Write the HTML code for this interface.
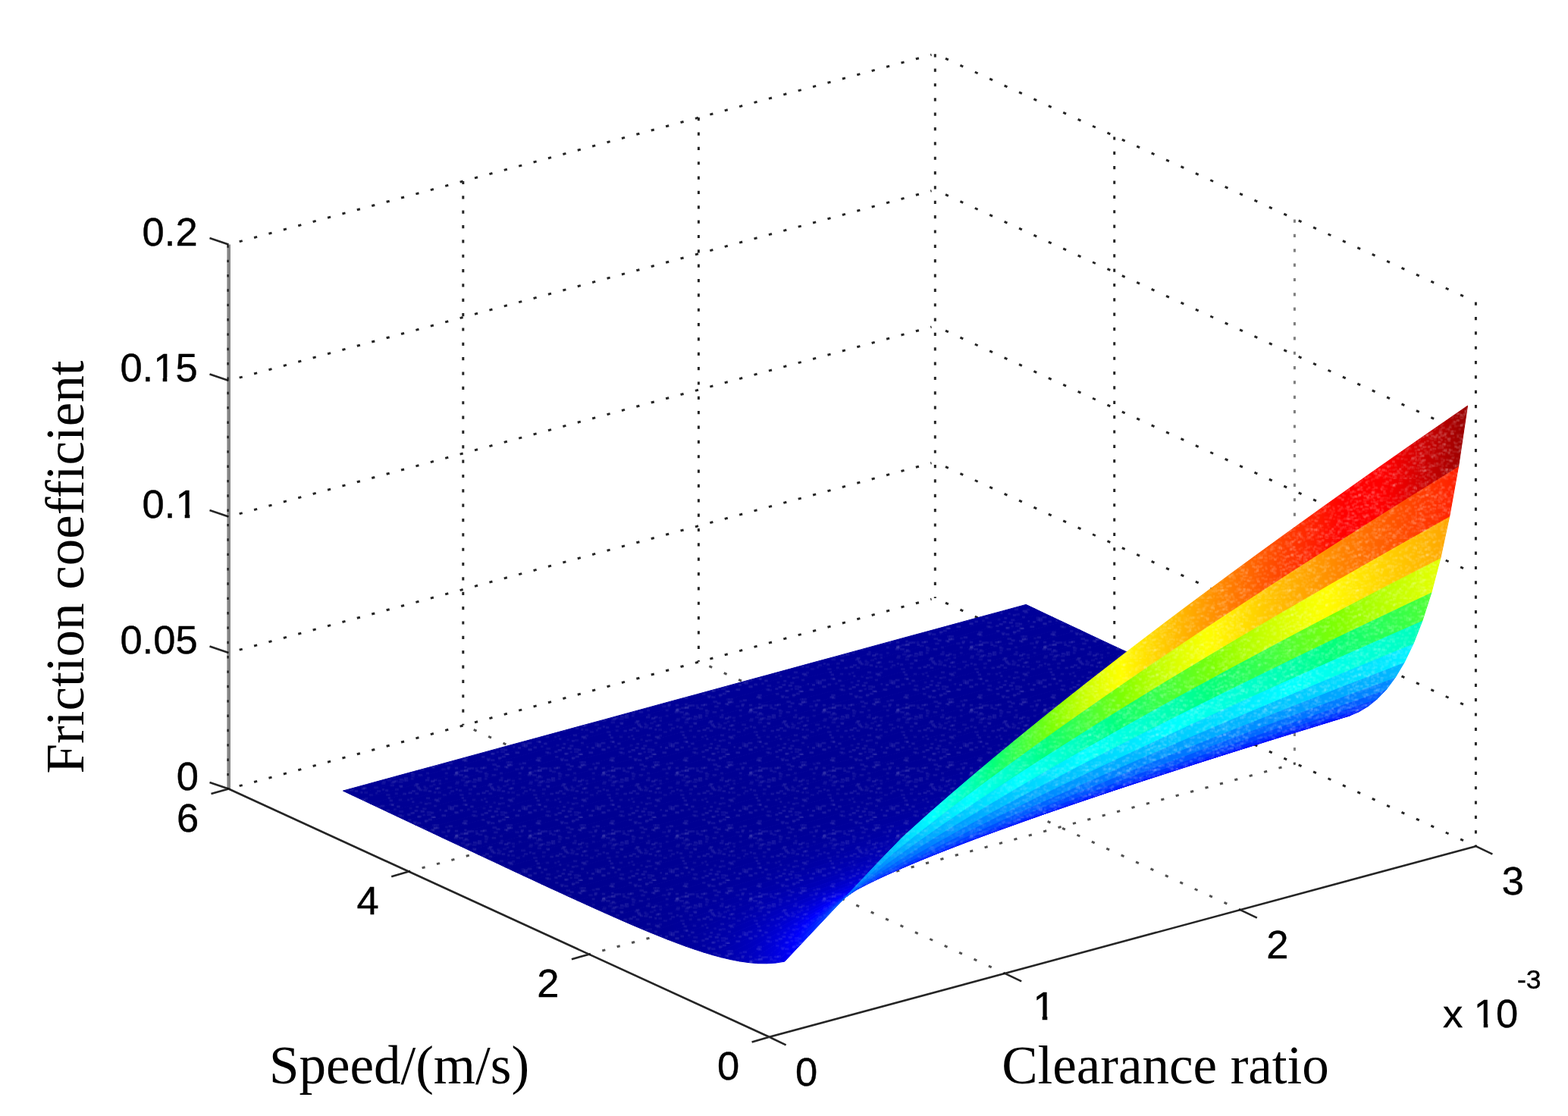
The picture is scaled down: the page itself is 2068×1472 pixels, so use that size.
<!DOCTYPE html>
<html lang="en">
<head>
<meta charset="utf-8">
<title>Friction coefficient vs speed and clearance ratio</title>
<style>
html,body{margin:0;padding:0;background:#fff;}
body{width:2068px;height:1472px;overflow:hidden;}
svg{display:block;}
</style>
</head>
<body>
<svg width="2068" height="1472" viewBox="0 0 2068 1472">
<rect width="2068" height="1472" fill="#fff"/>
<g id="grid" stroke="#000" stroke-width="3.0" fill="none" opacity="0.85">
<line x1="301.5" y1="1040.5" x2="1228.5" y2="790.2" stroke-dasharray="4.20 15.89" stroke-dashoffset="5.41"/>
<line x1="1233.3" y1="788.9" x2="1940.9" y2="1113.7" stroke-dasharray="4.20 17.15" stroke-dashoffset="6.28"/>
<line x1="301.5" y1="861" x2="1228.5" y2="610.7" stroke-dasharray="4.20 15.89" stroke-dashoffset="5.41"/>
<line x1="1233.3" y1="609.4" x2="1940.9" y2="934.2" stroke-dasharray="4.20 17.15" stroke-dashoffset="6.28"/>
<line x1="301.5" y1="681.5" x2="1228.5" y2="431.2" stroke-dasharray="4.20 15.89" stroke-dashoffset="5.41"/>
<line x1="1233.3" y1="429.9" x2="1940.9" y2="754.7" stroke-dasharray="4.20 17.15" stroke-dashoffset="6.28"/>
<line x1="301.5" y1="502" x2="1228.5" y2="251.7" stroke-dasharray="4.20 15.89" stroke-dashoffset="5.41"/>
<line x1="1233.3" y1="250.4" x2="1940.9" y2="575.2" stroke-dasharray="4.20 17.15" stroke-dashoffset="6.28"/>
<line x1="301.5" y1="322.5" x2="1228.5" y2="72.2" stroke-dasharray="4.20 15.89" stroke-dashoffset="5.41"/>
<line x1="1233.3" y1="70.9" x2="1940.9" y2="395.7" stroke-dasharray="4.20 17.15" stroke-dashoffset="6.28"/>
<line x1="610.8" y1="238.6" x2="610.8" y2="956.6" stroke-dasharray="4.20 15.15" stroke-dashoffset="-0.30"/>
<line x1="921.4" y1="154.8" x2="921.4" y2="872.8" stroke-dasharray="4.20 15.15" stroke-dashoffset="-0.30"/>
<line x1="1233.3" y1="70.9" x2="1233.3" y2="788.9" stroke-dasharray="4.20 15.15" stroke-dashoffset="-0.30"/>
<line x1="1469.7" y1="180" x2="1469.7" y2="898" stroke-dasharray="4.20 15.15" stroke-dashoffset="-0.40"/>
<line x1="1707.4" y1="289.1" x2="1707.4" y2="1007.1" stroke-dasharray="4.20 15.15" stroke-dashoffset="-0.40" stroke-opacity="0.6"/>
<line x1="1946.4" y1="398.2" x2="1946.4" y2="1116.2" stroke-dasharray="4.20 15.15" stroke-dashoffset="-0.40"/>
<line x1="1325.2" y1="1283.9" x2="612.1" y2="956.6" stroke-dasharray="4.20 17.15" stroke-dashoffset="2.10" stroke-opacity="0.8"/>
<line x1="1635.8" y1="1200.1" x2="922.7" y2="872.8" stroke-dasharray="4.20 17.15" stroke-dashoffset="2.10" stroke-opacity="0.8"/>
<line x1="776.9" y1="1258.7" x2="1708.7" y2="1007.1" stroke-dasharray="4.20 15.89" stroke-dashoffset="2.10" stroke-opacity="0.8"/>
<line x1="539.2" y1="1149.6" x2="1471" y2="898" stroke-dasharray="4.20 15.89" stroke-dashoffset="2.10" stroke-opacity="0.8"/>
</g>
<defs><path id="p48" d="M464.3,1048.7L495.4,1040.2L526.4,1031.7L557.5,1023.2L588.5,1014.8L619.6,1006.3L650.7,997.8L681.7,989.4L712.8,980.9L743.8,972.4L774.9,963.9L806,955.5L837,947L868.1,938.5L899.1,930.1L930.2,921.6L961.3,913.1L992.3,904.7L1023.4,896.2L1054.4,887.7L1085.5,879.2L1116.6,870.8L1147.6,862.3L1178.7,853.8L1209.7,845.4L1240.8,836.9L1271.9,828.4L1302.9,820L1334,811.5L1365,803L1353.2,797.4L1322.1,805.9L1291,814.3L1260,822.8L1228.9,831.3L1197.8,839.7L1166.8,848.2L1135.7,856.7L1104.7,865.2L1073.6,873.6L1042.6,882.1L1011.5,890.6L980.4,899L949.4,907.5L918.3,916L887.2,924.4L856.2,932.9L825.1,941.4L794.1,949.9L763,958.3L732,966.8L700.9,975.3L669.8,983.7L638.8,992.2L607.7,1000.7L576.7,1009.2L545.6,1017.6L514.5,1026.1L483.5,1034.6L452.4,1043.1Z"/>
<linearGradient id="g48" gradientUnits="userSpaceOnUse" x1="458.4" y1="0" x2="1359.1" y2="0"><stop offset="0.000" stop-color="#000095"/><stop offset="0.190" stop-color="#000095"/><stop offset="0.207" stop-color="#000096"/><stop offset="0.414" stop-color="#000096"/><stop offset="0.431" stop-color="#000097"/><stop offset="0.638" stop-color="#000097"/><stop offset="0.655" stop-color="#000098"/><stop offset="0.862" stop-color="#000098"/><stop offset="0.879" stop-color="#000099"/><stop offset="1.000" stop-color="#000099"/></linearGradient>
<path id="p47" d="M476.2,1054.3L507.2,1045.8L538.3,1037.3L569.4,1028.8L600.4,1020.4L631.5,1011.9L662.5,1003.4L693.6,995L724.7,986.5L755.7,978L786.8,969.5L817.8,961.1L848.9,952.6L880,944.1L911,935.7L942.1,927.2L973.1,918.7L1004.2,910.3L1035.3,901.8L1066.3,893.3L1097.4,884.9L1128.4,876.4L1159.5,867.9L1190.6,859.5L1221.6,851L1252.7,842.5L1283.7,834.1L1314.8,825.6L1345.9,817.1L1376.9,808.7L1365,803L1334,811.5L1302.9,820L1271.9,828.4L1240.8,836.9L1209.7,845.4L1178.7,853.8L1147.6,862.3L1116.6,870.8L1085.5,879.2L1054.4,887.7L1023.4,896.2L992.3,904.7L961.3,913.1L930.2,921.6L899.1,930.1L868.1,938.5L837,947L806,955.5L774.9,963.9L743.8,972.4L712.8,980.9L681.7,989.4L650.7,997.8L619.6,1006.3L588.5,1014.8L557.5,1023.2L526.4,1031.7L495.4,1040.2L464.3,1048.7Z"/>
<linearGradient id="g47" gradientUnits="userSpaceOnUse" x1="470.2" y1="0" x2="1371" y2="0"><stop offset="0.000" stop-color="#000094"/><stop offset="0.052" stop-color="#000094"/><stop offset="0.069" stop-color="#000095"/><stop offset="0.259" stop-color="#000095"/><stop offset="0.276" stop-color="#000096"/><stop offset="0.483" stop-color="#000096"/><stop offset="0.500" stop-color="#000097"/><stop offset="0.707" stop-color="#000097"/><stop offset="0.724" stop-color="#000098"/><stop offset="0.931" stop-color="#000098"/><stop offset="0.948" stop-color="#000099"/><stop offset="1.000" stop-color="#000099"/></linearGradient>
<path id="p46" d="M488.1,1059.9L519.1,1051.4L550.2,1042.9L581.2,1034.5L612.3,1026L643.4,1017.5L674.4,1009L705.5,1000.6L736.5,992.1L767.6,983.6L798.7,975.2L829.7,966.7L860.8,958.2L891.8,949.7L922.9,941.3L954,932.8L985,924.3L1016.1,915.9L1047.1,907.4L1078.2,898.9L1109.3,890.5L1140.3,882L1171.4,873.5L1202.4,865.1L1233.5,856.6L1264.6,848.1L1295.6,839.7L1326.7,831.2L1357.7,822.8L1388.8,814.3L1376.9,808.7L1345.9,817.1L1314.8,825.6L1283.7,834.1L1252.7,842.5L1221.6,851L1190.6,859.5L1159.5,867.9L1128.4,876.4L1097.4,884.9L1066.3,893.3L1035.3,901.8L1004.2,910.3L973.1,918.7L942.1,927.2L911,935.7L880,944.1L848.9,952.6L817.8,961.1L786.8,969.5L755.7,978L724.7,986.5L693.6,995L662.5,1003.4L631.5,1011.9L600.4,1020.4L569.4,1028.8L538.3,1037.3L507.2,1045.8L476.2,1054.3Z"/>
<linearGradient id="g46" gradientUnits="userSpaceOnUse" x1="482.1" y1="0" x2="1382.9" y2="0"><stop offset="0.000" stop-color="#000094"/><stop offset="0.103" stop-color="#000094"/><stop offset="0.121" stop-color="#000095"/><stop offset="0.328" stop-color="#000095"/><stop offset="0.345" stop-color="#000096"/><stop offset="0.552" stop-color="#000096"/><stop offset="0.569" stop-color="#000097"/><stop offset="0.776" stop-color="#000097"/><stop offset="0.793" stop-color="#000098"/><stop offset="1.000" stop-color="#000098"/></linearGradient>
<path id="p45" d="M500,1065.5L531,1057L562.1,1048.5L593.1,1040.1L624.2,1031.6L655.2,1023.1L686.3,1014.6L717.4,1006.2L748.4,997.7L779.5,989.2L810.5,980.8L841.6,972.3L872.7,963.8L903.7,955.4L934.8,946.9L965.8,938.4L996.9,930L1028,921.5L1059,913L1090.1,904.6L1121.2,896.1L1152.2,887.6L1183.3,879.2L1214.3,870.7L1245.4,862.2L1276.5,853.8L1307.5,845.3L1338.6,836.8L1369.6,828.4L1400.7,819.9L1388.8,814.3L1357.7,822.8L1326.7,831.2L1295.6,839.7L1264.6,848.1L1233.5,856.6L1202.4,865.1L1171.4,873.5L1140.3,882L1109.3,890.5L1078.2,898.9L1047.1,907.4L1016.1,915.9L985,924.3L954,932.8L922.9,941.3L891.8,949.7L860.8,958.2L829.7,966.7L798.7,975.2L767.6,983.6L736.5,992.1L705.5,1000.6L674.4,1009L643.4,1017.5L612.3,1026L581.2,1034.5L550.2,1042.9L519.1,1051.4L488.1,1059.9Z"/>
<linearGradient id="g45" gradientUnits="userSpaceOnUse" x1="494" y1="0" x2="1394.7" y2="0"><stop offset="0.000" stop-color="#000094"/><stop offset="0.155" stop-color="#000094"/><stop offset="0.172" stop-color="#000095"/><stop offset="0.379" stop-color="#000095"/><stop offset="0.397" stop-color="#000096"/><stop offset="0.603" stop-color="#000096"/><stop offset="0.621" stop-color="#000097"/><stop offset="0.845" stop-color="#000097"/><stop offset="0.862" stop-color="#000098"/><stop offset="1.000" stop-color="#000098"/></linearGradient>
<path id="p44" d="M511.8,1071.1L542.9,1062.6L574,1054.1L605,1045.7L636.1,1037.2L667.1,1028.7L698.2,1020.2L729.3,1011.8L760.3,1003.3L791.4,994.8L822.4,986.4L853.5,977.9L884.6,969.4L915.6,960.9L946.7,952.5L977.7,944L1008.8,935.5L1039.9,927.1L1070.9,918.6L1102,910.2L1133,901.7L1164.1,893.2L1195.2,884.8L1226.2,876.3L1257.3,867.8L1288.3,859.4L1319.4,850.9L1350.5,842.4L1381.5,834L1412.6,825.5L1400.7,819.9L1369.6,828.4L1338.6,836.8L1307.5,845.3L1276.5,853.8L1245.4,862.2L1214.3,870.7L1183.3,879.2L1152.2,887.6L1121.2,896.1L1090.1,904.6L1059,913L1028,921.5L996.9,930L965.8,938.4L934.8,946.9L903.7,955.4L872.7,963.8L841.6,972.3L810.5,980.8L779.5,989.2L748.4,997.7L717.4,1006.2L686.3,1014.6L655.2,1023.1L624.2,1031.6L593.1,1040.1L562.1,1048.5L531,1057L500,1065.5Z"/>
<linearGradient id="g44" gradientUnits="userSpaceOnUse" x1="505.9" y1="0" x2="1406.6" y2="0"><stop offset="0.000" stop-color="#000093"/><stop offset="0.017" stop-color="#000093"/><stop offset="0.034" stop-color="#000094"/><stop offset="0.224" stop-color="#000094"/><stop offset="0.241" stop-color="#000095"/><stop offset="0.448" stop-color="#000095"/><stop offset="0.466" stop-color="#000096"/><stop offset="0.672" stop-color="#000096"/><stop offset="0.690" stop-color="#000097"/><stop offset="0.914" stop-color="#000097"/><stop offset="0.931" stop-color="#000098"/><stop offset="1.000" stop-color="#000098"/></linearGradient>
<path id="p43" d="M523.7,1076.7L554.8,1068.2L585.8,1059.7L616.9,1051.2L648,1042.8L679,1034.3L710.1,1025.8L741.1,1017.4L772.2,1008.9L803.3,1000.4L834.3,991.9L865.4,983.5L896.4,975L927.5,966.5L958.6,958.1L989.6,949.6L1020.7,941.1L1051.7,932.7L1082.8,924.2L1113.9,915.7L1144.9,907.3L1176,898.8L1207,890.4L1238.1,881.9L1269.2,873.4L1300.2,865L1331.3,856.5L1362.3,848L1393.4,839.6L1424.5,831.1L1412.6,825.5L1381.5,834L1350.5,842.4L1319.4,850.9L1288.3,859.4L1257.3,867.8L1226.2,876.3L1195.2,884.8L1164.1,893.2L1133,901.7L1102,910.2L1070.9,918.6L1039.9,927.1L1008.8,935.5L977.7,944L946.7,952.5L915.6,960.9L884.6,969.4L853.5,977.9L822.4,986.4L791.4,994.8L760.3,1003.3L729.3,1011.8L698.2,1020.2L667.1,1028.7L636.1,1037.2L605,1045.7L574,1054.1L542.9,1062.6L511.8,1071.1Z"/>
<linearGradient id="g43" gradientUnits="userSpaceOnUse" x1="517.8" y1="0" x2="1418.5" y2="0"><stop offset="0.000" stop-color="#000093"/><stop offset="0.069" stop-color="#000093"/><stop offset="0.086" stop-color="#000094"/><stop offset="0.276" stop-color="#000094"/><stop offset="0.293" stop-color="#000095"/><stop offset="0.500" stop-color="#000095"/><stop offset="0.517" stop-color="#000096"/><stop offset="0.741" stop-color="#000096"/><stop offset="0.759" stop-color="#000097"/><stop offset="0.983" stop-color="#000097"/><stop offset="1.000" stop-color="#000098"/></linearGradient>
<path id="p42" d="M535.6,1082.3L566.7,1073.8L597.7,1065.3L628.8,1056.8L659.8,1048.4L690.9,1039.9L722,1031.4L753,1022.9L784.1,1014.5L815.1,1006L846.2,997.5L877.3,989.1L908.3,980.6L939.4,972.1L970.4,963.7L1001.5,955.2L1032.6,946.7L1063.6,938.3L1094.7,929.8L1125.7,921.3L1156.8,912.9L1187.9,904.4L1218.9,895.9L1250,887.5L1281,879L1312.1,870.6L1343.2,862.1L1374.2,853.6L1405.3,845.2L1436.3,836.7L1424.5,831.1L1393.4,839.6L1362.3,848L1331.3,856.5L1300.2,865L1269.2,873.4L1238.1,881.9L1207,890.4L1176,898.8L1144.9,907.3L1113.9,915.7L1082.8,924.2L1051.7,932.7L1020.7,941.1L989.6,949.6L958.6,958.1L927.5,966.5L896.4,975L865.4,983.5L834.3,991.9L803.3,1000.4L772.2,1008.9L741.1,1017.4L710.1,1025.8L679,1034.3L648,1042.8L616.9,1051.2L585.8,1059.7L554.8,1068.2L523.7,1076.7Z"/>
<linearGradient id="g42" gradientUnits="userSpaceOnUse" x1="529.7" y1="0" x2="1430.4" y2="0"><stop offset="0.000" stop-color="#000093"/><stop offset="0.121" stop-color="#000093"/><stop offset="0.138" stop-color="#000094"/><stop offset="0.328" stop-color="#000094"/><stop offset="0.345" stop-color="#000095"/><stop offset="0.552" stop-color="#000095"/><stop offset="0.569" stop-color="#000096"/><stop offset="0.793" stop-color="#000096"/><stop offset="0.810" stop-color="#000097"/><stop offset="1.000" stop-color="#000097"/></linearGradient>
<path id="p41" d="M547.5,1087.9L578.5,1079.4L609.6,1070.9L640.7,1062.4L671.7,1054L702.8,1045.5L733.8,1037L764.9,1028.5L796,1020.1L827,1011.6L858.1,1003.1L889.2,994.6L920.2,986.2L951.3,977.7L982.3,969.2L1013.4,960.8L1044.4,952.3L1075.5,943.8L1106.6,935.4L1137.6,926.9L1168.7,918.4L1199.8,910L1230.8,901.5L1261.9,893.1L1292.9,884.6L1324,876.1L1355.1,867.7L1386.1,859.2L1417.2,850.8L1448.2,842.3L1436.3,836.7L1405.3,845.2L1374.2,853.6L1343.2,862.1L1312.1,870.6L1281,879L1250,887.5L1218.9,895.9L1187.9,904.4L1156.8,912.9L1125.7,921.3L1094.7,929.8L1063.6,938.3L1032.6,946.7L1001.5,955.2L970.4,963.7L939.4,972.1L908.3,980.6L877.3,989.1L846.2,997.5L815.1,1006L784.1,1014.5L753,1022.9L722,1031.4L690.9,1039.9L659.8,1048.4L628.8,1056.8L597.7,1065.3L566.7,1073.8L535.6,1082.3Z"/>
<linearGradient id="g41" gradientUnits="userSpaceOnUse" x1="541.5" y1="0" x2="1442.3" y2="0"><stop offset="0.000" stop-color="#000093"/><stop offset="0.172" stop-color="#000093"/><stop offset="0.190" stop-color="#000094"/><stop offset="0.379" stop-color="#000094"/><stop offset="0.397" stop-color="#000095"/><stop offset="0.621" stop-color="#000095"/><stop offset="0.638" stop-color="#000096"/><stop offset="0.862" stop-color="#000096"/><stop offset="0.879" stop-color="#000097"/><stop offset="1.000" stop-color="#000097"/></linearGradient>
<path id="p40" d="M559.4,1093.5L590.4,1085L621.5,1076.5L652.6,1068L683.6,1059.5L714.7,1051.1L745.7,1042.6L776.8,1034.1L807.9,1025.6L838.9,1017.2L870,1008.7L901,1000.2L932.1,991.7L963.2,983.3L994.2,974.8L1025.3,966.3L1056.3,957.9L1087.4,949.4L1118.5,940.9L1149.5,932.5L1180.6,924L1211.6,915.6L1242.7,907.1L1273.8,898.6L1304.8,890.2L1335.9,881.7L1366.9,873.2L1398,864.8L1429.1,856.3L1460.1,847.9L1448.2,842.3L1417.2,850.8L1386.1,859.2L1355.1,867.7L1324,876.1L1292.9,884.6L1261.9,893.1L1230.8,901.5L1199.8,910L1168.7,918.4L1137.6,926.9L1106.6,935.4L1075.5,943.8L1044.4,952.3L1013.4,960.8L982.3,969.2L951.3,977.7L920.2,986.2L889.2,994.6L858.1,1003.1L827,1011.6L796,1020.1L764.9,1028.5L733.8,1037L702.8,1045.5L671.7,1054L640.7,1062.4L609.6,1070.9L578.5,1079.4L547.5,1087.9Z"/>
<linearGradient id="g40" gradientUnits="userSpaceOnUse" x1="553.4" y1="0" x2="1454.2" y2="0"><stop offset="0.000" stop-color="#000092"/><stop offset="0.017" stop-color="#000092"/><stop offset="0.034" stop-color="#000093"/><stop offset="0.207" stop-color="#000093"/><stop offset="0.224" stop-color="#000094"/><stop offset="0.431" stop-color="#000094"/><stop offset="0.448" stop-color="#000095"/><stop offset="0.672" stop-color="#000095"/><stop offset="0.690" stop-color="#000096"/><stop offset="0.914" stop-color="#000096"/><stop offset="0.931" stop-color="#000097"/><stop offset="1.000" stop-color="#000097"/></linearGradient>
<path id="p39" d="M571.3,1099.1L602.3,1090.6L633.4,1082.1L664.4,1073.6L695.5,1065.1L726.6,1056.6L757.6,1048.1L788.7,1039.7L819.7,1031.2L850.8,1022.7L881.9,1014.2L912.9,1005.8L944,997.3L975,988.8L1006.1,980.4L1037.2,971.9L1068.2,963.4L1099.3,955L1130.3,946.5L1161.4,938L1192.5,929.6L1223.5,921.1L1254.6,912.6L1285.6,904.2L1316.7,895.7L1347.8,887.3L1378.8,878.8L1409.9,870.3L1440.9,861.9L1472,853.4L1460.1,847.9L1429.1,856.3L1398,864.8L1366.9,873.2L1335.9,881.7L1304.8,890.2L1273.8,898.6L1242.7,907.1L1211.6,915.6L1180.6,924L1149.5,932.5L1118.5,940.9L1087.4,949.4L1056.3,957.9L1025.3,966.3L994.2,974.8L963.2,983.3L932.1,991.7L901,1000.2L870,1008.7L838.9,1017.2L807.9,1025.6L776.8,1034.1L745.7,1042.6L714.7,1051.1L683.6,1059.5L652.6,1068L621.5,1076.5L590.4,1085L559.4,1093.5Z"/>
<linearGradient id="g39" gradientUnits="userSpaceOnUse" x1="565.3" y1="0" x2="1466.1" y2="0"><stop offset="0.000" stop-color="#000092"/><stop offset="0.069" stop-color="#000092"/><stop offset="0.086" stop-color="#000093"/><stop offset="0.259" stop-color="#000093"/><stop offset="0.276" stop-color="#000094"/><stop offset="0.483" stop-color="#000094"/><stop offset="0.500" stop-color="#000095"/><stop offset="0.707" stop-color="#000095"/><stop offset="0.724" stop-color="#000096"/><stop offset="0.948" stop-color="#000096"/><stop offset="0.966" stop-color="#000097"/><stop offset="1.000" stop-color="#000097"/></linearGradient>
<path id="p38" d="M583.1,1104.7L614.2,1096.2L645.3,1087.7L676.3,1079.2L707.4,1070.7L738.4,1062.2L769.5,1053.7L800.6,1045.2L831.6,1036.8L862.7,1028.3L893.7,1019.8L924.8,1011.3L955.9,1002.9L986.9,994.4L1018,985.9L1049,977.4L1080.1,969L1111.2,960.5L1142.2,952L1173.3,943.6L1204.3,935.1L1235.4,926.6L1266.5,918.2L1297.5,909.7L1328.6,901.2L1359.6,892.8L1390.7,884.3L1421.8,875.9L1452.8,867.4L1483.9,858.9L1472,853.4L1440.9,861.9L1409.9,870.3L1378.8,878.8L1347.8,887.3L1316.7,895.7L1285.6,904.2L1254.6,912.6L1223.5,921.1L1192.5,929.6L1161.4,938L1130.3,946.5L1099.3,955L1068.2,963.4L1037.2,971.9L1006.1,980.4L975,988.8L944,997.3L912.9,1005.8L881.9,1014.2L850.8,1022.7L819.7,1031.2L788.7,1039.7L757.6,1048.1L726.6,1056.6L695.5,1065.1L664.4,1073.6L633.4,1082.1L602.3,1090.6L571.3,1099.1Z"/>
<linearGradient id="g38" gradientUnits="userSpaceOnUse" x1="577.2" y1="0" x2="1477.9" y2="0"><stop offset="0.000" stop-color="#000092"/><stop offset="0.103" stop-color="#000092"/><stop offset="0.121" stop-color="#000093"/><stop offset="0.293" stop-color="#000093"/><stop offset="0.310" stop-color="#000094"/><stop offset="0.517" stop-color="#000094"/><stop offset="0.534" stop-color="#000095"/><stop offset="0.741" stop-color="#000095"/><stop offset="0.759" stop-color="#000096"/><stop offset="0.983" stop-color="#000096"/><stop offset="1.000" stop-color="#000097"/></linearGradient>
<path id="p37" d="M595,1110.3L626.1,1101.7L657.1,1093.2L688.2,1084.7L719.3,1076.2L750.3,1067.8L781.4,1059.3L812.4,1050.8L843.5,1042.3L874.6,1033.8L905.6,1025.3L936.7,1016.9L967.8,1008.4L998.8,999.9L1029.9,991.4L1060.9,983L1092,974.5L1123.1,966L1154.1,957.6L1185.2,949.1L1216.2,940.6L1247.3,932.2L1278.3,923.7L1309.4,915.2L1340.5,906.8L1371.5,898.3L1402.6,889.8L1433.7,881.4L1464.7,872.9L1495.8,864.5L1483.9,858.9L1452.8,867.4L1421.8,875.9L1390.7,884.3L1359.6,892.8L1328.6,901.2L1297.5,909.7L1266.5,918.2L1235.4,926.6L1204.3,935.1L1173.3,943.6L1142.2,952L1111.2,960.5L1080.1,969L1049,977.4L1018,985.9L986.9,994.4L955.9,1002.9L924.8,1011.3L893.7,1019.8L862.7,1028.3L831.6,1036.8L800.6,1045.2L769.5,1053.7L738.4,1062.2L707.4,1070.7L676.3,1079.2L645.3,1087.7L614.2,1096.2L583.1,1104.7Z"/>
<linearGradient id="g37" gradientUnits="userSpaceOnUse" x1="589.1" y1="0" x2="1489.8" y2="0"><stop offset="0.000" stop-color="#000092"/><stop offset="0.138" stop-color="#000092"/><stop offset="0.155" stop-color="#000093"/><stop offset="0.328" stop-color="#000093"/><stop offset="0.345" stop-color="#000094"/><stop offset="0.534" stop-color="#000094"/><stop offset="0.552" stop-color="#000095"/><stop offset="0.776" stop-color="#000095"/><stop offset="0.793" stop-color="#000096"/><stop offset="1.000" stop-color="#000096"/></linearGradient>
<path id="p36" d="M606.9,1115.8L638,1107.3L669,1098.8L700.1,1090.3L731.2,1081.8L762.2,1073.3L793.3,1064.8L824.3,1056.3L855.4,1047.8L886.5,1039.3L917.5,1030.9L948.6,1022.4L979.6,1013.9L1010.7,1005.4L1041.8,996.9L1072.8,988.5L1103.9,980L1134.9,971.5L1166,963.1L1197.1,954.6L1228.1,946.1L1259.2,937.6L1290.2,929.2L1321.3,920.7L1352.4,912.2L1383.4,903.8L1414.5,895.3L1445.5,886.9L1476.6,878.4L1507.7,869.9L1495.8,864.5L1464.7,872.9L1433.7,881.4L1402.6,889.8L1371.5,898.3L1340.5,906.8L1309.4,915.2L1278.3,923.7L1247.3,932.2L1216.2,940.6L1185.2,949.1L1154.1,957.6L1123.1,966L1092,974.5L1060.9,983L1029.9,991.4L998.8,999.9L967.8,1008.4L936.7,1016.9L905.6,1025.3L874.6,1033.8L843.5,1042.3L812.4,1050.8L781.4,1059.3L750.3,1067.8L719.3,1076.2L688.2,1084.7L657.1,1093.2L626.1,1101.7L595,1110.3Z"/>
<linearGradient id="g36" gradientUnits="userSpaceOnUse" x1="601" y1="0" x2="1501.7" y2="0"><stop offset="0.000" stop-color="#000091"/><stop offset="0.017" stop-color="#000091"/><stop offset="0.034" stop-color="#000092"/><stop offset="0.172" stop-color="#000092"/><stop offset="0.190" stop-color="#000093"/><stop offset="0.362" stop-color="#000093"/><stop offset="0.379" stop-color="#000094"/><stop offset="0.569" stop-color="#000094"/><stop offset="0.586" stop-color="#000095"/><stop offset="0.793" stop-color="#000095"/><stop offset="0.810" stop-color="#000096"/><stop offset="1.000" stop-color="#000096"/></linearGradient>
<path id="p35" d="M618.8,1121.4L649.9,1112.9L680.9,1104.4L712,1095.9L743,1087.3L774.1,1078.8L805.2,1070.3L836.2,1061.8L867.3,1053.3L898.3,1044.9L929.4,1036.4L960.5,1027.9L991.5,1019.4L1022.6,1010.9L1053.6,1002.4L1084.7,994L1115.8,985.5L1146.8,977L1177.9,968.5L1208.9,960.1L1240,951.6L1271.1,943.1L1302.1,934.6L1333.2,926.2L1364.2,917.7L1395.3,909.2L1426.4,900.8L1457.4,892.3L1488.5,883.8L1519.5,875.4L1507.7,869.9L1476.6,878.4L1445.5,886.9L1414.5,895.3L1383.4,903.8L1352.4,912.2L1321.3,920.7L1290.2,929.2L1259.2,937.6L1228.1,946.1L1197.1,954.6L1166,963.1L1134.9,971.5L1103.9,980L1072.8,988.5L1041.8,996.9L1010.7,1005.4L979.6,1013.9L948.6,1022.4L917.5,1030.9L886.5,1039.3L855.4,1047.8L824.3,1056.3L793.3,1064.8L762.2,1073.3L731.2,1081.8L700.1,1090.3L669,1098.8L638,1107.3L606.9,1115.8Z"/>
<linearGradient id="g35" gradientUnits="userSpaceOnUse" x1="612.9" y1="0" x2="1513.6" y2="0"><stop offset="0.000" stop-color="#000091"/><stop offset="0.052" stop-color="#000091"/><stop offset="0.069" stop-color="#000092"/><stop offset="0.190" stop-color="#000092"/><stop offset="0.207" stop-color="#000093"/><stop offset="0.379" stop-color="#000093"/><stop offset="0.397" stop-color="#000094"/><stop offset="0.569" stop-color="#000094"/><stop offset="0.586" stop-color="#000095"/><stop offset="0.793" stop-color="#000095"/><stop offset="0.810" stop-color="#000096"/><stop offset="1.000" stop-color="#000096"/></linearGradient>
<path id="p34" d="M630.7,1127L661.7,1118.5L692.8,1109.9L723.9,1101.4L754.9,1092.9L786,1084.4L817,1075.8L848.1,1067.3L879.2,1058.8L910.2,1050.3L941.3,1041.9L972.3,1033.4L1003.4,1024.9L1034.5,1016.4L1065.5,1007.9L1096.6,999.4L1127.6,990.9L1158.7,982.5L1189.8,974L1220.8,965.5L1251.9,957L1282.9,948.5L1314,940.1L1345.1,931.6L1376.1,923.1L1407.2,914.7L1438.2,906.2L1469.3,897.7L1500.4,889.3L1531.4,880.8L1519.5,875.4L1488.5,883.8L1457.4,892.3L1426.4,900.8L1395.3,909.2L1364.2,917.7L1333.2,926.2L1302.1,934.6L1271.1,943.1L1240,951.6L1208.9,960.1L1177.9,968.5L1146.8,977L1115.8,985.5L1084.7,994L1053.6,1002.4L1022.6,1010.9L991.5,1019.4L960.5,1027.9L929.4,1036.4L898.3,1044.9L867.3,1053.3L836.2,1061.8L805.2,1070.3L774.1,1078.8L743,1087.3L712,1095.9L680.9,1104.4L649.9,1112.9L618.8,1121.4Z"/>
<linearGradient id="g34" gradientUnits="userSpaceOnUse" x1="624.7" y1="0" x2="1525.5" y2="0"><stop offset="0.000" stop-color="#000091"/><stop offset="0.069" stop-color="#000091"/><stop offset="0.086" stop-color="#000092"/><stop offset="0.207" stop-color="#000092"/><stop offset="0.224" stop-color="#000093"/><stop offset="0.379" stop-color="#000093"/><stop offset="0.397" stop-color="#000094"/><stop offset="0.569" stop-color="#000094"/><stop offset="0.586" stop-color="#000095"/><stop offset="0.776" stop-color="#000095"/><stop offset="0.793" stop-color="#000096"/><stop offset="1.000" stop-color="#000096"/></linearGradient>
<path id="p33" d="M642.6,1132.6L673.6,1124L704.7,1115.5L735.8,1106.9L766.8,1098.4L797.9,1089.9L828.9,1081.3L860,1072.8L891.1,1064.3L922.1,1055.8L953.2,1047.3L984.2,1038.8L1015.3,1030.3L1046.3,1021.8L1077.4,1013.3L1108.5,1004.8L1139.5,996.4L1170.6,987.9L1201.7,979.4L1232.7,970.9L1263.8,962.4L1294.8,953.9L1325.9,945.5L1356.9,937L1388,928.5L1419.1,920L1450.1,911.6L1481.2,903.1L1512.2,894.6L1543.3,886.2L1531.4,880.8L1500.4,889.3L1469.3,897.7L1438.2,906.2L1407.2,914.7L1376.1,923.1L1345.1,931.6L1314,940.1L1282.9,948.5L1251.9,957L1220.8,965.5L1189.8,974L1158.7,982.5L1127.6,990.9L1096.6,999.4L1065.5,1007.9L1034.5,1016.4L1003.4,1024.9L972.3,1033.4L941.3,1041.9L910.2,1050.3L879.2,1058.8L848.1,1067.3L817,1075.8L786,1084.4L754.9,1092.9L723.9,1101.4L692.8,1109.9L661.7,1118.5L630.7,1127Z"/>
<linearGradient id="g33" gradientUnits="userSpaceOnUse" x1="636.6" y1="0" x2="1537.4" y2="0"><stop offset="0.000" stop-color="#000091"/><stop offset="0.086" stop-color="#000091"/><stop offset="0.103" stop-color="#000092"/><stop offset="0.224" stop-color="#000092"/><stop offset="0.241" stop-color="#000093"/><stop offset="0.379" stop-color="#000093"/><stop offset="0.397" stop-color="#000094"/><stop offset="0.552" stop-color="#000094"/><stop offset="0.569" stop-color="#000095"/><stop offset="0.741" stop-color="#000095"/><stop offset="0.759" stop-color="#000096"/><stop offset="0.966" stop-color="#000096"/><stop offset="0.983" stop-color="#000097"/><stop offset="1.000" stop-color="#000097"/></linearGradient>
<path id="p32" d="M654.5,1138.1L685.5,1129.6L716.6,1121L747.6,1112.5L778.7,1103.9L809.8,1095.3L840.8,1086.8L871.9,1078.3L902.9,1069.8L934,1061.3L965.1,1052.7L996.1,1044.2L1027.2,1035.7L1058.2,1027.2L1089.3,1018.7L1120.4,1010.2L1151.4,1001.7L1182.5,993.2L1213.5,984.8L1244.6,976.3L1275.7,967.8L1306.7,959.3L1337.8,950.8L1368.8,942.3L1399.9,933.8L1431,925.4L1462,916.9L1493.1,908.4L1524.1,899.9L1555.2,891.5L1543.3,886.2L1512.2,894.6L1481.2,903.1L1450.1,911.6L1419.1,920L1388,928.5L1356.9,937L1325.9,945.5L1294.8,953.9L1263.8,962.4L1232.7,970.9L1201.7,979.4L1170.6,987.9L1139.5,996.4L1108.5,1004.8L1077.4,1013.3L1046.3,1021.8L1015.3,1030.3L984.2,1038.8L953.2,1047.3L922.1,1055.8L891.1,1064.3L860,1072.8L828.9,1081.3L797.9,1089.9L766.8,1098.4L735.8,1106.9L704.7,1115.5L673.6,1124L642.6,1132.6Z"/>
<linearGradient id="g32" gradientUnits="userSpaceOnUse" x1="648.5" y1="0" x2="1549.3" y2="0"><stop offset="0.000" stop-color="#000090"/><stop offset="0.017" stop-color="#000091"/><stop offset="0.103" stop-color="#000091"/><stop offset="0.121" stop-color="#000092"/><stop offset="0.224" stop-color="#000092"/><stop offset="0.241" stop-color="#000093"/><stop offset="0.362" stop-color="#000093"/><stop offset="0.379" stop-color="#000094"/><stop offset="0.534" stop-color="#000094"/><stop offset="0.552" stop-color="#000095"/><stop offset="0.707" stop-color="#000095"/><stop offset="0.724" stop-color="#000096"/><stop offset="0.897" stop-color="#000096"/><stop offset="0.914" stop-color="#000097"/><stop offset="1.000" stop-color="#000097"/></linearGradient>
<path id="p31" d="M666.3,1143.7L697.4,1135.1L728.5,1126.5L759.5,1118L790.6,1109.4L821.6,1100.8L852.7,1092.3L883.8,1083.7L914.8,1075.2L945.9,1066.7L976.9,1058.1L1008,1049.6L1039.1,1041.1L1070.1,1032.6L1101.2,1024.1L1132.2,1015.6L1163.3,1007.1L1194.4,998.6L1225.4,990.1L1256.5,981.6L1287.5,973.1L1318.6,964.6L1349.7,956.1L1380.7,947.6L1411.8,939.1L1442.8,930.6L1473.9,922.1L1505,913.7L1536,905.2L1567.1,896.7L1555.2,891.5L1524.1,899.9L1493.1,908.4L1462,916.9L1431,925.4L1399.9,933.8L1368.8,942.3L1337.8,950.8L1306.7,959.3L1275.7,967.8L1244.6,976.3L1213.5,984.8L1182.5,993.2L1151.4,1001.7L1120.4,1010.2L1089.3,1018.7L1058.2,1027.2L1027.2,1035.7L996.1,1044.2L965.1,1052.7L934,1061.3L902.9,1069.8L871.9,1078.3L840.8,1086.8L809.8,1095.3L778.7,1103.9L747.6,1112.5L716.6,1121L685.5,1129.6L654.5,1138.1Z"/>
<linearGradient id="g31" gradientUnits="userSpaceOnUse" x1="660.4" y1="0" x2="1561.1" y2="0"><stop offset="0.000" stop-color="#000090"/><stop offset="0.017" stop-color="#000090"/><stop offset="0.034" stop-color="#000091"/><stop offset="0.121" stop-color="#000091"/><stop offset="0.138" stop-color="#000092"/><stop offset="0.224" stop-color="#000092"/><stop offset="0.241" stop-color="#000093"/><stop offset="0.345" stop-color="#000093"/><stop offset="0.362" stop-color="#000094"/><stop offset="0.500" stop-color="#000094"/><stop offset="0.517" stop-color="#000095"/><stop offset="0.655" stop-color="#000095"/><stop offset="0.672" stop-color="#000096"/><stop offset="0.828" stop-color="#000096"/><stop offset="0.845" stop-color="#000097"/><stop offset="1.000" stop-color="#000097"/></linearGradient>
<path id="p30" d="M678.2,1149.3L709.3,1140.6L740.3,1132L771.4,1123.4L802.5,1114.8L833.5,1106.2L864.6,1097.7L895.6,1089.1L926.7,1080.6L957.8,1072L988.8,1063.5L1019.9,1055L1050.9,1046.4L1082,1037.9L1113.1,1029.4L1144.1,1020.9L1175.2,1012.3L1206.2,1003.8L1237.3,995.3L1268.4,986.8L1299.4,978.3L1330.5,969.8L1361.5,961.3L1392.6,952.8L1423.7,944.3L1454.7,935.8L1485.8,927.3L1516.8,918.8L1547.9,910.4L1579,901.9L1567.1,896.7L1536,905.2L1505,913.7L1473.9,922.1L1442.8,930.6L1411.8,939.1L1380.7,947.6L1349.7,956.1L1318.6,964.6L1287.5,973.1L1256.5,981.6L1225.4,990.1L1194.4,998.6L1163.3,1007.1L1132.2,1015.6L1101.2,1024.1L1070.1,1032.6L1039.1,1041.1L1008,1049.6L976.9,1058.1L945.9,1066.7L914.8,1075.2L883.8,1083.7L852.7,1092.3L821.6,1100.8L790.6,1109.4L759.5,1118L728.5,1126.5L697.4,1135.1L666.3,1143.7Z"/>
<linearGradient id="g30" gradientUnits="userSpaceOnUse" x1="672.3" y1="0" x2="1573" y2="0"><stop offset="0.000" stop-color="#000090"/><stop offset="0.034" stop-color="#000090"/><stop offset="0.052" stop-color="#000091"/><stop offset="0.121" stop-color="#000091"/><stop offset="0.138" stop-color="#000092"/><stop offset="0.207" stop-color="#000092"/><stop offset="0.224" stop-color="#000093"/><stop offset="0.328" stop-color="#000093"/><stop offset="0.345" stop-color="#000094"/><stop offset="0.448" stop-color="#000094"/><stop offset="0.466" stop-color="#000095"/><stop offset="0.603" stop-color="#000095"/><stop offset="0.621" stop-color="#000096"/><stop offset="0.759" stop-color="#000096"/><stop offset="0.776" stop-color="#000097"/><stop offset="0.931" stop-color="#000097"/><stop offset="0.948" stop-color="#000098"/><stop offset="1.000" stop-color="#000098"/></linearGradient>
<path id="p29" d="M690.1,1154.8L721.2,1146.2L752.2,1137.5L783.3,1128.9L814.4,1120.3L845.4,1111.6L876.5,1103.1L907.5,1094.5L938.6,1085.9L969.7,1077.4L1000.7,1068.8L1031.8,1060.2L1062.8,1051.7L1093.9,1043.2L1125,1034.6L1156,1026.1L1187.1,1017.6L1218.1,1009L1249.2,1000.5L1280.3,992L1311.3,983.5L1342.4,975L1373.4,966.5L1404.5,957.9L1435.5,949.4L1466.6,940.9L1497.7,932.4L1528.7,923.9L1559.8,915.4L1590.9,906.9L1579,901.9L1547.9,910.4L1516.8,918.8L1485.8,927.3L1454.7,935.8L1423.7,944.3L1392.6,952.8L1361.5,961.3L1330.5,969.8L1299.4,978.3L1268.4,986.8L1237.3,995.3L1206.2,1003.8L1175.2,1012.3L1144.1,1020.9L1113.1,1029.4L1082,1037.9L1050.9,1046.4L1019.9,1055L988.8,1063.5L957.8,1072L926.7,1080.6L895.6,1089.1L864.6,1097.7L833.5,1106.2L802.5,1114.8L771.4,1123.4L740.3,1132L709.3,1140.6L678.2,1149.3Z"/>
<linearGradient id="g29" gradientUnits="userSpaceOnUse" x1="684.2" y1="0" x2="1584.9" y2="0"><stop offset="0.000" stop-color="#000090"/><stop offset="0.034" stop-color="#000090"/><stop offset="0.052" stop-color="#000091"/><stop offset="0.121" stop-color="#000091"/><stop offset="0.138" stop-color="#000092"/><stop offset="0.190" stop-color="#000092"/><stop offset="0.207" stop-color="#000093"/><stop offset="0.293" stop-color="#000093"/><stop offset="0.310" stop-color="#000094"/><stop offset="0.414" stop-color="#000094"/><stop offset="0.431" stop-color="#000095"/><stop offset="0.534" stop-color="#000095"/><stop offset="0.552" stop-color="#000096"/><stop offset="0.672" stop-color="#000096"/><stop offset="0.690" stop-color="#000097"/><stop offset="0.810" stop-color="#000097"/><stop offset="0.828" stop-color="#000098"/><stop offset="0.983" stop-color="#000098"/><stop offset="1.000" stop-color="#000099"/></linearGradient>
<path id="p28" d="M702,1160.3L733.1,1151.7L764.1,1143L795.2,1134.3L826.2,1125.7L857.3,1117L888.4,1108.4L919.4,1099.8L950.5,1091.2L981.5,1082.6L1012.6,1074L1043.7,1065.5L1074.7,1056.9L1105.8,1048.3L1136.8,1039.8L1167.9,1031.2L1199,1022.7L1230,1014.2L1261.1,1005.6L1292.1,997.1L1323.2,988.6L1354.3,980L1385.3,971.5L1416.4,963L1447.4,954.5L1478.5,946L1509.6,937.4L1540.6,928.9L1571.7,920.4L1602.7,911.9L1590.9,906.9L1559.8,915.4L1528.7,923.9L1497.7,932.4L1466.6,940.9L1435.5,949.4L1404.5,957.9L1373.4,966.5L1342.4,975L1311.3,983.5L1280.3,992L1249.2,1000.5L1218.1,1009L1187.1,1017.6L1156,1026.1L1125,1034.6L1093.9,1043.2L1062.8,1051.7L1031.8,1060.2L1000.7,1068.8L969.7,1077.4L938.6,1085.9L907.5,1094.5L876.5,1103.1L845.4,1111.6L814.4,1120.3L783.3,1128.9L752.2,1137.5L721.2,1146.2L690.1,1154.8Z"/>
<linearGradient id="g28" gradientUnits="userSpaceOnUse" x1="696.1" y1="0" x2="1596.8" y2="0"><stop offset="0.000" stop-color="#000090"/><stop offset="0.034" stop-color="#000090"/><stop offset="0.052" stop-color="#000091"/><stop offset="0.103" stop-color="#000091"/><stop offset="0.121" stop-color="#000092"/><stop offset="0.172" stop-color="#000092"/><stop offset="0.190" stop-color="#000093"/><stop offset="0.259" stop-color="#000093"/><stop offset="0.276" stop-color="#000094"/><stop offset="0.362" stop-color="#000094"/><stop offset="0.379" stop-color="#000095"/><stop offset="0.466" stop-color="#000095"/><stop offset="0.483" stop-color="#000096"/><stop offset="0.586" stop-color="#000096"/><stop offset="0.603" stop-color="#000097"/><stop offset="0.707" stop-color="#000097"/><stop offset="0.724" stop-color="#000098"/><stop offset="0.845" stop-color="#000098"/><stop offset="0.862" stop-color="#000099"/><stop offset="1.000" stop-color="#000099"/></linearGradient>
<path id="p27" d="M713.9,1165.9L744.9,1157.1L776,1148.4L807.1,1139.7L838.1,1131L869.2,1122.3L900.2,1113.7L931.3,1105L962.4,1096.4L993.4,1087.8L1024.5,1079.2L1055.5,1070.6L1086.6,1062L1117.7,1053.5L1148.7,1044.9L1179.8,1036.3L1210.8,1027.7L1241.9,1019.2L1273,1010.6L1304,1002.1L1335.1,993.5L1366.1,985L1397.2,976.4L1428.3,967.9L1459.3,959.4L1490.4,950.8L1521.4,942.3L1552.5,933.8L1583.6,925.3L1614.6,916.8L1602.7,911.9L1571.7,920.4L1540.6,928.9L1509.6,937.4L1478.5,946L1447.4,954.5L1416.4,963L1385.3,971.5L1354.3,980L1323.2,988.6L1292.1,997.1L1261.1,1005.6L1230,1014.2L1199,1022.7L1167.9,1031.2L1136.8,1039.8L1105.8,1048.3L1074.7,1056.9L1043.7,1065.5L1012.6,1074L981.5,1082.6L950.5,1091.2L919.4,1099.8L888.4,1108.4L857.3,1117L826.2,1125.7L795.2,1134.3L764.1,1143L733.1,1151.7L702,1160.3Z"/>
<linearGradient id="g27" gradientUnits="userSpaceOnUse" x1="707.9" y1="0" x2="1608.7" y2="0"><stop offset="0.000" stop-color="#000090"/><stop offset="0.034" stop-color="#000090"/><stop offset="0.052" stop-color="#000091"/><stop offset="0.103" stop-color="#000091"/><stop offset="0.121" stop-color="#000092"/><stop offset="0.155" stop-color="#000092"/><stop offset="0.172" stop-color="#000093"/><stop offset="0.224" stop-color="#000093"/><stop offset="0.241" stop-color="#000094"/><stop offset="0.310" stop-color="#000094"/><stop offset="0.328" stop-color="#000095"/><stop offset="0.397" stop-color="#000095"/><stop offset="0.414" stop-color="#000096"/><stop offset="0.500" stop-color="#000096"/><stop offset="0.517" stop-color="#000097"/><stop offset="0.603" stop-color="#000097"/><stop offset="0.621" stop-color="#000098"/><stop offset="0.707" stop-color="#000098"/><stop offset="0.724" stop-color="#000099"/><stop offset="0.845" stop-color="#000099"/><stop offset="0.862" stop-color="#00009a"/><stop offset="0.966" stop-color="#00009a"/><stop offset="0.983" stop-color="#00009b"/><stop offset="1.000" stop-color="#00009b"/></linearGradient>
<path id="p26" d="M725.8,1171.4L756.8,1162.6L787.9,1153.8L818.9,1145.1L850,1136.3L881.1,1127.6L912.1,1118.9L943.2,1110.2L974.2,1101.6L1005.3,1092.9L1036.4,1084.3L1067.4,1075.7L1098.5,1067.1L1129.5,1058.5L1160.6,1049.9L1191.7,1041.3L1222.7,1032.7L1253.8,1024.1L1284.8,1015.5L1315.9,1006.9L1347,998.4L1378,989.8L1409.1,981.3L1440.1,972.7L1471.2,964.1L1502.3,955.6L1533.3,947.1L1564.4,938.5L1595.4,930L1626.5,921.4L1614.6,916.8L1583.6,925.3L1552.5,933.8L1521.4,942.3L1490.4,950.8L1459.3,959.4L1428.3,967.9L1397.2,976.4L1366.1,985L1335.1,993.5L1304,1002.1L1273,1010.6L1241.9,1019.2L1210.8,1027.7L1179.8,1036.3L1148.7,1044.9L1117.7,1053.5L1086.6,1062L1055.5,1070.6L1024.5,1079.2L993.4,1087.8L962.4,1096.4L931.3,1105L900.2,1113.7L869.2,1122.3L838.1,1131L807.1,1139.7L776,1148.4L744.9,1157.1L713.9,1165.9Z"/>
<linearGradient id="g26" gradientUnits="userSpaceOnUse" x1="719.8" y1="0" x2="1620.6" y2="0"><stop offset="0.000" stop-color="#000090"/><stop offset="0.034" stop-color="#000090"/><stop offset="0.052" stop-color="#000091"/><stop offset="0.086" stop-color="#000091"/><stop offset="0.103" stop-color="#000092"/><stop offset="0.138" stop-color="#000092"/><stop offset="0.155" stop-color="#000093"/><stop offset="0.207" stop-color="#000093"/><stop offset="0.224" stop-color="#000094"/><stop offset="0.259" stop-color="#000094"/><stop offset="0.276" stop-color="#000095"/><stop offset="0.345" stop-color="#000095"/><stop offset="0.362" stop-color="#000096"/><stop offset="0.414" stop-color="#000096"/><stop offset="0.431" stop-color="#000097"/><stop offset="0.500" stop-color="#000097"/><stop offset="0.517" stop-color="#000098"/><stop offset="0.603" stop-color="#000098"/><stop offset="0.621" stop-color="#000099"/><stop offset="0.690" stop-color="#000099"/><stop offset="0.707" stop-color="#00009a"/><stop offset="0.810" stop-color="#00009a"/><stop offset="0.828" stop-color="#00009b"/><stop offset="0.914" stop-color="#00009b"/><stop offset="0.931" stop-color="#00009c"/><stop offset="1.000" stop-color="#00009c"/></linearGradient>
<path id="p25" d="M737.7,1176.8L768.7,1168L799.8,1159.2L830.8,1150.4L861.9,1141.6L893,1132.8L924,1124.1L955.1,1115.4L986.1,1106.7L1017.2,1098L1048.2,1089.3L1079.3,1080.7L1110.4,1072L1141.4,1063.4L1172.5,1054.7L1203.5,1046.1L1234.6,1037.5L1265.7,1028.9L1296.7,1020.3L1327.8,1011.7L1358.9,1003.1L1389.9,994.5L1421,985.9L1452,977.3L1483.1,968.8L1514.2,960.2L1545.2,951.6L1576.3,943.1L1607.3,934.5L1638.4,925.9L1626.5,921.4L1595.4,930L1564.4,938.5L1533.3,947.1L1502.3,955.6L1471.2,964.1L1440.1,972.7L1409.1,981.3L1378,989.8L1347,998.4L1315.9,1006.9L1284.8,1015.5L1253.8,1024.1L1222.7,1032.7L1191.7,1041.3L1160.6,1049.9L1129.5,1058.5L1098.5,1067.1L1067.4,1075.7L1036.4,1084.3L1005.3,1092.9L974.2,1101.6L943.2,1110.2L912.1,1118.9L881.1,1127.6L850,1136.3L818.9,1145.1L787.9,1153.8L756.8,1162.6L725.8,1171.4Z"/>
<linearGradient id="g25" gradientUnits="userSpaceOnUse" x1="731.7" y1="0" x2="1632.4" y2="0"><stop offset="0.000" stop-color="#00008f"/><stop offset="0.017" stop-color="#000090"/><stop offset="0.034" stop-color="#000090"/><stop offset="0.052" stop-color="#000091"/><stop offset="0.086" stop-color="#000091"/><stop offset="0.103" stop-color="#000092"/><stop offset="0.121" stop-color="#000092"/><stop offset="0.138" stop-color="#000093"/><stop offset="0.172" stop-color="#000093"/><stop offset="0.190" stop-color="#000094"/><stop offset="0.224" stop-color="#000094"/><stop offset="0.241" stop-color="#000095"/><stop offset="0.276" stop-color="#000095"/><stop offset="0.293" stop-color="#000096"/><stop offset="0.345" stop-color="#000096"/><stop offset="0.362" stop-color="#000097"/><stop offset="0.414" stop-color="#000097"/><stop offset="0.431" stop-color="#000098"/><stop offset="0.500" stop-color="#000098"/><stop offset="0.517" stop-color="#000099"/><stop offset="0.569" stop-color="#000099"/><stop offset="0.586" stop-color="#00009a"/><stop offset="0.655" stop-color="#00009a"/><stop offset="0.672" stop-color="#00009b"/><stop offset="0.741" stop-color="#00009b"/><stop offset="0.759" stop-color="#00009c"/><stop offset="0.845" stop-color="#00009c"/><stop offset="0.862" stop-color="#00009d"/><stop offset="0.948" stop-color="#00009d"/><stop offset="0.966" stop-color="#00009e"/><stop offset="1.000" stop-color="#00009e"/></linearGradient>
<path id="p24" d="M749.5,1182.3L780.6,1173.4L811.7,1164.5L842.7,1155.6L873.8,1146.8L904.8,1137.9L935.9,1129.1L967,1120.4L998,1111.6L1029.1,1102.9L1060.1,1094.2L1091.2,1085.5L1122.3,1076.8L1153.3,1068.1L1184.4,1059.5L1215.4,1050.8L1246.5,1042.2L1277.6,1033.5L1308.6,1024.9L1339.7,1016.2L1370.7,1007.6L1401.8,999L1432.9,990.4L1463.9,981.8L1495,973.2L1526,964.6L1557.1,956L1588.2,947.4L1619.2,938.8L1650.3,930.2L1638.4,925.9L1607.3,934.5L1576.3,943.1L1545.2,951.6L1514.2,960.2L1483.1,968.8L1452,977.3L1421,985.9L1389.9,994.5L1358.9,1003.1L1327.8,1011.7L1296.7,1020.3L1265.7,1028.9L1234.6,1037.5L1203.5,1046.1L1172.5,1054.7L1141.4,1063.4L1110.4,1072L1079.3,1080.7L1048.2,1089.3L1017.2,1098L986.1,1106.7L955.1,1115.4L924,1124.1L893,1132.8L861.9,1141.6L830.8,1150.4L799.8,1159.2L768.7,1168L737.7,1176.8Z"/>
<linearGradient id="g24" gradientUnits="userSpaceOnUse" x1="743.6" y1="0" x2="1644.3" y2="0"><stop offset="0.000" stop-color="#00008f"/><stop offset="0.017" stop-color="#000090"/><stop offset="0.034" stop-color="#000090"/><stop offset="0.052" stop-color="#000091"/><stop offset="0.069" stop-color="#000091"/><stop offset="0.086" stop-color="#000092"/><stop offset="0.103" stop-color="#000092"/><stop offset="0.121" stop-color="#000093"/><stop offset="0.138" stop-color="#000093"/><stop offset="0.155" stop-color="#000094"/><stop offset="0.190" stop-color="#000094"/><stop offset="0.207" stop-color="#000095"/><stop offset="0.241" stop-color="#000095"/><stop offset="0.259" stop-color="#000096"/><stop offset="0.293" stop-color="#000096"/><stop offset="0.310" stop-color="#000097"/><stop offset="0.345" stop-color="#000097"/><stop offset="0.362" stop-color="#000098"/><stop offset="0.397" stop-color="#000098"/><stop offset="0.414" stop-color="#000099"/><stop offset="0.466" stop-color="#000099"/><stop offset="0.483" stop-color="#00009a"/><stop offset="0.534" stop-color="#00009a"/><stop offset="0.552" stop-color="#00009b"/><stop offset="0.603" stop-color="#00009b"/><stop offset="0.621" stop-color="#00009c"/><stop offset="0.690" stop-color="#00009c"/><stop offset="0.707" stop-color="#00009d"/><stop offset="0.759" stop-color="#00009d"/><stop offset="0.776" stop-color="#00009e"/><stop offset="0.845" stop-color="#00009e"/><stop offset="0.862" stop-color="#00009f"/><stop offset="0.931" stop-color="#00009f"/><stop offset="0.948" stop-color="#0000a0"/><stop offset="1.000" stop-color="#0000a0"/></linearGradient>
<path id="p23" d="M761.4,1187.7L792.5,1178.8L823.5,1169.8L854.6,1160.8L885.7,1151.9L916.7,1142.9L947.8,1134.1L978.8,1125.3L1009.9,1116.5L1041,1107.7L1072,1099L1103.1,1090.2L1134.1,1081.5L1165.2,1072.8L1196.3,1064L1227.3,1055.3L1258.4,1046.6L1289.4,1037.9L1320.5,1029.3L1351.6,1020.6L1382.6,1011.9L1413.7,1003.3L1444.7,994.6L1475.8,986L1506.9,977.4L1537.9,968.7L1569,960.1L1600,951.5L1631.1,942.9L1662.2,934.2L1650.3,930.2L1619.2,938.8L1588.2,947.4L1557.1,956L1526,964.6L1495,973.2L1463.9,981.8L1432.9,990.4L1401.8,999L1370.7,1007.6L1339.7,1016.2L1308.6,1024.9L1277.6,1033.5L1246.5,1042.2L1215.4,1050.8L1184.4,1059.5L1153.3,1068.1L1122.3,1076.8L1091.2,1085.5L1060.1,1094.2L1029.1,1102.9L998,1111.6L967,1120.4L935.9,1129.1L904.8,1137.9L873.8,1146.8L842.7,1155.6L811.7,1164.5L780.6,1173.4L749.5,1182.3Z"/>
<linearGradient id="g23" gradientUnits="userSpaceOnUse" x1="755.5" y1="0" x2="1656.2" y2="0"><stop offset="0.000" stop-color="#00008f"/><stop offset="0.017" stop-color="#000090"/><stop offset="0.034" stop-color="#000091"/><stop offset="0.052" stop-color="#000091"/><stop offset="0.069" stop-color="#000092"/><stop offset="0.086" stop-color="#000092"/><stop offset="0.103" stop-color="#000093"/><stop offset="0.121" stop-color="#000093"/><stop offset="0.138" stop-color="#000094"/><stop offset="0.155" stop-color="#000094"/><stop offset="0.172" stop-color="#000095"/><stop offset="0.190" stop-color="#000095"/><stop offset="0.207" stop-color="#000096"/><stop offset="0.241" stop-color="#000096"/><stop offset="0.259" stop-color="#000097"/><stop offset="0.276" stop-color="#000097"/><stop offset="0.293" stop-color="#000098"/><stop offset="0.328" stop-color="#000098"/><stop offset="0.345" stop-color="#000099"/><stop offset="0.379" stop-color="#000099"/><stop offset="0.397" stop-color="#00009a"/><stop offset="0.431" stop-color="#00009a"/><stop offset="0.448" stop-color="#00009b"/><stop offset="0.483" stop-color="#00009b"/><stop offset="0.500" stop-color="#00009c"/><stop offset="0.552" stop-color="#00009c"/><stop offset="0.569" stop-color="#00009d"/><stop offset="0.603" stop-color="#00009d"/><stop offset="0.621" stop-color="#00009e"/><stop offset="0.672" stop-color="#00009e"/><stop offset="0.690" stop-color="#00009f"/><stop offset="0.741" stop-color="#00009f"/><stop offset="0.759" stop-color="#0000a0"/><stop offset="0.810" stop-color="#0000a0"/><stop offset="0.828" stop-color="#0000a1"/><stop offset="0.897" stop-color="#0000a1"/><stop offset="0.914" stop-color="#0000a2"/><stop offset="0.966" stop-color="#0000a2"/><stop offset="0.983" stop-color="#0000a3"/><stop offset="1.000" stop-color="#0000a3"/></linearGradient>
<path id="p22" d="M773.3,1193.1L804.4,1184.1L835.4,1175L866.5,1165.9L897.5,1156.9L928.6,1147.9L959.7,1139L990.7,1130.1L1021.8,1121.2L1052.8,1112.4L1083.9,1103.6L1115,1094.7L1146,1086L1177.1,1077.2L1208.1,1068.4L1239.2,1059.7L1270.3,1050.9L1301.3,1042.2L1332.4,1033.4L1363.4,1024.7L1394.5,1016L1425.6,1007.3L1456.6,998.6L1487.7,989.9L1518.7,981.3L1549.8,972.6L1580.9,963.9L1611.9,955.3L1643,946.6L1674,938L1662.2,934.2L1631.1,942.9L1600,951.5L1569,960.1L1537.9,968.7L1506.9,977.4L1475.8,986L1444.7,994.6L1413.7,1003.3L1382.6,1011.9L1351.6,1020.6L1320.5,1029.3L1289.4,1037.9L1258.4,1046.6L1227.3,1055.3L1196.3,1064L1165.2,1072.8L1134.1,1081.5L1103.1,1090.2L1072,1099L1041,1107.7L1009.9,1116.5L978.8,1125.3L947.8,1134.1L916.7,1142.9L885.7,1151.9L854.6,1160.8L823.5,1169.8L792.5,1178.8L761.4,1187.7Z"/>
<linearGradient id="g22" gradientUnits="userSpaceOnUse" x1="767.4" y1="0" x2="1668.1" y2="0"><stop offset="0.000" stop-color="#000090"/><stop offset="0.017" stop-color="#000090"/><stop offset="0.034" stop-color="#000091"/><stop offset="0.052" stop-color="#000092"/><stop offset="0.069" stop-color="#000092"/><stop offset="0.086" stop-color="#000093"/><stop offset="0.103" stop-color="#000093"/><stop offset="0.121" stop-color="#000094"/><stop offset="0.138" stop-color="#000095"/><stop offset="0.155" stop-color="#000095"/><stop offset="0.172" stop-color="#000096"/><stop offset="0.190" stop-color="#000096"/><stop offset="0.207" stop-color="#000097"/><stop offset="0.224" stop-color="#000097"/><stop offset="0.241" stop-color="#000098"/><stop offset="0.259" stop-color="#000098"/><stop offset="0.276" stop-color="#000099"/><stop offset="0.310" stop-color="#000099"/><stop offset="0.328" stop-color="#00009a"/><stop offset="0.345" stop-color="#00009a"/><stop offset="0.362" stop-color="#00009b"/><stop offset="0.397" stop-color="#00009b"/><stop offset="0.414" stop-color="#00009c"/><stop offset="0.431" stop-color="#00009c"/><stop offset="0.448" stop-color="#00009d"/><stop offset="0.483" stop-color="#00009d"/><stop offset="0.500" stop-color="#00009e"/><stop offset="0.534" stop-color="#00009e"/><stop offset="0.552" stop-color="#00009f"/><stop offset="0.586" stop-color="#00009f"/><stop offset="0.603" stop-color="#0000a0"/><stop offset="0.638" stop-color="#0000a0"/><stop offset="0.655" stop-color="#0000a1"/><stop offset="0.707" stop-color="#0000a1"/><stop offset="0.724" stop-color="#0000a2"/><stop offset="0.759" stop-color="#0000a2"/><stop offset="0.776" stop-color="#0000a3"/><stop offset="0.828" stop-color="#0000a3"/><stop offset="0.845" stop-color="#0000a4"/><stop offset="0.879" stop-color="#0000a4"/><stop offset="0.897" stop-color="#0000a5"/><stop offset="0.948" stop-color="#0000a5"/><stop offset="0.966" stop-color="#0000a6"/><stop offset="1.000" stop-color="#0000a6"/></linearGradient>
<path id="p21" d="M785.2,1198.5L816.2,1189.3L847.3,1180.1L878.4,1171L909.4,1161.8L940.5,1152.7L971.5,1143.7L1002.6,1134.7L1033.7,1125.8L1064.7,1116.9L1095.8,1108L1126.9,1099.1L1157.9,1090.2L1189,1081.4L1220,1072.5L1251.1,1063.7L1282.1,1054.9L1313.2,1046.1L1344.3,1037.3L1375.3,1028.6L1406.4,1019.8L1437.5,1011.1L1468.5,1002.3L1499.6,993.6L1530.6,984.9L1561.7,976.1L1592.8,967.4L1623.8,958.7L1654.9,950L1685.9,941.3L1674,938L1643,946.6L1611.9,955.3L1580.9,963.9L1549.8,972.6L1518.7,981.3L1487.7,989.9L1456.6,998.6L1425.6,1007.3L1394.5,1016L1363.4,1024.7L1332.4,1033.4L1301.3,1042.2L1270.3,1050.9L1239.2,1059.7L1208.1,1068.4L1177.1,1077.2L1146,1086L1115,1094.7L1083.9,1103.6L1052.8,1112.4L1021.8,1121.2L990.7,1130.1L959.7,1139L928.6,1147.9L897.5,1156.9L866.5,1165.9L835.4,1175L804.4,1184.1L773.3,1193.1Z"/>
<linearGradient id="g21" gradientUnits="userSpaceOnUse" x1="779.2" y1="0" x2="1680" y2="0"><stop offset="0.000" stop-color="#000090"/><stop offset="0.017" stop-color="#000090"/><stop offset="0.034" stop-color="#000091"/><stop offset="0.052" stop-color="#000092"/><stop offset="0.069" stop-color="#000093"/><stop offset="0.086" stop-color="#000093"/><stop offset="0.103" stop-color="#000094"/><stop offset="0.121" stop-color="#000095"/><stop offset="0.138" stop-color="#000096"/><stop offset="0.155" stop-color="#000096"/><stop offset="0.172" stop-color="#000097"/><stop offset="0.190" stop-color="#000098"/><stop offset="0.207" stop-color="#000098"/><stop offset="0.224" stop-color="#000099"/><stop offset="0.241" stop-color="#000099"/><stop offset="0.259" stop-color="#00009a"/><stop offset="0.276" stop-color="#00009a"/><stop offset="0.293" stop-color="#00009b"/><stop offset="0.310" stop-color="#00009b"/><stop offset="0.328" stop-color="#00009c"/><stop offset="0.345" stop-color="#00009c"/><stop offset="0.362" stop-color="#00009d"/><stop offset="0.379" stop-color="#00009d"/><stop offset="0.397" stop-color="#00009e"/><stop offset="0.414" stop-color="#00009e"/><stop offset="0.431" stop-color="#00009f"/><stop offset="0.466" stop-color="#00009f"/><stop offset="0.483" stop-color="#0000a0"/><stop offset="0.500" stop-color="#0000a0"/><stop offset="0.517" stop-color="#0000a1"/><stop offset="0.552" stop-color="#0000a1"/><stop offset="0.569" stop-color="#0000a2"/><stop offset="0.586" stop-color="#0000a2"/><stop offset="0.603" stop-color="#0000a3"/><stop offset="0.638" stop-color="#0000a3"/><stop offset="0.655" stop-color="#0000a4"/><stop offset="0.690" stop-color="#0000a4"/><stop offset="0.707" stop-color="#0000a5"/><stop offset="0.741" stop-color="#0000a5"/><stop offset="0.759" stop-color="#0000a6"/><stop offset="0.793" stop-color="#0000a6"/><stop offset="0.810" stop-color="#0000a7"/><stop offset="0.845" stop-color="#0000a7"/><stop offset="0.862" stop-color="#0000a8"/><stop offset="0.914" stop-color="#0000a8"/><stop offset="0.931" stop-color="#0000a9"/><stop offset="0.966" stop-color="#0000a9"/><stop offset="0.983" stop-color="#0000aa"/><stop offset="1.000" stop-color="#0000aa"/></linearGradient>
<path id="p20" d="M797.1,1203.8L828.1,1194.5L859.2,1185.2L890.3,1175.9L921.3,1166.6L952.4,1157.3L983.4,1148.2L1014.5,1139.2L1045.6,1130.1L1076.6,1121.1L1107.7,1112.2L1138.7,1103.2L1169.8,1094.3L1200.9,1085.3L1231.9,1076.4L1263,1067.5L1294,1058.6L1325.1,1049.8L1356.2,1040.9L1387.2,1032.1L1418.3,1023.3L1449.3,1014.4L1480.4,1005.6L1511.5,996.8L1542.5,988.1L1573.6,979.3L1604.6,970.5L1635.7,961.8L1666.8,953L1697.8,944.3L1685.9,941.3L1654.9,950L1623.8,958.7L1592.8,967.4L1561.7,976.1L1530.6,984.9L1499.6,993.6L1468.5,1002.3L1437.5,1011.1L1406.4,1019.8L1375.3,1028.6L1344.3,1037.3L1313.2,1046.1L1282.1,1054.9L1251.1,1063.7L1220,1072.5L1189,1081.4L1157.9,1090.2L1126.9,1099.1L1095.8,1108L1064.7,1116.9L1033.7,1125.8L1002.6,1134.7L971.5,1143.7L940.5,1152.7L909.4,1161.8L878.4,1171L847.3,1180.1L816.2,1189.3L785.2,1198.5Z"/>
<linearGradient id="g20" gradientUnits="userSpaceOnUse" x1="791.1" y1="0" x2="1691.9" y2="0"><stop offset="0.000" stop-color="#000090"/><stop offset="0.017" stop-color="#000091"/><stop offset="0.034" stop-color="#000092"/><stop offset="0.052" stop-color="#000093"/><stop offset="0.069" stop-color="#000093"/><stop offset="0.086" stop-color="#000094"/><stop offset="0.103" stop-color="#000095"/><stop offset="0.121" stop-color="#000096"/><stop offset="0.138" stop-color="#000097"/><stop offset="0.155" stop-color="#000098"/><stop offset="0.172" stop-color="#000099"/><stop offset="0.190" stop-color="#000099"/><stop offset="0.207" stop-color="#00009a"/><stop offset="0.224" stop-color="#00009b"/><stop offset="0.241" stop-color="#00009b"/><stop offset="0.259" stop-color="#00009c"/><stop offset="0.276" stop-color="#00009c"/><stop offset="0.293" stop-color="#00009d"/><stop offset="0.310" stop-color="#00009e"/><stop offset="0.328" stop-color="#00009e"/><stop offset="0.345" stop-color="#00009f"/><stop offset="0.362" stop-color="#00009f"/><stop offset="0.379" stop-color="#0000a0"/><stop offset="0.397" stop-color="#0000a0"/><stop offset="0.414" stop-color="#0000a1"/><stop offset="0.431" stop-color="#0000a1"/><stop offset="0.448" stop-color="#0000a2"/><stop offset="0.466" stop-color="#0000a2"/><stop offset="0.483" stop-color="#0000a3"/><stop offset="0.500" stop-color="#0000a3"/><stop offset="0.517" stop-color="#0000a4"/><stop offset="0.534" stop-color="#0000a4"/><stop offset="0.552" stop-color="#0000a5"/><stop offset="0.569" stop-color="#0000a5"/><stop offset="0.586" stop-color="#0000a6"/><stop offset="0.621" stop-color="#0000a6"/><stop offset="0.638" stop-color="#0000a7"/><stop offset="0.655" stop-color="#0000a7"/><stop offset="0.672" stop-color="#0000a8"/><stop offset="0.707" stop-color="#0000a8"/><stop offset="0.724" stop-color="#0000a9"/><stop offset="0.741" stop-color="#0000a9"/><stop offset="0.759" stop-color="#0000aa"/><stop offset="0.793" stop-color="#0000aa"/><stop offset="0.810" stop-color="#0000ab"/><stop offset="0.828" stop-color="#0000ab"/><stop offset="0.845" stop-color="#0000ac"/><stop offset="0.879" stop-color="#0000ac"/><stop offset="0.897" stop-color="#0000ad"/><stop offset="0.931" stop-color="#0000ad"/><stop offset="0.948" stop-color="#0000ae"/><stop offset="0.983" stop-color="#0000ae"/><stop offset="1.000" stop-color="#0000af"/></linearGradient>
<path id="p19" d="M809,1209.1L840,1199.6L871.1,1190.1L902.1,1180.7L933.2,1171.2L964.3,1161.8L995.3,1152.6L1026.4,1143.4L1057.4,1134.3L1088.5,1125.2L1119.6,1116.1L1150.6,1107L1181.7,1098L1212.7,1089L1243.8,1080L1274.9,1071L1305.9,1062L1337,1053.1L1368,1044.1L1399.1,1035.2L1430.2,1026.3L1461.2,1017.4L1492.3,1008.5L1523.3,999.7L1554.4,990.8L1585.5,982L1616.5,973.1L1647.6,964.3L1678.6,955.5L1709.7,946.7L1697.8,944.3L1666.8,953L1635.7,961.8L1604.6,970.5L1573.6,979.3L1542.5,988.1L1511.5,996.8L1480.4,1005.6L1449.3,1014.4L1418.3,1023.3L1387.2,1032.1L1356.2,1040.9L1325.1,1049.8L1294,1058.6L1263,1067.5L1231.9,1076.4L1200.9,1085.3L1169.8,1094.3L1138.7,1103.2L1107.7,1112.2L1076.6,1121.1L1045.6,1130.1L1014.5,1139.2L983.4,1148.2L952.4,1157.3L921.3,1166.6L890.3,1175.9L859.2,1185.2L828.1,1194.5L797.1,1203.8Z"/>
<linearGradient id="g19" gradientUnits="userSpaceOnUse" x1="803" y1="0" x2="1703.8" y2="0"><stop offset="0.000" stop-color="#000090"/><stop offset="0.017" stop-color="#000091"/><stop offset="0.034" stop-color="#000092"/><stop offset="0.052" stop-color="#000093"/><stop offset="0.069" stop-color="#000094"/><stop offset="0.086" stop-color="#000095"/><stop offset="0.103" stop-color="#000096"/><stop offset="0.121" stop-color="#000097"/><stop offset="0.138" stop-color="#000098"/><stop offset="0.155" stop-color="#000099"/><stop offset="0.172" stop-color="#00009a"/><stop offset="0.190" stop-color="#00009b"/><stop offset="0.207" stop-color="#00009c"/><stop offset="0.224" stop-color="#00009d"/><stop offset="0.241" stop-color="#00009d"/><stop offset="0.259" stop-color="#00009e"/><stop offset="0.276" stop-color="#00009f"/><stop offset="0.293" stop-color="#0000a0"/><stop offset="0.310" stop-color="#0000a0"/><stop offset="0.328" stop-color="#0000a1"/><stop offset="0.345" stop-color="#0000a2"/><stop offset="0.362" stop-color="#0000a2"/><stop offset="0.379" stop-color="#0000a3"/><stop offset="0.397" stop-color="#0000a3"/><stop offset="0.414" stop-color="#0000a4"/><stop offset="0.431" stop-color="#0000a5"/><stop offset="0.448" stop-color="#0000a5"/><stop offset="0.466" stop-color="#0000a6"/><stop offset="0.483" stop-color="#0000a6"/><stop offset="0.500" stop-color="#0000a7"/><stop offset="0.517" stop-color="#0000a7"/><stop offset="0.534" stop-color="#0000a8"/><stop offset="0.552" stop-color="#0000a9"/><stop offset="0.569" stop-color="#0000a9"/><stop offset="0.586" stop-color="#0000aa"/><stop offset="0.603" stop-color="#0000aa"/><stop offset="0.621" stop-color="#0000ab"/><stop offset="0.638" stop-color="#0000ab"/><stop offset="0.655" stop-color="#0000ac"/><stop offset="0.672" stop-color="#0000ac"/><stop offset="0.690" stop-color="#0000ad"/><stop offset="0.707" stop-color="#0000ad"/><stop offset="0.724" stop-color="#0000ae"/><stop offset="0.759" stop-color="#0000ae"/><stop offset="0.776" stop-color="#0000af"/><stop offset="0.793" stop-color="#0000af"/><stop offset="0.810" stop-color="#0000b0"/><stop offset="0.828" stop-color="#0000b0"/><stop offset="0.845" stop-color="#0000b1"/><stop offset="0.862" stop-color="#0000b1"/><stop offset="0.879" stop-color="#0000b2"/><stop offset="0.914" stop-color="#0000b2"/><stop offset="0.931" stop-color="#0000b3"/><stop offset="0.948" stop-color="#0000b3"/><stop offset="0.966" stop-color="#0000b4"/><stop offset="1.000" stop-color="#0000b4"/></linearGradient>
<path id="p18" d="M820.8,1214.3L851.9,1204.6L883,1195L914,1185.3L945.1,1175.7L976.1,1166.1L1007.2,1156.7L1038.3,1147.4L1069.3,1138.2L1100.4,1128.9L1131.4,1119.7L1162.5,1110.5L1193.6,1101.4L1224.6,1092.2L1255.7,1083.1L1286.7,1074L1317.8,1065L1348.9,1055.9L1379.9,1046.9L1411,1037.9L1442,1028.9L1473.1,1019.9L1504.2,1010.9L1535.2,1002L1566.3,993L1597.3,984.1L1628.4,975.2L1659.5,966.3L1690.5,957.4L1721.6,948.5L1709.7,946.7L1678.6,955.5L1647.6,964.3L1616.5,973.1L1585.5,982L1554.4,990.8L1523.3,999.7L1492.3,1008.5L1461.2,1017.4L1430.2,1026.3L1399.1,1035.2L1368,1044.1L1337,1053.1L1305.9,1062L1274.9,1071L1243.8,1080L1212.7,1089L1181.7,1098L1150.6,1107L1119.6,1116.1L1088.5,1125.2L1057.4,1134.3L1026.4,1143.4L995.3,1152.6L964.3,1161.8L933.2,1171.2L902.1,1180.7L871.1,1190.1L840,1199.6L809,1209.1Z"/>
<linearGradient id="g18" gradientUnits="userSpaceOnUse" x1="814.9" y1="0" x2="1715.6" y2="0"><stop offset="0.000" stop-color="#000091"/><stop offset="0.017" stop-color="#000092"/><stop offset="0.034" stop-color="#000093"/><stop offset="0.052" stop-color="#000094"/><stop offset="0.069" stop-color="#000096"/><stop offset="0.086" stop-color="#000097"/><stop offset="0.103" stop-color="#000098"/><stop offset="0.121" stop-color="#000099"/><stop offset="0.138" stop-color="#00009a"/><stop offset="0.155" stop-color="#00009b"/><stop offset="0.172" stop-color="#00009d"/><stop offset="0.190" stop-color="#00009d"/><stop offset="0.207" stop-color="#00009e"/><stop offset="0.224" stop-color="#00009f"/><stop offset="0.241" stop-color="#0000a0"/><stop offset="0.259" stop-color="#0000a1"/><stop offset="0.276" stop-color="#0000a2"/><stop offset="0.293" stop-color="#0000a3"/><stop offset="0.310" stop-color="#0000a3"/><stop offset="0.328" stop-color="#0000a4"/><stop offset="0.345" stop-color="#0000a5"/><stop offset="0.362" stop-color="#0000a6"/><stop offset="0.379" stop-color="#0000a6"/><stop offset="0.397" stop-color="#0000a7"/><stop offset="0.414" stop-color="#0000a8"/><stop offset="0.431" stop-color="#0000a9"/><stop offset="0.448" stop-color="#0000a9"/><stop offset="0.466" stop-color="#0000aa"/><stop offset="0.483" stop-color="#0000ab"/><stop offset="0.500" stop-color="#0000ab"/><stop offset="0.517" stop-color="#0000ac"/><stop offset="0.534" stop-color="#0000ad"/><stop offset="0.552" stop-color="#0000ad"/><stop offset="0.569" stop-color="#0000ae"/><stop offset="0.586" stop-color="#0000ae"/><stop offset="0.603" stop-color="#0000af"/><stop offset="0.621" stop-color="#0000b0"/><stop offset="0.638" stop-color="#0000b0"/><stop offset="0.655" stop-color="#0000b1"/><stop offset="0.672" stop-color="#0000b1"/><stop offset="0.690" stop-color="#0000b2"/><stop offset="0.707" stop-color="#0000b3"/><stop offset="0.724" stop-color="#0000b3"/><stop offset="0.741" stop-color="#0000b4"/><stop offset="0.759" stop-color="#0000b4"/><stop offset="0.776" stop-color="#0000b5"/><stop offset="0.793" stop-color="#0000b5"/><stop offset="0.810" stop-color="#0000b6"/><stop offset="0.828" stop-color="#0000b6"/><stop offset="0.845" stop-color="#0000b7"/><stop offset="0.862" stop-color="#0000b7"/><stop offset="0.879" stop-color="#0000b8"/><stop offset="0.897" stop-color="#0000b8"/><stop offset="0.914" stop-color="#0000b9"/><stop offset="0.931" stop-color="#0000b9"/><stop offset="0.948" stop-color="#0000ba"/><stop offset="0.966" stop-color="#0000ba"/><stop offset="0.983" stop-color="#0000bb"/><stop offset="1.000" stop-color="#0000bb"/></linearGradient>
<path id="p17" d="M832.7,1219.5L863.8,1209.6L894.8,1199.7L925.9,1189.8L957,1179.9L988,1170.2L1019.1,1160.6L1050.1,1151.1L1081.2,1141.7L1112.3,1132.3L1143.3,1123L1174.4,1113.6L1205.5,1104.3L1236.5,1095.1L1267.6,1085.8L1298.6,1076.6L1329.7,1067.4L1360.8,1058.3L1391.8,1049.1L1422.9,1040L1453.9,1030.9L1485,1021.8L1516,1012.7L1547.1,1003.6L1578.2,994.6L1609.2,985.6L1640.3,976.5L1671.4,967.5L1702.4,958.5L1733.5,949.6L1721.6,948.5L1690.5,957.4L1659.5,966.3L1628.4,975.2L1597.3,984.1L1566.3,993L1535.2,1002L1504.2,1010.9L1473.1,1019.9L1442,1028.9L1411,1037.9L1379.9,1046.9L1348.9,1055.9L1317.8,1065L1286.7,1074L1255.7,1083.1L1224.6,1092.2L1193.6,1101.4L1162.5,1110.5L1131.4,1119.7L1100.4,1128.9L1069.3,1138.2L1038.3,1147.4L1007.2,1156.7L976.1,1166.1L945.1,1175.7L914,1185.3L883,1195L851.9,1204.6L820.8,1214.3Z"/>
<linearGradient id="g17" gradientUnits="userSpaceOnUse" x1="826.8" y1="0" x2="1727.5" y2="0"><stop offset="0.000" stop-color="#000091"/><stop offset="0.017" stop-color="#000093"/><stop offset="0.034" stop-color="#000094"/><stop offset="0.052" stop-color="#000096"/><stop offset="0.069" stop-color="#000097"/><stop offset="0.086" stop-color="#000098"/><stop offset="0.103" stop-color="#00009a"/><stop offset="0.121" stop-color="#00009b"/><stop offset="0.138" stop-color="#00009d"/><stop offset="0.155" stop-color="#00009e"/><stop offset="0.172" stop-color="#00009f"/><stop offset="0.190" stop-color="#0000a0"/><stop offset="0.207" stop-color="#0000a1"/><stop offset="0.224" stop-color="#0000a2"/><stop offset="0.241" stop-color="#0000a3"/><stop offset="0.259" stop-color="#0000a4"/><stop offset="0.276" stop-color="#0000a5"/><stop offset="0.293" stop-color="#0000a6"/><stop offset="0.310" stop-color="#0000a7"/><stop offset="0.328" stop-color="#0000a8"/><stop offset="0.345" stop-color="#0000a9"/><stop offset="0.362" stop-color="#0000aa"/><stop offset="0.379" stop-color="#0000ab"/><stop offset="0.397" stop-color="#0000ac"/><stop offset="0.414" stop-color="#0000ad"/><stop offset="0.431" stop-color="#0000ad"/><stop offset="0.448" stop-color="#0000ae"/><stop offset="0.466" stop-color="#0000af"/><stop offset="0.483" stop-color="#0000b0"/><stop offset="0.500" stop-color="#0000b1"/><stop offset="0.517" stop-color="#0000b1"/><stop offset="0.534" stop-color="#0000b2"/><stop offset="0.552" stop-color="#0000b3"/><stop offset="0.569" stop-color="#0000b4"/><stop offset="0.586" stop-color="#0000b4"/><stop offset="0.603" stop-color="#0000b5"/><stop offset="0.621" stop-color="#0000b6"/><stop offset="0.638" stop-color="#0000b6"/><stop offset="0.655" stop-color="#0000b7"/><stop offset="0.672" stop-color="#0000b8"/><stop offset="0.690" stop-color="#0000b8"/><stop offset="0.707" stop-color="#0000b9"/><stop offset="0.724" stop-color="#0000ba"/><stop offset="0.741" stop-color="#0000ba"/><stop offset="0.759" stop-color="#0000bb"/><stop offset="0.776" stop-color="#0000bc"/><stop offset="0.793" stop-color="#0000bc"/><stop offset="0.810" stop-color="#0000bd"/><stop offset="0.828" stop-color="#0000be"/><stop offset="0.845" stop-color="#0000be"/><stop offset="0.862" stop-color="#0000bf"/><stop offset="0.879" stop-color="#0000bf"/><stop offset="0.897" stop-color="#0000c0"/><stop offset="0.914" stop-color="#0000c1"/><stop offset="0.931" stop-color="#0000c1"/><stop offset="0.948" stop-color="#0000c2"/><stop offset="0.966" stop-color="#0000c2"/><stop offset="0.983" stop-color="#0000c3"/><stop offset="1.000" stop-color="#0000c3"/></linearGradient>
<path id="p16" d="M844.6,1224.5L875.7,1214.4L906.7,1204.2L937.8,1194.1L968.9,1184L999.9,1173.9L1031,1164.2L1062,1154.5L1093.1,1144.9L1124.2,1135.3L1155.2,1125.8L1186.3,1116.3L1217.3,1106.8L1248.4,1097.4L1279.5,1088L1310.5,1078.7L1341.6,1069.3L1372.6,1060L1403.7,1050.7L1434.8,1041.5L1465.8,1032.2L1496.9,1023L1527.9,1013.8L1559,1004.6L1590.1,995.4L1621.1,986.3L1652.2,977.1L1683.2,968L1714.3,958.9L1745.4,949.8L1733.5,949.6L1702.4,958.5L1671.4,967.5L1640.3,976.5L1609.2,985.6L1578.2,994.6L1547.1,1003.6L1516,1012.7L1485,1021.8L1453.9,1030.9L1422.9,1040L1391.8,1049.1L1360.8,1058.3L1329.7,1067.4L1298.6,1076.6L1267.6,1085.8L1236.5,1095.1L1205.5,1104.3L1174.4,1113.6L1143.3,1123L1112.3,1132.3L1081.2,1141.7L1050.1,1151.1L1019.1,1160.6L988,1170.2L957,1179.9L925.9,1189.8L894.8,1199.7L863.8,1209.6L832.7,1219.5Z"/>
<linearGradient id="g16" gradientUnits="userSpaceOnUse" x1="838.7" y1="0" x2="1739.4" y2="0"><stop offset="0.000" stop-color="#000092"/><stop offset="0.017" stop-color="#000094"/><stop offset="0.034" stop-color="#000095"/><stop offset="0.052" stop-color="#000097"/><stop offset="0.069" stop-color="#000099"/><stop offset="0.086" stop-color="#00009a"/><stop offset="0.103" stop-color="#00009c"/><stop offset="0.121" stop-color="#00009e"/><stop offset="0.138" stop-color="#00009f"/><stop offset="0.155" stop-color="#0000a1"/><stop offset="0.172" stop-color="#0000a2"/><stop offset="0.190" stop-color="#0000a4"/><stop offset="0.207" stop-color="#0000a5"/><stop offset="0.224" stop-color="#0000a6"/><stop offset="0.241" stop-color="#0000a7"/><stop offset="0.259" stop-color="#0000a8"/><stop offset="0.276" stop-color="#0000aa"/><stop offset="0.293" stop-color="#0000ab"/><stop offset="0.310" stop-color="#0000ac"/><stop offset="0.328" stop-color="#0000ad"/><stop offset="0.345" stop-color="#0000ae"/><stop offset="0.362" stop-color="#0000af"/><stop offset="0.379" stop-color="#0000b0"/><stop offset="0.397" stop-color="#0000b1"/><stop offset="0.414" stop-color="#0000b2"/><stop offset="0.431" stop-color="#0000b3"/><stop offset="0.448" stop-color="#0000b4"/><stop offset="0.466" stop-color="#0000b5"/><stop offset="0.483" stop-color="#0000b6"/><stop offset="0.500" stop-color="#0000b7"/><stop offset="0.517" stop-color="#0000b8"/><stop offset="0.534" stop-color="#0000b9"/><stop offset="0.552" stop-color="#0000ba"/><stop offset="0.569" stop-color="#0000ba"/><stop offset="0.586" stop-color="#0000bb"/><stop offset="0.603" stop-color="#0000bc"/><stop offset="0.621" stop-color="#0000bd"/><stop offset="0.638" stop-color="#0000be"/><stop offset="0.655" stop-color="#0000bf"/><stop offset="0.672" stop-color="#0000bf"/><stop offset="0.690" stop-color="#0000c0"/><stop offset="0.707" stop-color="#0000c1"/><stop offset="0.724" stop-color="#0000c2"/><stop offset="0.741" stop-color="#0000c3"/><stop offset="0.759" stop-color="#0000c3"/><stop offset="0.776" stop-color="#0000c4"/><stop offset="0.793" stop-color="#0000c5"/><stop offset="0.810" stop-color="#0000c6"/><stop offset="0.828" stop-color="#0000c6"/><stop offset="0.845" stop-color="#0000c7"/><stop offset="0.862" stop-color="#0000c8"/><stop offset="0.879" stop-color="#0000c8"/><stop offset="0.897" stop-color="#0000c9"/><stop offset="0.914" stop-color="#0000ca"/><stop offset="0.931" stop-color="#0000cb"/><stop offset="0.948" stop-color="#0000cb"/><stop offset="0.966" stop-color="#0000cc"/><stop offset="0.983" stop-color="#0000cd"/><stop offset="1.000" stop-color="#0000cd"/></linearGradient>
<path id="p15" d="M856.5,1229.5L887.6,1219L918.6,1208.6L949.7,1198.1L980.7,1187.7L1011.8,1177.4L1042.9,1167.4L1073.9,1157.5L1105,1147.6L1136,1137.8L1167.1,1128.1L1198.2,1118.4L1229.2,1108.8L1260.3,1099.2L1291.3,1089.6L1322.4,1080L1353.5,1070.5L1384.5,1061L1415.6,1051.6L1446.6,1042.1L1477.7,1032.7L1508.8,1023.4L1539.8,1014L1570.9,1004.7L1601.9,995.3L1633,986L1664.1,976.7L1695.1,967.5L1726.2,958.2L1757.2,949L1745.4,949.8L1714.3,958.9L1683.2,968L1652.2,977.1L1621.1,986.3L1590.1,995.4L1559,1004.6L1527.9,1013.8L1496.9,1023L1465.8,1032.2L1434.8,1041.5L1403.7,1050.7L1372.6,1060L1341.6,1069.3L1310.5,1078.7L1279.5,1088L1248.4,1097.4L1217.3,1106.8L1186.3,1116.3L1155.2,1125.8L1124.2,1135.3L1093.1,1144.9L1062,1154.5L1031,1164.2L999.9,1173.9L968.9,1184L937.8,1194.1L906.7,1204.2L875.7,1214.4L844.6,1224.5Z"/>
<linearGradient id="g15" gradientUnits="userSpaceOnUse" x1="850.6" y1="0" x2="1751.3" y2="0"><stop offset="0.000" stop-color="#000093"/><stop offset="0.017" stop-color="#000095"/><stop offset="0.034" stop-color="#000097"/><stop offset="0.052" stop-color="#000099"/><stop offset="0.069" stop-color="#00009b"/><stop offset="0.086" stop-color="#00009d"/><stop offset="0.103" stop-color="#00009f"/><stop offset="0.121" stop-color="#0000a1"/><stop offset="0.138" stop-color="#0000a3"/><stop offset="0.155" stop-color="#0000a4"/><stop offset="0.172" stop-color="#0000a6"/><stop offset="0.190" stop-color="#0000a8"/><stop offset="0.207" stop-color="#0000a9"/><stop offset="0.224" stop-color="#0000ab"/><stop offset="0.241" stop-color="#0000ac"/><stop offset="0.259" stop-color="#0000ad"/><stop offset="0.276" stop-color="#0000af"/><stop offset="0.293" stop-color="#0000b0"/><stop offset="0.310" stop-color="#0000b1"/><stop offset="0.328" stop-color="#0000b3"/><stop offset="0.345" stop-color="#0000b4"/><stop offset="0.362" stop-color="#0000b5"/><stop offset="0.379" stop-color="#0000b6"/><stop offset="0.397" stop-color="#0000b8"/><stop offset="0.414" stop-color="#0000b9"/><stop offset="0.431" stop-color="#0000ba"/><stop offset="0.448" stop-color="#0000bb"/><stop offset="0.466" stop-color="#0000bc"/><stop offset="0.483" stop-color="#0000bd"/><stop offset="0.500" stop-color="#0000be"/><stop offset="0.517" stop-color="#0000bf"/><stop offset="0.534" stop-color="#0000c0"/><stop offset="0.552" stop-color="#0000c2"/><stop offset="0.569" stop-color="#0000c3"/><stop offset="0.586" stop-color="#0000c4"/><stop offset="0.603" stop-color="#0000c5"/><stop offset="0.621" stop-color="#0000c6"/><stop offset="0.638" stop-color="#0000c7"/><stop offset="0.655" stop-color="#0000c8"/><stop offset="0.672" stop-color="#0000c9"/><stop offset="0.690" stop-color="#0000c9"/><stop offset="0.707" stop-color="#0000ca"/><stop offset="0.724" stop-color="#0000cb"/><stop offset="0.741" stop-color="#0000cc"/><stop offset="0.759" stop-color="#0000cd"/><stop offset="0.776" stop-color="#0000ce"/><stop offset="0.793" stop-color="#0000cf"/><stop offset="0.810" stop-color="#0000d0"/><stop offset="0.828" stop-color="#0000d1"/><stop offset="0.845" stop-color="#0000d2"/><stop offset="0.862" stop-color="#0000d2"/><stop offset="0.879" stop-color="#0000d3"/><stop offset="0.897" stop-color="#0000d4"/><stop offset="0.914" stop-color="#0000d5"/><stop offset="0.931" stop-color="#0000d6"/><stop offset="0.948" stop-color="#0000d7"/><stop offset="0.966" stop-color="#0000d7"/><stop offset="0.983" stop-color="#0000d8"/><stop offset="1.000" stop-color="#0000d9"/></linearGradient>
<path id="p14" d="M868.4,1234.3L899.4,1223.5L930.5,1212.7L961.6,1201.9L992.6,1191.1L1023.7,1180.4L1054.7,1170.1L1085.8,1159.9L1116.9,1149.8L1147.9,1139.8L1179,1129.8L1210,1119.9L1241.1,1110L1272.2,1100.2L1303.2,1090.4L1334.3,1080.6L1365.3,1070.9L1396.4,1061.2L1427.5,1051.6L1458.5,1041.9L1489.6,1032.3L1520.6,1022.8L1551.7,1013.2L1582.8,1003.7L1613.8,994.2L1644.9,984.7L1675.9,975.2L1707,965.8L1738.1,956.4L1769.1,947L1757.2,949L1726.2,958.2L1695.1,967.5L1664.1,976.7L1633,986L1601.9,995.3L1570.9,1004.7L1539.8,1014L1508.8,1023.4L1477.7,1032.7L1446.6,1042.1L1415.6,1051.6L1384.5,1061L1353.5,1070.5L1322.4,1080L1291.3,1089.6L1260.3,1099.2L1229.2,1108.8L1198.2,1118.4L1167.1,1128.1L1136,1137.8L1105,1147.6L1073.9,1157.5L1042.9,1167.4L1011.8,1177.4L980.7,1187.7L949.7,1198.1L918.6,1208.6L887.6,1219L856.5,1229.5Z"/>
<linearGradient id="g14" gradientUnits="userSpaceOnUse" x1="862.4" y1="0" x2="1763.2" y2="0"><stop offset="0.000" stop-color="#000094"/><stop offset="0.017" stop-color="#000096"/><stop offset="0.034" stop-color="#000099"/><stop offset="0.052" stop-color="#00009b"/><stop offset="0.069" stop-color="#00009d"/><stop offset="0.086" stop-color="#0000a0"/><stop offset="0.103" stop-color="#0000a2"/><stop offset="0.121" stop-color="#0000a4"/><stop offset="0.138" stop-color="#0000a6"/><stop offset="0.155" stop-color="#0000a9"/><stop offset="0.172" stop-color="#0000ab"/><stop offset="0.190" stop-color="#0000ac"/><stop offset="0.207" stop-color="#0000ae"/><stop offset="0.224" stop-color="#0000b0"/><stop offset="0.241" stop-color="#0000b2"/><stop offset="0.259" stop-color="#0000b3"/><stop offset="0.276" stop-color="#0000b5"/><stop offset="0.293" stop-color="#0000b6"/><stop offset="0.310" stop-color="#0000b8"/><stop offset="0.328" stop-color="#0000b9"/><stop offset="0.345" stop-color="#0000bb"/><stop offset="0.362" stop-color="#0000bc"/><stop offset="0.379" stop-color="#0000be"/><stop offset="0.397" stop-color="#0000bf"/><stop offset="0.414" stop-color="#0000c1"/><stop offset="0.431" stop-color="#0000c2"/><stop offset="0.448" stop-color="#0000c3"/><stop offset="0.466" stop-color="#0000c5"/><stop offset="0.483" stop-color="#0000c6"/><stop offset="0.500" stop-color="#0000c7"/><stop offset="0.517" stop-color="#0000c9"/><stop offset="0.534" stop-color="#0000ca"/><stop offset="0.552" stop-color="#0000cb"/><stop offset="0.569" stop-color="#0000cc"/><stop offset="0.586" stop-color="#0000ce"/><stop offset="0.603" stop-color="#0000cf"/><stop offset="0.621" stop-color="#0000d0"/><stop offset="0.638" stop-color="#0000d1"/><stop offset="0.655" stop-color="#0000d2"/><stop offset="0.672" stop-color="#0000d3"/><stop offset="0.690" stop-color="#0000d5"/><stop offset="0.707" stop-color="#0000d6"/><stop offset="0.724" stop-color="#0000d7"/><stop offset="0.741" stop-color="#0000d8"/><stop offset="0.759" stop-color="#0000d9"/><stop offset="0.776" stop-color="#0000da"/><stop offset="0.793" stop-color="#0000db"/><stop offset="0.810" stop-color="#0000dc"/><stop offset="0.828" stop-color="#0000dd"/><stop offset="0.845" stop-color="#0000de"/><stop offset="0.862" stop-color="#0000df"/><stop offset="0.879" stop-color="#0000e0"/><stop offset="0.897" stop-color="#0000e1"/><stop offset="0.914" stop-color="#0000e2"/><stop offset="0.931" stop-color="#0000e3"/><stop offset="0.948" stop-color="#0000e4"/><stop offset="0.966" stop-color="#0000e5"/><stop offset="0.983" stop-color="#0000e6"/><stop offset="1.000" stop-color="#0000e7"/></linearGradient>
<path id="p13" d="M880.3,1239.1L911.3,1227.8L942.4,1216.5L973.5,1205.3L1004.5,1194.1L1035.6,1183L1066.6,1172.4L1097.7,1161.9L1128.8,1151.4L1159.8,1141.1L1190.9,1130.8L1221.9,1120.6L1253,1110.5L1284,1100.4L1315.1,1090.3L1346.2,1080.3L1377.2,1070.3L1408.3,1060.4L1439.3,1050.5L1470.4,1040.6L1501.5,1030.8L1532.5,1021L1563.6,1011.2L1594.6,1001.5L1625.7,991.8L1656.8,982.1L1687.8,972.4L1718.9,962.8L1750,953.2L1781,943.6L1769.1,947L1738.1,956.4L1707,965.8L1675.9,975.2L1644.9,984.7L1613.8,994.2L1582.8,1003.7L1551.7,1013.2L1520.6,1022.8L1489.6,1032.3L1458.5,1041.9L1427.5,1051.6L1396.4,1061.2L1365.3,1070.9L1334.3,1080.6L1303.2,1090.4L1272.2,1100.2L1241.1,1110L1210,1119.9L1179,1129.8L1147.9,1139.8L1116.9,1149.8L1085.8,1159.9L1054.7,1170.1L1023.7,1180.4L992.6,1191.1L961.6,1201.9L930.5,1212.7L899.4,1223.5L868.4,1234.3Z"/>
<linearGradient id="g13" gradientUnits="userSpaceOnUse" x1="874.3" y1="0" x2="1775.1" y2="0"><stop offset="0.000" stop-color="#000096"/><stop offset="0.017" stop-color="#000098"/><stop offset="0.034" stop-color="#00009b"/><stop offset="0.052" stop-color="#00009e"/><stop offset="0.069" stop-color="#0000a0"/><stop offset="0.086" stop-color="#0000a3"/><stop offset="0.103" stop-color="#0000a6"/><stop offset="0.121" stop-color="#0000a8"/><stop offset="0.138" stop-color="#0000ab"/><stop offset="0.155" stop-color="#0000ae"/><stop offset="0.172" stop-color="#0000b0"/><stop offset="0.190" stop-color="#0000b2"/><stop offset="0.207" stop-color="#0000b4"/><stop offset="0.224" stop-color="#0000b6"/><stop offset="0.241" stop-color="#0000b8"/><stop offset="0.259" stop-color="#0000ba"/><stop offset="0.276" stop-color="#0000bc"/><stop offset="0.293" stop-color="#0000be"/><stop offset="0.310" stop-color="#0000c0"/><stop offset="0.328" stop-color="#0000c2"/><stop offset="0.345" stop-color="#0000c3"/><stop offset="0.362" stop-color="#0000c5"/><stop offset="0.379" stop-color="#0000c7"/><stop offset="0.397" stop-color="#0000c8"/><stop offset="0.414" stop-color="#0000ca"/><stop offset="0.431" stop-color="#0000cc"/><stop offset="0.448" stop-color="#0000cd"/><stop offset="0.466" stop-color="#0000cf"/><stop offset="0.483" stop-color="#0000d0"/><stop offset="0.500" stop-color="#0000d2"/><stop offset="0.517" stop-color="#0000d3"/><stop offset="0.534" stop-color="#0000d5"/><stop offset="0.552" stop-color="#0000d6"/><stop offset="0.569" stop-color="#0000d8"/><stop offset="0.586" stop-color="#0000d9"/><stop offset="0.603" stop-color="#0000db"/><stop offset="0.621" stop-color="#0000dc"/><stop offset="0.638" stop-color="#0000de"/><stop offset="0.655" stop-color="#0000df"/><stop offset="0.672" stop-color="#0000e0"/><stop offset="0.690" stop-color="#0000e2"/><stop offset="0.707" stop-color="#0000e3"/><stop offset="0.724" stop-color="#0000e4"/><stop offset="0.741" stop-color="#0000e6"/><stop offset="0.759" stop-color="#0000e7"/><stop offset="0.776" stop-color="#0000e8"/><stop offset="0.793" stop-color="#0000e9"/><stop offset="0.810" stop-color="#0000eb"/><stop offset="0.828" stop-color="#0000ec"/><stop offset="0.845" stop-color="#0000ed"/><stop offset="0.862" stop-color="#0000ee"/><stop offset="0.879" stop-color="#0000f0"/><stop offset="0.897" stop-color="#0000f1"/><stop offset="0.914" stop-color="#0000f2"/><stop offset="0.931" stop-color="#0000f3"/><stop offset="0.948" stop-color="#0000f4"/><stop offset="0.966" stop-color="#0000f5"/><stop offset="0.983" stop-color="#0000f7"/><stop offset="1.000" stop-color="#0000f8"/></linearGradient>
<path id="p12" d="M892.2,1243.6L923.2,1231.8L954.3,1220.1L985.3,1208.3L1016.4,1196.6L1047.5,1185L1078.5,1174L1109.6,1163.1L1140.6,1152.3L1171.7,1141.6L1202.8,1131L1233.8,1120.5L1264.9,1110L1295.9,1099.5L1327,1089.2L1358.1,1078.9L1389.1,1068.6L1420.2,1058.4L1451.2,1048.2L1482.3,1038L1513.4,1027.9L1544.4,1017.9L1575.5,1007.8L1606.5,997.8L1637.6,987.8L1668.7,977.9L1699.7,968L1730.8,958.1L1761.8,948.2L1792.9,938.4L1781,943.6L1750,953.2L1718.9,962.8L1687.8,972.4L1656.8,982.1L1625.7,991.8L1594.6,1001.5L1563.6,1011.2L1532.5,1021L1501.5,1030.8L1470.4,1040.6L1439.3,1050.5L1408.3,1060.4L1377.2,1070.3L1346.2,1080.3L1315.1,1090.3L1284,1100.4L1253,1110.5L1221.9,1120.6L1190.9,1130.8L1159.8,1141.1L1128.8,1151.4L1097.7,1161.9L1066.6,1172.4L1035.6,1183L1004.5,1194.1L973.5,1205.3L942.4,1216.5L911.3,1227.8L880.3,1239.1Z"/>
<linearGradient id="g12" gradientUnits="userSpaceOnUse" x1="886.2" y1="0" x2="1787" y2="0"><stop offset="0.000" stop-color="#000097"/><stop offset="0.017" stop-color="#00009a"/><stop offset="0.034" stop-color="#00009e"/><stop offset="0.052" stop-color="#0000a1"/><stop offset="0.069" stop-color="#0000a4"/><stop offset="0.086" stop-color="#0000a7"/><stop offset="0.103" stop-color="#0000aa"/><stop offset="0.121" stop-color="#0000ad"/><stop offset="0.138" stop-color="#0000b1"/><stop offset="0.155" stop-color="#0000b4"/><stop offset="0.172" stop-color="#0000b7"/><stop offset="0.190" stop-color="#0000b9"/><stop offset="0.207" stop-color="#0000bb"/><stop offset="0.224" stop-color="#0000be"/><stop offset="0.241" stop-color="#0000c0"/><stop offset="0.259" stop-color="#0000c2"/><stop offset="0.276" stop-color="#0000c5"/><stop offset="0.293" stop-color="#0000c7"/><stop offset="0.310" stop-color="#0000c9"/><stop offset="0.328" stop-color="#0000cb"/><stop offset="0.345" stop-color="#0000cd"/><stop offset="0.362" stop-color="#0000cf"/><stop offset="0.379" stop-color="#0000d1"/><stop offset="0.397" stop-color="#0000d3"/><stop offset="0.414" stop-color="#0000d5"/><stop offset="0.431" stop-color="#0000d7"/><stop offset="0.448" stop-color="#0000d9"/><stop offset="0.466" stop-color="#0000db"/><stop offset="0.483" stop-color="#0000dd"/><stop offset="0.500" stop-color="#0000df"/><stop offset="0.517" stop-color="#0000e0"/><stop offset="0.534" stop-color="#0000e2"/><stop offset="0.552" stop-color="#0000e4"/><stop offset="0.569" stop-color="#0000e6"/><stop offset="0.586" stop-color="#0000e7"/><stop offset="0.603" stop-color="#0000e9"/><stop offset="0.621" stop-color="#0000eb"/><stop offset="0.638" stop-color="#0000ec"/><stop offset="0.655" stop-color="#0000ee"/><stop offset="0.672" stop-color="#0000f0"/><stop offset="0.690" stop-color="#0000f1"/><stop offset="0.707" stop-color="#0000f3"/><stop offset="0.724" stop-color="#0000f4"/><stop offset="0.741" stop-color="#0000f6"/><stop offset="0.759" stop-color="#0000f8"/><stop offset="0.776" stop-color="#0000f9"/><stop offset="0.793" stop-color="#0000fb"/><stop offset="0.810" stop-color="#0000fc"/><stop offset="0.828" stop-color="#0000fe"/><stop offset="0.845" stop-color="#0000ff"/><stop offset="0.862" stop-color="#0001ff"/><stop offset="0.879" stop-color="#0003ff"/><stop offset="0.897" stop-color="#0004ff"/><stop offset="0.914" stop-color="#0006ff"/><stop offset="0.931" stop-color="#0007ff"/><stop offset="0.948" stop-color="#0009ff"/><stop offset="0.966" stop-color="#000aff"/><stop offset="0.983" stop-color="#000bff"/><stop offset="1.000" stop-color="#000dff"/></linearGradient>
<path id="p11" d="M904,1248L935.1,1235.6L966.2,1223.2L997.2,1210.9L1028.3,1198.5L1059.3,1186.4L1090.4,1174.9L1121.5,1163.6L1152.5,1152.3L1183.6,1141.2L1214.6,1130.2L1245.7,1119.2L1276.8,1108.4L1307.8,1097.6L1338.9,1086.8L1369.9,1076.1L1401,1065.5L1432.1,1054.9L1463.1,1044.4L1494.2,1033.9L1525.2,1023.5L1556.3,1013.1L1587.4,1002.7L1618.4,992.4L1649.5,982.1L1680.5,971.9L1711.6,961.7L1742.7,951.5L1773.7,941.3L1804.8,931.2L1792.9,938.4L1761.8,948.2L1730.8,958.1L1699.7,968L1668.7,977.9L1637.6,987.8L1606.5,997.8L1575.5,1007.8L1544.4,1017.9L1513.4,1027.9L1482.3,1038L1451.2,1048.2L1420.2,1058.4L1389.1,1068.6L1358.1,1078.9L1327,1089.2L1295.9,1099.5L1264.9,1110L1233.8,1120.5L1202.8,1131L1171.7,1141.6L1140.6,1152.3L1109.6,1163.1L1078.5,1174L1047.5,1185L1016.4,1196.6L985.3,1208.3L954.3,1220.1L923.2,1231.8L892.2,1243.6Z"/>
<linearGradient id="g11" gradientUnits="userSpaceOnUse" x1="898.1" y1="0" x2="1798.8" y2="0"><stop offset="0.000" stop-color="#000099"/><stop offset="0.017" stop-color="#00009d"/><stop offset="0.034" stop-color="#0000a1"/><stop offset="0.052" stop-color="#0000a5"/><stop offset="0.069" stop-color="#0000a8"/><stop offset="0.086" stop-color="#0000ac"/><stop offset="0.103" stop-color="#0000b0"/><stop offset="0.121" stop-color="#0000b3"/><stop offset="0.138" stop-color="#0000b7"/><stop offset="0.155" stop-color="#0000bb"/><stop offset="0.172" stop-color="#0000be"/><stop offset="0.190" stop-color="#0000c1"/><stop offset="0.207" stop-color="#0000c4"/><stop offset="0.224" stop-color="#0000c7"/><stop offset="0.241" stop-color="#0000ca"/><stop offset="0.259" stop-color="#0000cc"/><stop offset="0.276" stop-color="#0000cf"/><stop offset="0.293" stop-color="#0000d1"/><stop offset="0.310" stop-color="#0000d4"/><stop offset="0.328" stop-color="#0000d7"/><stop offset="0.345" stop-color="#0000d9"/><stop offset="0.362" stop-color="#0000db"/><stop offset="0.379" stop-color="#0000de"/><stop offset="0.397" stop-color="#0000e0"/><stop offset="0.414" stop-color="#0000e2"/><stop offset="0.431" stop-color="#0000e5"/><stop offset="0.448" stop-color="#0000e7"/><stop offset="0.466" stop-color="#0000e9"/><stop offset="0.483" stop-color="#0000eb"/><stop offset="0.500" stop-color="#0000ee"/><stop offset="0.517" stop-color="#0000f0"/><stop offset="0.534" stop-color="#0000f2"/><stop offset="0.552" stop-color="#0000f4"/><stop offset="0.569" stop-color="#0000f6"/><stop offset="0.586" stop-color="#0000f8"/><stop offset="0.603" stop-color="#0000fa"/><stop offset="0.621" stop-color="#0000fc"/><stop offset="0.638" stop-color="#0000fe"/><stop offset="0.655" stop-color="#0001ff"/><stop offset="0.672" stop-color="#0003ff"/><stop offset="0.690" stop-color="#0005ff"/><stop offset="0.707" stop-color="#0007ff"/><stop offset="0.724" stop-color="#0009ff"/><stop offset="0.741" stop-color="#000aff"/><stop offset="0.759" stop-color="#000cff"/><stop offset="0.776" stop-color="#000eff"/><stop offset="0.793" stop-color="#0010ff"/><stop offset="0.810" stop-color="#0012ff"/><stop offset="0.828" stop-color="#0013ff"/><stop offset="0.845" stop-color="#0015ff"/><stop offset="0.862" stop-color="#0017ff"/><stop offset="0.879" stop-color="#0019ff"/><stop offset="0.897" stop-color="#001aff"/><stop offset="0.914" stop-color="#001cff"/><stop offset="0.931" stop-color="#001eff"/><stop offset="0.948" stop-color="#001fff"/><stop offset="0.966" stop-color="#0021ff"/><stop offset="0.983" stop-color="#0023ff"/><stop offset="1.000" stop-color="#0024ff"/></linearGradient>
<path id="p10" d="M915.9,1252.1L947,1239L978,1225.9L1009.1,1212.9L1040.2,1199.8L1071.2,1187L1102.3,1175L1133.3,1163.1L1164.4,1151.3L1195.5,1139.7L1226.5,1128.2L1257.6,1116.8L1288.6,1105.4L1319.7,1094.2L1350.8,1083L1381.8,1071.9L1412.9,1060.8L1443.9,1049.8L1475,1038.9L1506.1,1028L1537.1,1017.2L1568.2,1006.4L1599.2,995.7L1630.3,985L1661.4,974.3L1692.4,963.7L1723.5,953.1L1754.5,942.6L1785.6,932.1L1816.7,921.6L1804.8,931.2L1773.7,941.3L1742.7,951.5L1711.6,961.7L1680.5,971.9L1649.5,982.1L1618.4,992.4L1587.4,1002.7L1556.3,1013.1L1525.2,1023.5L1494.2,1033.9L1463.1,1044.4L1432.1,1054.9L1401,1065.5L1369.9,1076.1L1338.9,1086.8L1307.8,1097.6L1276.8,1108.4L1245.7,1119.2L1214.6,1130.2L1183.6,1141.2L1152.5,1152.3L1121.5,1163.6L1090.4,1174.9L1059.3,1186.4L1028.3,1198.5L997.2,1210.9L966.2,1223.2L935.1,1235.6L904,1248Z"/>
<linearGradient id="g10" gradientUnits="userSpaceOnUse" x1="910" y1="0" x2="1810.7" y2="0"><stop offset="0.000" stop-color="#00009c"/><stop offset="0.017" stop-color="#0000a0"/><stop offset="0.034" stop-color="#0000a5"/><stop offset="0.052" stop-color="#0000a9"/><stop offset="0.069" stop-color="#0000ad"/><stop offset="0.086" stop-color="#0000b2"/><stop offset="0.103" stop-color="#0000b6"/><stop offset="0.121" stop-color="#0000bb"/><stop offset="0.138" stop-color="#0000bf"/><stop offset="0.155" stop-color="#0000c3"/><stop offset="0.172" stop-color="#0000c7"/><stop offset="0.190" stop-color="#0000cb"/><stop offset="0.207" stop-color="#0000ce"/><stop offset="0.224" stop-color="#0000d1"/><stop offset="0.241" stop-color="#0000d5"/><stop offset="0.259" stop-color="#0000d8"/><stop offset="0.276" stop-color="#0000db"/><stop offset="0.293" stop-color="#0000de"/><stop offset="0.310" stop-color="#0000e1"/><stop offset="0.328" stop-color="#0000e4"/><stop offset="0.345" stop-color="#0000e7"/><stop offset="0.362" stop-color="#0000ea"/><stop offset="0.379" stop-color="#0000ed"/><stop offset="0.397" stop-color="#0000ef"/><stop offset="0.414" stop-color="#0000f2"/><stop offset="0.431" stop-color="#0000f5"/><stop offset="0.448" stop-color="#0000f8"/><stop offset="0.466" stop-color="#0000fa"/><stop offset="0.483" stop-color="#0000fd"/><stop offset="0.500" stop-color="#0000ff"/><stop offset="0.517" stop-color="#0003ff"/><stop offset="0.534" stop-color="#0005ff"/><stop offset="0.552" stop-color="#0008ff"/><stop offset="0.569" stop-color="#000aff"/><stop offset="0.586" stop-color="#000dff"/><stop offset="0.603" stop-color="#000fff"/><stop offset="0.621" stop-color="#0012ff"/><stop offset="0.638" stop-color="#0014ff"/><stop offset="0.655" stop-color="#0016ff"/><stop offset="0.672" stop-color="#0019ff"/><stop offset="0.690" stop-color="#001bff"/><stop offset="0.707" stop-color="#001dff"/><stop offset="0.724" stop-color="#001fff"/><stop offset="0.741" stop-color="#0022ff"/><stop offset="0.759" stop-color="#0024ff"/><stop offset="0.776" stop-color="#0026ff"/><stop offset="0.793" stop-color="#0028ff"/><stop offset="0.810" stop-color="#002aff"/><stop offset="0.828" stop-color="#002cff"/><stop offset="0.845" stop-color="#002eff"/><stop offset="0.862" stop-color="#0031ff"/><stop offset="0.879" stop-color="#0033ff"/><stop offset="0.897" stop-color="#0035ff"/><stop offset="0.914" stop-color="#0037ff"/><stop offset="0.931" stop-color="#0039ff"/><stop offset="0.948" stop-color="#003bff"/><stop offset="0.966" stop-color="#003dff"/><stop offset="0.983" stop-color="#003fff"/><stop offset="1.000" stop-color="#0041ff"/></linearGradient>
<path id="p9" d="M927.8,1256L958.9,1242.1L989.9,1228.1L1021,1214.2L1052.1,1200.4L1083.1,1186.7L1114.2,1174L1145.2,1161.5L1176.3,1149.1L1207.4,1136.9L1238.4,1124.8L1269.5,1112.8L1300.5,1100.9L1331.6,1089.2L1362.7,1077.5L1393.7,1065.8L1424.8,1054.3L1455.8,1042.8L1486.9,1031.4L1518,1020L1549,1008.7L1580.1,997.5L1611.1,986.3L1642.2,975.1L1673.2,964L1704.3,953L1735.4,942L1766.4,931L1797.5,920.1L1828.6,909.2L1816.7,921.6L1785.6,932.1L1754.5,942.6L1723.5,953.1L1692.4,963.7L1661.4,974.3L1630.3,985L1599.2,995.7L1568.2,1006.4L1537.1,1017.2L1506.1,1028L1475,1038.9L1443.9,1049.8L1412.9,1060.8L1381.8,1071.9L1350.8,1083L1319.7,1094.2L1288.6,1105.4L1257.6,1116.8L1226.5,1128.2L1195.5,1139.7L1164.4,1151.3L1133.3,1163.1L1102.3,1175L1071.2,1187L1040.2,1199.8L1009.1,1212.9L978,1225.9L947,1239L915.9,1252.1Z"/>
<linearGradient id="g9" gradientUnits="userSpaceOnUse" x1="921.9" y1="0" x2="1822.6" y2="0"><stop offset="0.000" stop-color="#00009f"/><stop offset="0.017" stop-color="#0000a4"/><stop offset="0.034" stop-color="#0000a9"/><stop offset="0.052" stop-color="#0000ae"/><stop offset="0.069" stop-color="#0000b3"/><stop offset="0.086" stop-color="#0000b9"/><stop offset="0.103" stop-color="#0000be"/><stop offset="0.121" stop-color="#0000c3"/><stop offset="0.138" stop-color="#0000c8"/><stop offset="0.155" stop-color="#0000cd"/><stop offset="0.172" stop-color="#0000d2"/><stop offset="0.190" stop-color="#0000d6"/><stop offset="0.207" stop-color="#0000da"/><stop offset="0.224" stop-color="#0000de"/><stop offset="0.241" stop-color="#0000e2"/><stop offset="0.259" stop-color="#0000e6"/><stop offset="0.276" stop-color="#0000e9"/><stop offset="0.293" stop-color="#0000ed"/><stop offset="0.310" stop-color="#0000f1"/><stop offset="0.328" stop-color="#0000f4"/><stop offset="0.345" stop-color="#0000f8"/><stop offset="0.362" stop-color="#0000fb"/><stop offset="0.379" stop-color="#0000fe"/><stop offset="0.397" stop-color="#0003ff"/><stop offset="0.414" stop-color="#0006ff"/><stop offset="0.431" stop-color="#0009ff"/><stop offset="0.448" stop-color="#000cff"/><stop offset="0.466" stop-color="#000fff"/><stop offset="0.483" stop-color="#0012ff"/><stop offset="0.500" stop-color="#0016ff"/><stop offset="0.517" stop-color="#0019ff"/><stop offset="0.534" stop-color="#001cff"/><stop offset="0.552" stop-color="#001fff"/><stop offset="0.569" stop-color="#0021ff"/><stop offset="0.586" stop-color="#0024ff"/><stop offset="0.603" stop-color="#0027ff"/><stop offset="0.621" stop-color="#002aff"/><stop offset="0.638" stop-color="#002dff"/><stop offset="0.655" stop-color="#0030ff"/><stop offset="0.672" stop-color="#0032ff"/><stop offset="0.690" stop-color="#0035ff"/><stop offset="0.707" stop-color="#0038ff"/><stop offset="0.724" stop-color="#003aff"/><stop offset="0.741" stop-color="#003dff"/><stop offset="0.759" stop-color="#0040ff"/><stop offset="0.776" stop-color="#0042ff"/><stop offset="0.793" stop-color="#0045ff"/><stop offset="0.810" stop-color="#0047ff"/><stop offset="0.828" stop-color="#004aff"/><stop offset="0.845" stop-color="#004dff"/><stop offset="0.862" stop-color="#004fff"/><stop offset="0.879" stop-color="#0051ff"/><stop offset="0.897" stop-color="#0054ff"/><stop offset="0.914" stop-color="#0056ff"/><stop offset="0.931" stop-color="#0059ff"/><stop offset="0.948" stop-color="#005bff"/><stop offset="0.966" stop-color="#005eff"/><stop offset="0.983" stop-color="#0060ff"/><stop offset="1.000" stop-color="#0062ff"/></linearGradient>
<path id="p8" d="M939.7,1259.6L970.8,1244.7L1001.8,1229.7L1032.9,1214.9L1063.9,1200L1095,1185.4L1126.1,1171.9L1157.1,1158.6L1188.2,1145.5L1219.2,1132.6L1250.3,1119.8L1281.4,1107.2L1312.4,1094.6L1343.5,1082.2L1374.5,1069.9L1405.6,1057.6L1436.7,1045.5L1467.7,1033.4L1498.8,1021.4L1529.8,1009.4L1560.9,997.6L1592,985.8L1623,974L1654.1,962.4L1685.1,950.7L1716.2,939.1L1747.3,927.6L1778.3,916.1L1809.4,904.7L1840.4,893.3L1828.6,909.2L1797.5,920.1L1766.4,931L1735.4,942L1704.3,953L1673.2,964L1642.2,975.1L1611.1,986.3L1580.1,997.5L1549,1008.7L1518,1020L1486.9,1031.4L1455.8,1042.8L1424.8,1054.3L1393.7,1065.8L1362.7,1077.5L1331.6,1089.2L1300.5,1100.9L1269.5,1112.8L1238.4,1124.8L1207.4,1136.9L1176.3,1149.1L1145.2,1161.5L1114.2,1174L1083.1,1186.7L1052.1,1200.4L1021,1214.2L989.9,1228.1L958.9,1242.1L927.8,1256Z"/>
<linearGradient id="g8" gradientUnits="userSpaceOnUse" x1="933.8" y1="0" x2="1834.5" y2="0"><stop offset="0.000" stop-color="#0000a2"/><stop offset="0.017" stop-color="#0000a8"/><stop offset="0.034" stop-color="#0000ae"/><stop offset="0.052" stop-color="#0000b5"/><stop offset="0.069" stop-color="#0000bb"/><stop offset="0.086" stop-color="#0000c1"/><stop offset="0.103" stop-color="#0000c7"/><stop offset="0.121" stop-color="#0000cd"/><stop offset="0.138" stop-color="#0000d3"/><stop offset="0.155" stop-color="#0000d9"/><stop offset="0.172" stop-color="#0000df"/><stop offset="0.190" stop-color="#0000e4"/><stop offset="0.207" stop-color="#0000e8"/><stop offset="0.224" stop-color="#0000ed"/><stop offset="0.241" stop-color="#0000f2"/><stop offset="0.259" stop-color="#0000f6"/><stop offset="0.276" stop-color="#0000fa"/><stop offset="0.293" stop-color="#0000ff"/><stop offset="0.310" stop-color="#0004ff"/><stop offset="0.328" stop-color="#0008ff"/><stop offset="0.345" stop-color="#000cff"/><stop offset="0.362" stop-color="#0010ff"/><stop offset="0.379" stop-color="#0014ff"/><stop offset="0.397" stop-color="#0018ff"/><stop offset="0.414" stop-color="#001cff"/><stop offset="0.431" stop-color="#0020ff"/><stop offset="0.448" stop-color="#0024ff"/><stop offset="0.466" stop-color="#0027ff"/><stop offset="0.483" stop-color="#002bff"/><stop offset="0.500" stop-color="#002fff"/><stop offset="0.517" stop-color="#0032ff"/><stop offset="0.534" stop-color="#0036ff"/><stop offset="0.552" stop-color="#0039ff"/><stop offset="0.569" stop-color="#003dff"/><stop offset="0.586" stop-color="#0040ff"/><stop offset="0.603" stop-color="#0044ff"/><stop offset="0.621" stop-color="#0047ff"/><stop offset="0.638" stop-color="#004aff"/><stop offset="0.655" stop-color="#004eff"/><stop offset="0.672" stop-color="#0051ff"/><stop offset="0.690" stop-color="#0054ff"/><stop offset="0.707" stop-color="#0057ff"/><stop offset="0.724" stop-color="#005bff"/><stop offset="0.741" stop-color="#005eff"/><stop offset="0.759" stop-color="#0061ff"/><stop offset="0.776" stop-color="#0064ff"/><stop offset="0.793" stop-color="#0067ff"/><stop offset="0.810" stop-color="#006aff"/><stop offset="0.828" stop-color="#006dff"/><stop offset="0.845" stop-color="#0070ff"/><stop offset="0.862" stop-color="#0073ff"/><stop offset="0.879" stop-color="#0076ff"/><stop offset="0.897" stop-color="#0079ff"/><stop offset="0.914" stop-color="#007cff"/><stop offset="0.931" stop-color="#007fff"/><stop offset="0.948" stop-color="#0082ff"/><stop offset="0.966" stop-color="#0085ff"/><stop offset="0.983" stop-color="#0087ff"/><stop offset="1.000" stop-color="#008aff"/></linearGradient>
<path id="p7" d="M951.6,1262.8L982.6,1246.7L1013.7,1230.6L1044.8,1214.6L1075.8,1198.5L1106.9,1182.8L1137.9,1168.4L1169,1154.2L1200.1,1140.2L1231.1,1126.5L1262.2,1112.9L1293.2,1099.4L1324.3,1086.1L1355.4,1072.9L1386.4,1059.8L1417.5,1046.9L1448.5,1034L1479.6,1021.2L1510.7,1008.5L1541.7,995.9L1572.8,983.4L1603.8,970.9L1634.9,958.5L1666,946.2L1697,933.9L1728.1,921.7L1759.1,909.5L1790.2,897.4L1821.3,885.4L1852.3,873.4L1840.4,893.3L1809.4,904.7L1778.3,916.1L1747.3,927.6L1716.2,939.1L1685.1,950.7L1654.1,962.4L1623,974L1592,985.8L1560.9,997.6L1529.8,1009.4L1498.8,1021.4L1467.7,1033.4L1436.7,1045.5L1405.6,1057.6L1374.5,1069.9L1343.5,1082.2L1312.4,1094.6L1281.4,1107.2L1250.3,1119.8L1219.2,1132.6L1188.2,1145.5L1157.1,1158.6L1126.1,1171.9L1095,1185.4L1063.9,1200L1032.9,1214.9L1001.8,1229.7L970.8,1244.7L939.7,1259.6Z"/>
<linearGradient id="g7" gradientUnits="userSpaceOnUse" x1="945.6" y1="0" x2="1846.4" y2="0"><stop offset="0.000" stop-color="#0000a6"/><stop offset="0.017" stop-color="#0000ae"/><stop offset="0.034" stop-color="#0000b5"/><stop offset="0.052" stop-color="#0000bc"/><stop offset="0.069" stop-color="#0000c3"/><stop offset="0.086" stop-color="#0000cb"/><stop offset="0.103" stop-color="#0000d2"/><stop offset="0.121" stop-color="#0000d9"/><stop offset="0.138" stop-color="#0000e0"/><stop offset="0.155" stop-color="#0000e7"/><stop offset="0.172" stop-color="#0000ee"/><stop offset="0.190" stop-color="#0000f4"/><stop offset="0.207" stop-color="#0000f9"/><stop offset="0.224" stop-color="#0000ff"/><stop offset="0.241" stop-color="#0005ff"/><stop offset="0.259" stop-color="#000aff"/><stop offset="0.276" stop-color="#0010ff"/><stop offset="0.293" stop-color="#0015ff"/><stop offset="0.310" stop-color="#001aff"/><stop offset="0.328" stop-color="#001fff"/><stop offset="0.345" stop-color="#0023ff"/><stop offset="0.362" stop-color="#0028ff"/><stop offset="0.379" stop-color="#002dff"/><stop offset="0.397" stop-color="#0032ff"/><stop offset="0.414" stop-color="#0036ff"/><stop offset="0.431" stop-color="#003bff"/><stop offset="0.448" stop-color="#003fff"/><stop offset="0.466" stop-color="#0044ff"/><stop offset="0.483" stop-color="#0048ff"/><stop offset="0.500" stop-color="#004cff"/><stop offset="0.517" stop-color="#0051ff"/><stop offset="0.534" stop-color="#0055ff"/><stop offset="0.552" stop-color="#0059ff"/><stop offset="0.569" stop-color="#005dff"/><stop offset="0.586" stop-color="#0061ff"/><stop offset="0.603" stop-color="#0065ff"/><stop offset="0.621" stop-color="#0069ff"/><stop offset="0.638" stop-color="#006dff"/><stop offset="0.655" stop-color="#0071ff"/><stop offset="0.672" stop-color="#0075ff"/><stop offset="0.690" stop-color="#0079ff"/><stop offset="0.707" stop-color="#007dff"/><stop offset="0.724" stop-color="#0081ff"/><stop offset="0.741" stop-color="#0085ff"/><stop offset="0.759" stop-color="#0088ff"/><stop offset="0.776" stop-color="#008cff"/><stop offset="0.793" stop-color="#0090ff"/><stop offset="0.810" stop-color="#0093ff"/><stop offset="0.828" stop-color="#0097ff"/><stop offset="0.845" stop-color="#009bff"/><stop offset="0.862" stop-color="#009eff"/><stop offset="0.879" stop-color="#00a2ff"/><stop offset="0.897" stop-color="#00a5ff"/><stop offset="0.914" stop-color="#00a9ff"/><stop offset="0.931" stop-color="#00acff"/><stop offset="0.948" stop-color="#00b0ff"/><stop offset="0.966" stop-color="#00b3ff"/><stop offset="0.983" stop-color="#00b7ff"/><stop offset="1.000" stop-color="#00baff"/></linearGradient>
<path id="p6" d="M963.5,1265.6L994.5,1248.1L1025.6,1230.7L1056.6,1213.2L1087.7,1195.8L1118.8,1178.7L1149.8,1163.2L1180.9,1148L1211.9,1133L1243,1118.2L1274.1,1103.6L1305.1,1089.3L1336.2,1075L1367.2,1060.9L1398.3,1047L1429.4,1033.1L1460.4,1019.4L1491.5,1005.8L1522.5,992.3L1553.6,978.8L1584.7,965.5L1615.7,952.2L1646.8,939L1677.8,925.9L1708.9,912.9L1740,899.9L1771,887L1802.1,874.2L1833.1,861.4L1864.2,848.7L1852.3,873.4L1821.3,885.4L1790.2,897.4L1759.1,909.5L1728.1,921.7L1697,933.9L1666,946.2L1634.9,958.5L1603.8,970.9L1572.8,983.4L1541.7,995.9L1510.7,1008.5L1479.6,1021.2L1448.5,1034L1417.5,1046.9L1386.4,1059.8L1355.4,1072.9L1324.3,1086.1L1293.2,1099.4L1262.2,1112.9L1231.1,1126.5L1200.1,1140.2L1169,1154.2L1137.9,1168.4L1106.9,1182.8L1075.8,1198.5L1044.8,1214.6L1013.7,1230.6L982.6,1246.7L951.6,1262.8Z"/>
<linearGradient id="g6" gradientUnits="userSpaceOnUse" x1="957.5" y1="0" x2="1858.3" y2="0"><stop offset="0.000" stop-color="#0000ab"/><stop offset="0.017" stop-color="#0000b4"/><stop offset="0.034" stop-color="#0000bc"/><stop offset="0.052" stop-color="#0000c5"/><stop offset="0.069" stop-color="#0000ce"/><stop offset="0.086" stop-color="#0000d6"/><stop offset="0.103" stop-color="#0000df"/><stop offset="0.121" stop-color="#0000e7"/><stop offset="0.138" stop-color="#0000ef"/><stop offset="0.155" stop-color="#0000f8"/><stop offset="0.172" stop-color="#0001ff"/><stop offset="0.190" stop-color="#0008ff"/><stop offset="0.207" stop-color="#000eff"/><stop offset="0.224" stop-color="#0015ff"/><stop offset="0.241" stop-color="#001bff"/><stop offset="0.259" stop-color="#0021ff"/><stop offset="0.276" stop-color="#0027ff"/><stop offset="0.293" stop-color="#002dff"/><stop offset="0.310" stop-color="#0033ff"/><stop offset="0.328" stop-color="#0039ff"/><stop offset="0.345" stop-color="#003fff"/><stop offset="0.362" stop-color="#0045ff"/><stop offset="0.379" stop-color="#004aff"/><stop offset="0.397" stop-color="#0050ff"/><stop offset="0.414" stop-color="#0055ff"/><stop offset="0.431" stop-color="#005bff"/><stop offset="0.448" stop-color="#0060ff"/><stop offset="0.466" stop-color="#0065ff"/><stop offset="0.483" stop-color="#006aff"/><stop offset="0.500" stop-color="#0070ff"/><stop offset="0.517" stop-color="#0075ff"/><stop offset="0.534" stop-color="#007aff"/><stop offset="0.552" stop-color="#007fff"/><stop offset="0.569" stop-color="#0084ff"/><stop offset="0.586" stop-color="#0089ff"/><stop offset="0.603" stop-color="#008dff"/><stop offset="0.621" stop-color="#0092ff"/><stop offset="0.638" stop-color="#0097ff"/><stop offset="0.655" stop-color="#009cff"/><stop offset="0.672" stop-color="#00a0ff"/><stop offset="0.690" stop-color="#00a5ff"/><stop offset="0.707" stop-color="#00aaff"/><stop offset="0.724" stop-color="#00aeff"/><stop offset="0.741" stop-color="#00b3ff"/><stop offset="0.759" stop-color="#00b7ff"/><stop offset="0.776" stop-color="#00bcff"/><stop offset="0.793" stop-color="#00c0ff"/><stop offset="0.810" stop-color="#00c4ff"/><stop offset="0.828" stop-color="#00c9ff"/><stop offset="0.845" stop-color="#00cdff"/><stop offset="0.862" stop-color="#00d1ff"/><stop offset="0.879" stop-color="#00d6ff"/><stop offset="0.897" stop-color="#00daff"/><stop offset="0.914" stop-color="#00deff"/><stop offset="0.931" stop-color="#00e2ff"/><stop offset="0.948" stop-color="#00e6ff"/><stop offset="0.966" stop-color="#00eaff"/><stop offset="0.983" stop-color="#00eeff"/><stop offset="1.000" stop-color="#00f3ff"/></linearGradient>
<path id="p5" d="M975.4,1267.9L1006.4,1248.8L1037.5,1229.7L1068.5,1210.6L1099.6,1191.5L1130.7,1172.9L1161.7,1156.1L1192.8,1139.6L1223.8,1123.4L1254.9,1107.4L1286,1091.7L1317,1076.2L1348.1,1060.9L1379.1,1045.7L1410.2,1030.7L1441.2,1015.8L1472.3,1001.1L1503.4,986.5L1534.4,972L1565.5,957.5L1596.6,943.2L1627.6,929L1658.7,914.9L1689.7,900.9L1720.8,886.9L1751.9,873.1L1782.9,859.3L1814,845.5L1845,831.9L1876.1,818.3L1864.2,848.7L1833.1,861.4L1802.1,874.2L1771,887L1740,899.9L1708.9,912.9L1677.8,925.9L1646.8,939L1615.7,952.2L1584.7,965.5L1553.6,978.8L1522.5,992.3L1491.5,1005.8L1460.4,1019.4L1429.4,1033.1L1398.3,1047L1367.2,1060.9L1336.2,1075L1305.1,1089.3L1274.1,1103.6L1243,1118.2L1211.9,1133L1180.9,1148L1149.8,1163.2L1118.8,1178.7L1087.7,1195.8L1056.6,1213.2L1025.6,1230.7L994.5,1248.1L963.5,1265.6Z"/>
<linearGradient id="g5" gradientUnits="userSpaceOnUse" x1="969.4" y1="0" x2="1870.1" y2="0"><stop offset="0.000" stop-color="#0000b1"/><stop offset="0.017" stop-color="#0000bb"/><stop offset="0.034" stop-color="#0000c5"/><stop offset="0.052" stop-color="#0000d0"/><stop offset="0.069" stop-color="#0000da"/><stop offset="0.086" stop-color="#0000e4"/><stop offset="0.103" stop-color="#0000ee"/><stop offset="0.121" stop-color="#0000f8"/><stop offset="0.138" stop-color="#0003ff"/><stop offset="0.155" stop-color="#000dff"/><stop offset="0.172" stop-color="#0016ff"/><stop offset="0.190" stop-color="#001eff"/><stop offset="0.207" stop-color="#0026ff"/><stop offset="0.224" stop-color="#002dff"/><stop offset="0.241" stop-color="#0035ff"/><stop offset="0.259" stop-color="#003cff"/><stop offset="0.276" stop-color="#0044ff"/><stop offset="0.293" stop-color="#004bff"/><stop offset="0.310" stop-color="#0052ff"/><stop offset="0.328" stop-color="#0059ff"/><stop offset="0.345" stop-color="#0060ff"/><stop offset="0.362" stop-color="#0066ff"/><stop offset="0.379" stop-color="#006dff"/><stop offset="0.397" stop-color="#0074ff"/><stop offset="0.414" stop-color="#007aff"/><stop offset="0.431" stop-color="#0080ff"/><stop offset="0.448" stop-color="#0087ff"/><stop offset="0.466" stop-color="#008dff"/><stop offset="0.483" stop-color="#0093ff"/><stop offset="0.500" stop-color="#0099ff"/><stop offset="0.517" stop-color="#009fff"/><stop offset="0.534" stop-color="#00a5ff"/><stop offset="0.552" stop-color="#00abff"/><stop offset="0.569" stop-color="#00b1ff"/><stop offset="0.586" stop-color="#00b7ff"/><stop offset="0.603" stop-color="#00bdff"/><stop offset="0.621" stop-color="#00c3ff"/><stop offset="0.638" stop-color="#00c8ff"/><stop offset="0.655" stop-color="#00ceff"/><stop offset="0.672" stop-color="#00d3ff"/><stop offset="0.690" stop-color="#00d9ff"/><stop offset="0.707" stop-color="#00deff"/><stop offset="0.724" stop-color="#00e4ff"/><stop offset="0.741" stop-color="#00e9ff"/><stop offset="0.759" stop-color="#00efff"/><stop offset="0.776" stop-color="#00f4ff"/><stop offset="0.793" stop-color="#00f9ff"/><stop offset="0.810" stop-color="#00ffff"/><stop offset="0.828" stop-color="#00fffa"/><stop offset="0.845" stop-color="#00fff5"/><stop offset="0.862" stop-color="#00ffef"/><stop offset="0.879" stop-color="#00ffe9"/><stop offset="0.897" stop-color="#00ffe3"/><stop offset="0.914" stop-color="#00ffdd"/><stop offset="0.931" stop-color="#00ffd6"/><stop offset="0.948" stop-color="#00ffcf"/><stop offset="0.966" stop-color="#00ffc8"/><stop offset="0.983" stop-color="#00ffc1"/><stop offset="1.000" stop-color="#00ffb9"/></linearGradient>
<path id="p4" d="M987.2,1269.6L1018.3,1248.6L1049.4,1227.5L1080.4,1206.5L1111.5,1185.5L1142.5,1165L1173.6,1146.7L1204.7,1128.7L1235.7,1111L1266.8,1093.7L1297.8,1076.6L1328.9,1059.8L1360,1043.1L1391,1026.7L1422.1,1010.4L1453.1,994.3L1484.2,978.4L1515.3,962.6L1546.3,946.9L1577.4,931.3L1608.4,915.8L1639.5,900.5L1670.6,885.3L1701.6,870.1L1732.7,855.1L1763.7,840.1L1794.8,825.2L1825.9,810.5L1856.9,795.7L1888,781.1L1876.1,818.3L1845,831.9L1814,845.5L1782.9,859.3L1751.9,873.1L1720.8,886.9L1689.7,900.9L1658.7,914.9L1627.6,929L1596.6,943.2L1565.5,957.5L1534.4,972L1503.4,986.5L1472.3,1001.1L1441.2,1015.8L1410.2,1030.7L1379.1,1045.7L1348.1,1060.9L1317,1076.2L1286,1091.7L1254.9,1107.4L1223.8,1123.4L1192.8,1139.6L1161.7,1156.1L1130.7,1172.9L1099.6,1191.5L1068.5,1210.6L1037.5,1229.7L1006.4,1248.8L975.4,1267.9Z"/>
<linearGradient id="g4" gradientUnits="userSpaceOnUse" x1="981.3" y1="0" x2="1882" y2="0"><stop offset="0.000" stop-color="#0000b8"/><stop offset="0.017" stop-color="#0000c4"/><stop offset="0.034" stop-color="#0000d0"/><stop offset="0.052" stop-color="#0000dc"/><stop offset="0.069" stop-color="#0000e8"/><stop offset="0.086" stop-color="#0000f4"/><stop offset="0.103" stop-color="#0001ff"/><stop offset="0.121" stop-color="#000cff"/><stop offset="0.138" stop-color="#0018ff"/><stop offset="0.155" stop-color="#0024ff"/><stop offset="0.172" stop-color="#002fff"/><stop offset="0.190" stop-color="#0038ff"/><stop offset="0.207" stop-color="#0042ff"/><stop offset="0.224" stop-color="#004bff"/><stop offset="0.241" stop-color="#0054ff"/><stop offset="0.259" stop-color="#005dff"/><stop offset="0.276" stop-color="#0065ff"/><stop offset="0.293" stop-color="#006eff"/><stop offset="0.310" stop-color="#0076ff"/><stop offset="0.328" stop-color="#007eff"/><stop offset="0.345" stop-color="#0086ff"/><stop offset="0.362" stop-color="#008eff"/><stop offset="0.379" stop-color="#0096ff"/><stop offset="0.397" stop-color="#009eff"/><stop offset="0.414" stop-color="#00a6ff"/><stop offset="0.431" stop-color="#00adff"/><stop offset="0.448" stop-color="#00b5ff"/><stop offset="0.466" stop-color="#00bcff"/><stop offset="0.483" stop-color="#00c4ff"/><stop offset="0.500" stop-color="#00cbff"/><stop offset="0.517" stop-color="#00d2ff"/><stop offset="0.534" stop-color="#00d9ff"/><stop offset="0.552" stop-color="#00e0ff"/><stop offset="0.569" stop-color="#00e7ff"/><stop offset="0.586" stop-color="#00eeff"/><stop offset="0.603" stop-color="#00f5ff"/><stop offset="0.621" stop-color="#00fcff"/><stop offset="0.638" stop-color="#00fffb"/><stop offset="0.655" stop-color="#00fff4"/><stop offset="0.672" stop-color="#00ffed"/><stop offset="0.690" stop-color="#00ffe5"/><stop offset="0.707" stop-color="#00ffdd"/><stop offset="0.724" stop-color="#00ffd4"/><stop offset="0.741" stop-color="#00ffcb"/><stop offset="0.759" stop-color="#00ffc1"/><stop offset="0.776" stop-color="#00ffb7"/><stop offset="0.793" stop-color="#00ffad"/><stop offset="0.810" stop-color="#00ffa1"/><stop offset="0.828" stop-color="#00ff95"/><stop offset="0.845" stop-color="#00ff88"/><stop offset="0.862" stop-color="#03ff7c"/><stop offset="0.879" stop-color="#0cff73"/><stop offset="0.897" stop-color="#15ff6a"/><stop offset="0.914" stop-color="#1fff61"/><stop offset="0.931" stop-color="#27ff58"/><stop offset="0.948" stop-color="#30ff4f"/><stop offset="0.966" stop-color="#39ff46"/><stop offset="0.983" stop-color="#42ff3d"/><stop offset="1.000" stop-color="#4bff35"/></linearGradient>
<path id="p3" d="M999.1,1270.7L1030.2,1247.3L1061.2,1224L1092.3,1200.7L1123.4,1177.4L1154.4,1154.8L1185.5,1134.5L1216.5,1114.8L1247.6,1095.4L1278.7,1076.5L1309.7,1057.8L1340.8,1039.3L1371.8,1021.2L1402.9,1003.2L1434,985.4L1465,967.9L1496.1,950.5L1527.1,933.2L1558.2,916.1L1589.3,899.2L1620.3,882.3L1651.4,865.7L1682.4,849.1L1713.5,832.6L1744.6,816.2L1775.6,800L1806.7,783.8L1837.7,767.7L1868.8,751.8L1899.9,735.9L1888,781.1L1856.9,795.7L1825.9,810.5L1794.8,825.2L1763.7,840.1L1732.7,855.1L1701.6,870.1L1670.6,885.3L1639.5,900.5L1608.4,915.8L1577.4,931.3L1546.3,946.9L1515.3,962.6L1484.2,978.4L1453.1,994.3L1422.1,1010.4L1391,1026.7L1360,1043.1L1328.9,1059.8L1297.8,1076.6L1266.8,1093.7L1235.7,1111L1204.7,1128.7L1173.6,1146.7L1142.5,1165L1111.5,1185.5L1080.4,1206.5L1049.4,1227.5L1018.3,1248.6L987.2,1269.6Z"/>
<linearGradient id="g3" gradientUnits="userSpaceOnUse" x1="993.2" y1="0" x2="1893.9" y2="0"><stop offset="0.000" stop-color="#0000c1"/><stop offset="0.017" stop-color="#0000cf"/><stop offset="0.034" stop-color="#0000dd"/><stop offset="0.052" stop-color="#0000eb"/><stop offset="0.069" stop-color="#0000f9"/><stop offset="0.086" stop-color="#0008ff"/><stop offset="0.103" stop-color="#0016ff"/><stop offset="0.121" stop-color="#0024ff"/><stop offset="0.138" stop-color="#0032ff"/><stop offset="0.155" stop-color="#0040ff"/><stop offset="0.172" stop-color="#004dff"/><stop offset="0.190" stop-color="#0058ff"/><stop offset="0.207" stop-color="#0063ff"/><stop offset="0.224" stop-color="#006eff"/><stop offset="0.241" stop-color="#0078ff"/><stop offset="0.259" stop-color="#0082ff"/><stop offset="0.276" stop-color="#008dff"/><stop offset="0.293" stop-color="#0097ff"/><stop offset="0.310" stop-color="#00a1ff"/><stop offset="0.328" stop-color="#00aaff"/><stop offset="0.345" stop-color="#00b4ff"/><stop offset="0.362" stop-color="#00bdff"/><stop offset="0.379" stop-color="#00c7ff"/><stop offset="0.397" stop-color="#00d0ff"/><stop offset="0.414" stop-color="#00d9ff"/><stop offset="0.431" stop-color="#00e2ff"/><stop offset="0.448" stop-color="#00ebff"/><stop offset="0.466" stop-color="#00f4ff"/><stop offset="0.483" stop-color="#00fdff"/><stop offset="0.500" stop-color="#00fff8"/><stop offset="0.517" stop-color="#00ffef"/><stop offset="0.534" stop-color="#00ffe5"/><stop offset="0.552" stop-color="#00ffdb"/><stop offset="0.569" stop-color="#00ffcf"/><stop offset="0.586" stop-color="#00ffc3"/><stop offset="0.603" stop-color="#00ffb6"/><stop offset="0.621" stop-color="#00ffa8"/><stop offset="0.638" stop-color="#00ff99"/><stop offset="0.655" stop-color="#00ff88"/><stop offset="0.672" stop-color="#06ff7a"/><stop offset="0.690" stop-color="#12ff6e"/><stop offset="0.707" stop-color="#1dff62"/><stop offset="0.724" stop-color="#29ff56"/><stop offset="0.741" stop-color="#35ff4b"/><stop offset="0.759" stop-color="#40ff3f"/><stop offset="0.776" stop-color="#4cff34"/><stop offset="0.793" stop-color="#57ff29"/><stop offset="0.810" stop-color="#62ff1d"/><stop offset="0.828" stop-color="#6dff12"/><stop offset="0.845" stop-color="#79ff07"/><stop offset="0.862" stop-color="#86ff00"/><stop offset="0.879" stop-color="#95ff00"/><stop offset="0.897" stop-color="#a3ff00"/><stop offset="0.914" stop-color="#b0ff00"/><stop offset="0.931" stop-color="#bcff00"/><stop offset="0.948" stop-color="#c7ff00"/><stop offset="0.966" stop-color="#d1ff00"/><stop offset="0.983" stop-color="#dbff00"/><stop offset="1.000" stop-color="#e3ff00"/></linearGradient>
<path id="p2" d="M1011,1270.8L1042.1,1244.8L1073.1,1218.8L1104.2,1192.8L1135.2,1166.9L1166.3,1141.6L1197.4,1119.2L1228.4,1097.4L1259.5,1076L1290.5,1055.1L1321.6,1034.4L1352.7,1014.1L1383.7,994.1L1414.8,974.4L1445.8,954.8L1476.9,935.5L1508,916.4L1539,897.4L1570.1,878.7L1601.1,860.1L1632.2,841.6L1663.3,823.3L1694.3,805.1L1725.4,787.1L1756.4,769.1L1787.5,751.3L1818.6,733.6L1849.6,716L1880.7,698.5L1911.7,681.1L1899.9,735.9L1868.8,751.8L1837.7,767.7L1806.7,783.8L1775.6,800L1744.6,816.2L1713.5,832.6L1682.4,849.1L1651.4,865.7L1620.3,882.3L1589.3,899.2L1558.2,916.1L1527.1,933.2L1496.1,950.5L1465,967.9L1434,985.4L1402.9,1003.2L1371.8,1021.2L1340.8,1039.3L1309.7,1057.8L1278.7,1076.5L1247.6,1095.4L1216.5,1114.8L1185.5,1134.5L1154.4,1154.8L1123.4,1177.4L1092.3,1200.7L1061.2,1224L1030.2,1247.3L999.1,1270.7Z"/>
<linearGradient id="g2" gradientUnits="userSpaceOnUse" x1="1005.1" y1="0" x2="1905.8" y2="0"><stop offset="0.000" stop-color="#0000cb"/><stop offset="0.017" stop-color="#0000db"/><stop offset="0.034" stop-color="#0000ec"/><stop offset="0.052" stop-color="#0000fc"/><stop offset="0.069" stop-color="#000eff"/><stop offset="0.086" stop-color="#001eff"/><stop offset="0.103" stop-color="#002fff"/><stop offset="0.121" stop-color="#003fff"/><stop offset="0.138" stop-color="#0050ff"/><stop offset="0.155" stop-color="#0060ff"/><stop offset="0.172" stop-color="#006fff"/><stop offset="0.190" stop-color="#007dff"/><stop offset="0.207" stop-color="#008aff"/><stop offset="0.224" stop-color="#0096ff"/><stop offset="0.241" stop-color="#00a3ff"/><stop offset="0.259" stop-color="#00afff"/><stop offset="0.276" stop-color="#00bbff"/><stop offset="0.293" stop-color="#00c7ff"/><stop offset="0.310" stop-color="#00d3ff"/><stop offset="0.328" stop-color="#00dfff"/><stop offset="0.345" stop-color="#00eaff"/><stop offset="0.362" stop-color="#00f5ff"/><stop offset="0.379" stop-color="#00fffe"/><stop offset="0.397" stop-color="#00fff2"/><stop offset="0.414" stop-color="#00ffe6"/><stop offset="0.431" stop-color="#00ffd8"/><stop offset="0.448" stop-color="#00ffc9"/><stop offset="0.466" stop-color="#00ffb9"/><stop offset="0.483" stop-color="#00ffa7"/><stop offset="0.500" stop-color="#00ff93"/><stop offset="0.517" stop-color="#01ff7e"/><stop offset="0.534" stop-color="#11ff6f"/><stop offset="0.552" stop-color="#20ff60"/><stop offset="0.569" stop-color="#2fff51"/><stop offset="0.586" stop-color="#3dff42"/><stop offset="0.603" stop-color="#4cff33"/><stop offset="0.621" stop-color="#5bff25"/><stop offset="0.638" stop-color="#69ff16"/><stop offset="0.655" stop-color="#77ff08"/><stop offset="0.672" stop-color="#89ff00"/><stop offset="0.690" stop-color="#9cff00"/><stop offset="0.707" stop-color="#adff00"/><stop offset="0.724" stop-color="#bcff00"/><stop offset="0.741" stop-color="#caff00"/><stop offset="0.759" stop-color="#d7ff00"/><stop offset="0.776" stop-color="#e3ff00"/><stop offset="0.793" stop-color="#eeff00"/><stop offset="0.810" stop-color="#f8ff00"/><stop offset="0.828" stop-color="#fffd00"/><stop offset="0.845" stop-color="#fff400"/><stop offset="0.862" stop-color="#ffec00"/><stop offset="0.879" stop-color="#ffe300"/><stop offset="0.897" stop-color="#ffda00"/><stop offset="0.914" stop-color="#ffd100"/><stop offset="0.931" stop-color="#ffc900"/><stop offset="0.948" stop-color="#ffc000"/><stop offset="0.966" stop-color="#ffb800"/><stop offset="0.983" stop-color="#ffaf00"/><stop offset="1.000" stop-color="#ffa700"/></linearGradient>
<path id="p1" d="M1022.9,1270.1L1054,1240.9L1085,1211.7L1116.1,1182.6L1147.1,1153.4L1178.2,1125L1209.2,1100.1L1240.3,1075.8L1271.4,1052L1302.4,1028.8L1333.5,1005.9L1364.6,983.3L1395.6,961.1L1426.7,939.2L1457.7,917.6L1488.8,896.2L1519.8,875L1550.9,854.1L1582,833.3L1613,812.7L1644.1,792.3L1675.2,772L1706.2,751.9L1737.3,732L1768.3,712.2L1799.4,692.5L1830.5,672.9L1861.5,653.5L1892.6,634.2L1923.6,614.9L1911.7,681.1L1880.7,698.5L1849.6,716L1818.6,733.6L1787.5,751.3L1756.4,769.1L1725.4,787.1L1694.3,805.1L1663.3,823.3L1632.2,841.6L1601.1,860.1L1570.1,878.7L1539,897.4L1508,916.4L1476.9,935.5L1445.8,954.8L1414.8,974.4L1383.7,994.1L1352.7,1014.1L1321.6,1034.4L1290.5,1055.1L1259.5,1076L1228.4,1097.4L1197.4,1119.2L1166.3,1141.6L1135.2,1166.9L1104.2,1192.8L1073.1,1218.8L1042.1,1244.8L1011,1270.8Z"/>
<linearGradient id="g1" gradientUnits="userSpaceOnUse" x1="1016.9" y1="0" x2="1917.7" y2="0"><stop offset="0.000" stop-color="#0000d6"/><stop offset="0.017" stop-color="#0000ea"/><stop offset="0.034" stop-color="#0000fd"/><stop offset="0.052" stop-color="#0012ff"/><stop offset="0.069" stop-color="#0025ff"/><stop offset="0.086" stop-color="#0039ff"/><stop offset="0.103" stop-color="#004cff"/><stop offset="0.121" stop-color="#0060ff"/><stop offset="0.138" stop-color="#0073ff"/><stop offset="0.155" stop-color="#0087ff"/><stop offset="0.172" stop-color="#0099ff"/><stop offset="0.190" stop-color="#00a8ff"/><stop offset="0.207" stop-color="#00b8ff"/><stop offset="0.224" stop-color="#00c7ff"/><stop offset="0.241" stop-color="#00d6ff"/><stop offset="0.259" stop-color="#00e4ff"/><stop offset="0.276" stop-color="#00f3ff"/><stop offset="0.293" stop-color="#00fffd"/><stop offset="0.310" stop-color="#00ffee"/><stop offset="0.328" stop-color="#00ffde"/><stop offset="0.345" stop-color="#00ffcb"/><stop offset="0.362" stop-color="#00ffb7"/><stop offset="0.379" stop-color="#00ffa0"/><stop offset="0.397" stop-color="#00ff85"/><stop offset="0.414" stop-color="#10ff70"/><stop offset="0.431" stop-color="#23ff5d"/><stop offset="0.448" stop-color="#36ff4a"/><stop offset="0.466" stop-color="#48ff37"/><stop offset="0.483" stop-color="#5bff25"/><stop offset="0.500" stop-color="#6dff12"/><stop offset="0.517" stop-color="#80ff00"/><stop offset="0.534" stop-color="#99ff00"/><stop offset="0.552" stop-color="#afff00"/><stop offset="0.569" stop-color="#c2ff00"/><stop offset="0.586" stop-color="#d3ff00"/><stop offset="0.603" stop-color="#e2ff00"/><stop offset="0.621" stop-color="#f0ff00"/><stop offset="0.638" stop-color="#fcff00"/><stop offset="0.655" stop-color="#fff600"/><stop offset="0.672" stop-color="#ffeb00"/><stop offset="0.690" stop-color="#ffe000"/><stop offset="0.707" stop-color="#ffd400"/><stop offset="0.724" stop-color="#ffc900"/><stop offset="0.741" stop-color="#ffbe00"/><stop offset="0.759" stop-color="#ffb300"/><stop offset="0.776" stop-color="#ffa800"/><stop offset="0.793" stop-color="#ff9e00"/><stop offset="0.810" stop-color="#ff9300"/><stop offset="0.828" stop-color="#ff8800"/><stop offset="0.845" stop-color="#ff7e00"/><stop offset="0.862" stop-color="#ff7300"/><stop offset="0.879" stop-color="#ff6800"/><stop offset="0.897" stop-color="#ff5e00"/><stop offset="0.914" stop-color="#ff5400"/><stop offset="0.931" stop-color="#ff4900"/><stop offset="0.948" stop-color="#ff3f00"/><stop offset="0.966" stop-color="#ff3500"/><stop offset="0.983" stop-color="#ff2a00"/><stop offset="1.000" stop-color="#ff2000"/></linearGradient>
<path id="p0" d="M1034.8,1268.2L1065.8,1235.3L1096.9,1202.3L1128,1169.4L1159,1136.5L1190.1,1104.5L1221.1,1076.5L1252.2,1049.3L1283.3,1022.7L1314.3,996.7L1345.4,971.1L1376.4,945.9L1407.5,921.1L1438.6,896.6L1469.6,872.5L1500.7,848.6L1531.7,825L1562.8,801.6L1593.9,778.5L1624.9,755.6L1656,732.8L1687,710.3L1718.1,687.9L1749.2,665.6L1780.2,643.6L1811.3,621.6L1842.3,599.9L1873.4,578.2L1904.5,556.7L1935.5,535.3L1923.6,614.9L1892.6,634.2L1861.5,653.5L1830.5,672.9L1799.4,692.5L1768.3,712.2L1737.3,732L1706.2,751.9L1675.2,772L1644.1,792.3L1613,812.7L1582,833.3L1550.9,854.1L1519.8,875L1488.8,896.2L1457.7,917.6L1426.7,939.2L1395.6,961.1L1364.6,983.3L1333.5,1005.9L1302.4,1028.8L1271.4,1052L1240.3,1075.8L1209.2,1100.1L1178.2,1125L1147.1,1153.4L1116.1,1182.6L1085,1211.7L1054,1240.9L1022.9,1270.1Z"/>
<linearGradient id="g0" gradientUnits="userSpaceOnUse" x1="1028.8" y1="0" x2="1929.6" y2="0"><stop offset="0.000" stop-color="#0000e4"/><stop offset="0.017" stop-color="#0000fb"/><stop offset="0.034" stop-color="#0013ff"/><stop offset="0.052" stop-color="#002aff"/><stop offset="0.069" stop-color="#0041ff"/><stop offset="0.086" stop-color="#0058ff"/><stop offset="0.103" stop-color="#006fff"/><stop offset="0.121" stop-color="#0086ff"/><stop offset="0.138" stop-color="#009dff"/><stop offset="0.155" stop-color="#00b4ff"/><stop offset="0.172" stop-color="#00caff"/><stop offset="0.190" stop-color="#00dcff"/><stop offset="0.207" stop-color="#00eeff"/><stop offset="0.224" stop-color="#00fffe"/><stop offset="0.241" stop-color="#00ffeb"/><stop offset="0.259" stop-color="#00ffd5"/><stop offset="0.276" stop-color="#00ffbc"/><stop offset="0.293" stop-color="#00ff9f"/><stop offset="0.310" stop-color="#02ff7e"/><stop offset="0.328" stop-color="#1aff65"/><stop offset="0.345" stop-color="#32ff4d"/><stop offset="0.362" stop-color="#4aff36"/><stop offset="0.379" stop-color="#61ff1e"/><stop offset="0.397" stop-color="#79ff07"/><stop offset="0.414" stop-color="#96ff00"/><stop offset="0.431" stop-color="#b2ff00"/><stop offset="0.448" stop-color="#caff00"/><stop offset="0.466" stop-color="#deff00"/><stop offset="0.483" stop-color="#f0ff00"/><stop offset="0.500" stop-color="#ffff00"/><stop offset="0.517" stop-color="#fff000"/><stop offset="0.534" stop-color="#ffe200"/><stop offset="0.552" stop-color="#ffd400"/><stop offset="0.569" stop-color="#ffc600"/><stop offset="0.586" stop-color="#ffb800"/><stop offset="0.603" stop-color="#ffaa00"/><stop offset="0.621" stop-color="#ff9c00"/><stop offset="0.638" stop-color="#ff8e00"/><stop offset="0.655" stop-color="#ff8100"/><stop offset="0.672" stop-color="#ff7300"/><stop offset="0.690" stop-color="#ff6600"/><stop offset="0.707" stop-color="#ff5800"/><stop offset="0.724" stop-color="#ff4b00"/><stop offset="0.741" stop-color="#ff3e00"/><stop offset="0.759" stop-color="#ff3100"/><stop offset="0.776" stop-color="#ff2400"/><stop offset="0.793" stop-color="#ff1700"/><stop offset="0.810" stop-color="#ff0a00"/><stop offset="0.828" stop-color="#ff0000"/><stop offset="0.879" stop-color="#ff0000"/><stop offset="0.897" stop-color="#f60000"/><stop offset="0.914" stop-color="#e70000"/><stop offset="0.931" stop-color="#d70000"/><stop offset="0.948" stop-color="#c80000"/><stop offset="0.966" stop-color="#b90000"/><stop offset="0.983" stop-color="#aa0000"/><stop offset="1.000" stop-color="#9c0000"/></linearGradient>
<pattern id="tb" width="97" height="83" patternUnits="userSpaceOnUse"><g fill="#fff"><rect x="23.1" y="45.2" width="4.1" height="2.8" fill-opacity="0.07"/><rect x="60.7" y="5.4" width="3.0" height="2.8" fill-opacity="0.08"/><rect x="25.2" y="19.4" width="6.0" height="2.8" fill-opacity="0.07"/><rect x="81.1" y="39.5" width="4.9" height="2.8" fill-opacity="0.05"/><rect x="61.6" y="72.0" width="4.6" height="2.8" fill-opacity="0.08"/><rect x="65.1" y="5.3" width="5.3" height="2.8" fill-opacity="0.07"/><rect x="29.2" y="2.6" width="5.6" height="2.8" fill-opacity="0.07"/><rect x="69.7" y="72.9" width="5.1" height="2.8" fill-opacity="0.09"/><rect x="38.3" y="66.5" width="4.3" height="2.8" fill-opacity="0.09"/><rect x="85.3" y="8.1" width="3.4" height="2.8" fill-opacity="0.05"/><rect x="93.7" y="36.2" width="4.9" height="2.8" fill-opacity="0.06"/><rect x="49.2" y="32.0" width="4.1" height="2.8" fill-opacity="0.07"/><rect x="56.7" y="75.0" width="5.0" height="2.8" fill-opacity="0.09"/><rect x="83.1" y="82.3" width="5.0" height="2.8" fill-opacity="0.05"/><rect x="83.5" y="80.1" width="5.7" height="2.8" fill-opacity="0.07"/><rect x="69.2" y="17.5" width="5.5" height="2.8" fill-opacity="0.07"/><rect x="27.6" y="5.3" width="5.6" height="2.8" fill-opacity="0.09"/><rect x="8.6" y="66.4" width="4.2" height="2.8" fill-opacity="0.05"/><rect x="28.5" y="63.8" width="5.6" height="2.8" fill-opacity="0.05"/><rect x="59.6" y="3.7" width="5.2" height="2.8" fill-opacity="0.06"/><rect x="85.4" y="81.4" width="4.5" height="2.8" fill-opacity="0.09"/><rect x="30.0" y="6.4" width="4.8" height="2.8" fill-opacity="0.05"/><rect x="19.1" y="33.9" width="4.8" height="2.8" fill-opacity="0.05"/><rect x="4.1" y="72.0" width="3.9" height="2.8" fill-opacity="0.09"/><rect x="87.0" y="31.4" width="4.4" height="2.8" fill-opacity="0.07"/><rect x="62.5" y="49.4" width="4.7" height="2.8" fill-opacity="0.07"/><rect x="91.2" y="42.1" width="4.3" height="2.8" fill-opacity="0.08"/><rect x="23.1" y="25.0" width="5.9" height="2.8" fill-opacity="0.07"/><rect x="53.2" y="1.0" width="4.2" height="2.8" fill-opacity="0.07"/><rect x="1.9" y="51.1" width="4.9" height="2.8" fill-opacity="0.05"/><rect x="60.9" y="38.7" width="5.0" height="2.8" fill-opacity="0.06"/><rect x="68.6" y="61.3" width="3.1" height="2.8" fill-opacity="0.05"/><rect x="65.6" y="80.0" width="3.8" height="2.8" fill-opacity="0.07"/><rect x="57.5" y="26.6" width="4.1" height="2.8" fill-opacity="0.06"/><rect x="35.8" y="49.4" width="3.9" height="2.8" fill-opacity="0.06"/><rect x="74.9" y="2.2" width="4.7" height="2.8" fill-opacity="0.08"/><rect x="30.1" y="18.5" width="5.4" height="2.8" fill-opacity="0.06"/><rect x="18.2" y="36.1" width="5.1" height="2.8" fill-opacity="0.05"/><rect x="31.2" y="27.7" width="5.5" height="2.8" fill-opacity="0.06"/><rect x="83.0" y="14.1" width="4.0" height="2.8" fill-opacity="0.07"/><rect x="85.8" y="37.4" width="3.7" height="2.8" fill-opacity="0.05"/><rect x="51.4" y="15.8" width="5.4" height="2.8" fill-opacity="0.08"/><rect x="17.8" y="23.1" width="5.4" height="2.8" fill-opacity="0.07"/><rect x="78.2" y="28.7" width="3.4" height="2.8" fill-opacity="0.06"/><rect x="77.0" y="22.5" width="4.0" height="2.8" fill-opacity="0.06"/><rect x="40.7" y="34.0" width="5.8" height="2.8" fill-opacity="0.05"/><rect x="0.5" y="78.3" width="5.6" height="2.8" fill-opacity="0.09"/><rect x="42.1" y="78.9" width="5.8" height="2.8" fill-opacity="0.05"/><rect x="72.3" y="69.4" width="5.0" height="2.8" fill-opacity="0.07"/><rect x="28.0" y="28.3" width="3.7" height="2.8" fill-opacity="0.05"/><rect x="57.1" y="23.8" width="5.4" height="2.8" fill-opacity="0.05"/><rect x="87.7" y="57.6" width="5.8" height="2.8" fill-opacity="0.09"/><rect x="87.3" y="47.9" width="3.0" height="2.8" fill-opacity="0.08"/><rect x="16.7" y="24.9" width="5.0" height="2.8" fill-opacity="0.07"/><rect x="40.1" y="77.9" width="4.8" height="2.8" fill-opacity="0.06"/><rect x="24.5" y="71.5" width="4.4" height="2.8" fill-opacity="0.08"/><rect x="34.1" y="16.4" width="4.6" height="2.8" fill-opacity="0.08"/><rect x="16.6" y="65.7" width="5.8" height="2.8" fill-opacity="0.08"/><rect x="79.9" y="0.6" width="4.9" height="2.8" fill-opacity="0.08"/><rect x="4.8" y="22.5" width="3.8" height="2.8" fill-opacity="0.07"/><rect x="41.0" y="39.3" width="5.3" height="2.8" fill-opacity="0.05"/><rect x="5.3" y="10.5" width="3.4" height="2.8" fill-opacity="0.05"/><rect x="94.5" y="70.9" width="3.3" height="2.8" fill-opacity="0.07"/><rect x="30.6" y="26.1" width="4.1" height="2.8" fill-opacity="0.07"/><rect x="56.9" y="29.9" width="3.6" height="2.8" fill-opacity="0.06"/><rect x="12.0" y="46.1" width="5.1" height="2.8" fill-opacity="0.06"/><rect x="7.8" y="14.8" width="4.1" height="2.8" fill-opacity="0.07"/><rect x="75.9" y="31.6" width="5.4" height="2.8" fill-opacity="0.07"/><rect x="41.9" y="30.9" width="4.5" height="2.8" fill-opacity="0.08"/><rect x="40.8" y="57.6" width="4.4" height="2.8" fill-opacity="0.06"/><rect x="52.0" y="57.7" width="3.2" height="2.8" fill-opacity="0.06"/><rect x="41.3" y="73.0" width="5.8" height="2.8" fill-opacity="0.06"/><rect x="87.1" y="65.6" width="3.8" height="2.8" fill-opacity="0.07"/><rect x="11.9" y="67.5" width="5.0" height="2.8" fill-opacity="0.08"/><rect x="76.9" y="55.4" width="5.2" height="2.8" fill-opacity="0.07"/><rect x="10.0" y="48.8" width="3.0" height="2.8" fill-opacity="0.05"/><rect x="75.1" y="3.7" width="3.3" height="2.8" fill-opacity="0.05"/><rect x="85.4" y="14.9" width="3.1" height="2.8" fill-opacity="0.08"/><rect x="11.8" y="70.0" width="5.0" height="2.8" fill-opacity="0.08"/><rect x="92.4" y="48.1" width="5.4" height="2.8" fill-opacity="0.05"/><rect x="74.4" y="42.4" width="5.1" height="2.8" fill-opacity="0.05"/><rect x="72.6" y="77.6" width="3.2" height="2.8" fill-opacity="0.06"/><rect x="54.7" y="68.7" width="3.7" height="2.8" fill-opacity="0.05"/><rect x="24.2" y="51.1" width="5.3" height="2.8" fill-opacity="0.06"/><rect x="35.6" y="32.9" width="4.1" height="2.8" fill-opacity="0.06"/><rect x="8.1" y="41.5" width="5.9" height="2.8" fill-opacity="0.06"/><rect x="72.5" y="13.3" width="5.1" height="2.8" fill-opacity="0.08"/><rect x="65.4" y="42.9" width="4.5" height="2.8" fill-opacity="0.07"/><rect x="87.0" y="12.4" width="3.3" height="2.8" fill-opacity="0.08"/><rect x="88.9" y="42.9" width="4.3" height="2.8" fill-opacity="0.08"/><rect x="18.1" y="22.2" width="3.6" height="2.8" fill-opacity="0.07"/><rect x="30.5" y="19.3" width="5.1" height="2.8" fill-opacity="0.09"/><rect x="28.7" y="58.5" width="4.2" height="2.8" fill-opacity="0.08"/><rect x="56.7" y="22.2" width="3.7" height="2.8" fill-opacity="0.05"/><rect x="46.5" y="31.8" width="3.5" height="2.8" fill-opacity="0.06"/><rect x="31.2" y="64.3" width="3.4" height="2.8" fill-opacity="0.09"/><rect x="46.5" y="49.7" width="4.4" height="2.8" fill-opacity="0.08"/><rect x="79.7" y="46.2" width="4.4" height="2.8" fill-opacity="0.08"/><rect x="83.1" y="33.2" width="5.2" height="2.8" fill-opacity="0.09"/><rect x="45.3" y="19.1" width="3.7" height="2.8" fill-opacity="0.08"/><rect x="65.5" y="79.6" width="5.6" height="2.8" fill-opacity="0.06"/><rect x="18.4" y="21.5" width="3.6" height="2.8" fill-opacity="0.08"/><rect x="83.3" y="74.7" width="3.8" height="2.8" fill-opacity="0.08"/><rect x="30.4" y="35.1" width="5.2" height="2.8" fill-opacity="0.05"/><rect x="9.0" y="69.2" width="3.9" height="2.8" fill-opacity="0.06"/><rect x="56.3" y="56.1" width="3.0" height="2.8" fill-opacity="0.06"/><rect x="42.3" y="40.3" width="3.6" height="2.8" fill-opacity="0.07"/><rect x="92.7" y="32.4" width="4.6" height="2.8" fill-opacity="0.05"/><rect x="26.7" y="55.2" width="3.3" height="2.8" fill-opacity="0.08"/><rect x="88.1" y="8.0" width="5.8" height="2.8" fill-opacity="0.06"/><rect x="74.9" y="62.9" width="3.9" height="2.8" fill-opacity="0.08"/><rect x="63.4" y="66.9" width="3.8" height="2.8" fill-opacity="0.08"/><rect x="93.2" y="55.8" width="4.6" height="2.8" fill-opacity="0.05"/><rect x="47.9" y="29.2" width="5.2" height="2.8" fill-opacity="0.08"/><rect x="54.9" y="15.1" width="4.9" height="2.8" fill-opacity="0.07"/><rect x="17.4" y="73.9" width="5.0" height="2.8" fill-opacity="0.05"/><rect x="90.4" y="11.7" width="4.0" height="2.8" fill-opacity="0.08"/><rect x="58.0" y="46.1" width="4.9" height="2.8" fill-opacity="0.07"/><rect x="30.3" y="14.6" width="3.2" height="2.8" fill-opacity="0.08"/><rect x="73.2" y="45.1" width="5.2" height="2.8" fill-opacity="0.06"/><rect x="25.8" y="31.8" width="5.6" height="2.8" fill-opacity="0.05"/><rect x="49.0" y="20.5" width="5.3" height="2.8" fill-opacity="0.06"/><rect x="32.3" y="33.5" width="4.6" height="2.8" fill-opacity="0.08"/><rect x="34.2" y="70.3" width="3.3" height="2.8" fill-opacity="0.06"/><rect x="9.7" y="9.4" width="5.3" height="2.8" fill-opacity="0.08"/><rect x="17.9" y="15.7" width="4.2" height="2.8" fill-opacity="0.08"/><rect x="79.1" y="62.1" width="4.8" height="2.8" fill-opacity="0.05"/><rect x="38.6" y="16.1" width="4.6" height="2.8" fill-opacity="0.07"/><rect x="19.6" y="20.8" width="5.3" height="2.8" fill-opacity="0.05"/><rect x="77.9" y="74.0" width="5.8" height="2.8" fill-opacity="0.06"/><rect x="53.6" y="48.4" width="4.9" height="2.8" fill-opacity="0.09"/><rect x="66.6" y="24.9" width="5.6" height="2.8" fill-opacity="0.07"/><rect x="58.3" y="60.3" width="3.0" height="2.8" fill-opacity="0.08"/><rect x="64.2" y="40.8" width="4.6" height="2.8" fill-opacity="0.07"/><rect x="18.8" y="44.0" width="3.1" height="2.8" fill-opacity="0.07"/><rect x="62.7" y="36.9" width="4.7" height="2.8" fill-opacity="0.09"/><rect x="86.5" y="11.3" width="5.4" height="2.8" fill-opacity="0.07"/><rect x="4.9" y="29.9" width="3.7" height="2.8" fill-opacity="0.05"/><rect x="52.3" y="77.2" width="4.0" height="2.8" fill-opacity="0.08"/><rect x="67.4" y="11.2" width="5.6" height="2.8" fill-opacity="0.07"/><rect x="89.9" y="59.4" width="5.2" height="2.8" fill-opacity="0.06"/><rect x="78.2" y="77.3" width="5.6" height="2.8" fill-opacity="0.06"/><rect x="73.4" y="40.3" width="3.3" height="2.8" fill-opacity="0.05"/><rect x="7.6" y="16.6" width="3.5" height="2.8" fill-opacity="0.07"/><rect x="67.8" y="44.6" width="4.3" height="2.8" fill-opacity="0.07"/><rect x="29.6" y="38.5" width="5.3" height="2.8" fill-opacity="0.06"/><rect x="17.5" y="74.7" width="5.2" height="2.8" fill-opacity="0.06"/><rect x="36.0" y="43.9" width="4.8" height="2.8" fill-opacity="0.06"/><rect x="0.3" y="17.3" width="5.3" height="2.8" fill-opacity="0.05"/><rect x="44.6" y="16.2" width="3.6" height="2.8" fill-opacity="0.05"/></g></pattern>
<pattern id="tr" width="89" height="79" patternUnits="userSpaceOnUse"><g fill="#fff"><rect x="28.8" y="11.9" width="3.8" height="3.0" fill-opacity="0.06"/><rect x="47.7" y="28.9" width="2.7" height="3.0" fill-opacity="0.09"/><rect x="3.3" y="34.3" width="2.7" height="3.0" fill-opacity="0.07"/><rect x="37.8" y="65.3" width="2.8" height="3.0" fill-opacity="0.07"/><rect x="55.8" y="74.9" width="3.7" height="3.0" fill-opacity="0.08"/><rect x="86.9" y="3.7" width="4.2" height="3.0" fill-opacity="0.08"/><rect x="12.8" y="9.3" width="3.2" height="3.0" fill-opacity="0.11"/><rect x="16.1" y="45.9" width="3.8" height="3.0" fill-opacity="0.08"/><rect x="48.7" y="5.0" width="2.7" height="3.0" fill-opacity="0.07"/><rect x="60.6" y="33.8" width="3.2" height="3.0" fill-opacity="0.10"/><rect x="40.3" y="23.7" width="4.1" height="3.0" fill-opacity="0.10"/><rect x="21.7" y="45.4" width="3.6" height="3.0" fill-opacity="0.11"/><rect x="64.9" y="22.7" width="4.5" height="3.0" fill-opacity="0.07"/><rect x="37.2" y="59.8" width="2.9" height="3.0" fill-opacity="0.09"/><rect x="3.5" y="52.8" width="4.1" height="3.0" fill-opacity="0.09"/><rect x="77.9" y="24.8" width="3.9" height="3.0" fill-opacity="0.10"/><rect x="51.6" y="36.0" width="4.2" height="3.0" fill-opacity="0.12"/><rect x="42.2" y="52.5" width="2.7" height="3.0" fill-opacity="0.10"/><rect x="57.6" y="78.5" width="4.2" height="3.0" fill-opacity="0.08"/><rect x="34.3" y="52.8" width="2.6" height="3.0" fill-opacity="0.09"/><rect x="15.0" y="9.3" width="2.7" height="3.0" fill-opacity="0.11"/><rect x="11.5" y="19.6" width="3.3" height="3.0" fill-opacity="0.11"/><rect x="7.2" y="35.5" width="3.6" height="3.0" fill-opacity="0.11"/><rect x="72.9" y="68.3" width="3.1" height="3.0" fill-opacity="0.08"/><rect x="31.9" y="69.9" width="4.4" height="3.0" fill-opacity="0.07"/><rect x="15.7" y="18.3" width="3.0" height="3.0" fill-opacity="0.09"/><rect x="52.4" y="20.8" width="2.6" height="3.0" fill-opacity="0.09"/><rect x="32.9" y="44.7" width="4.4" height="3.0" fill-opacity="0.10"/><rect x="45.9" y="48.8" width="3.9" height="3.0" fill-opacity="0.06"/><rect x="80.1" y="61.6" width="4.3" height="3.0" fill-opacity="0.11"/><rect x="34.9" y="31.5" width="2.8" height="3.0" fill-opacity="0.10"/><rect x="5.5" y="5.3" width="3.0" height="3.0" fill-opacity="0.07"/><rect x="30.3" y="4.2" width="2.6" height="3.0" fill-opacity="0.07"/><rect x="9.0" y="28.7" width="2.6" height="3.0" fill-opacity="0.11"/><rect x="54.7" y="11.7" width="3.1" height="3.0" fill-opacity="0.08"/><rect x="32.4" y="9.7" width="4.2" height="3.0" fill-opacity="0.12"/><rect x="41.5" y="38.2" width="2.8" height="3.0" fill-opacity="0.07"/><rect x="30.5" y="20.9" width="4.2" height="3.0" fill-opacity="0.07"/><rect x="2.1" y="75.1" width="3.6" height="3.0" fill-opacity="0.07"/><rect x="48.3" y="2.1" width="3.6" height="3.0" fill-opacity="0.12"/><rect x="76.8" y="55.0" width="3.1" height="3.0" fill-opacity="0.08"/><rect x="14.9" y="61.0" width="3.6" height="3.0" fill-opacity="0.11"/><rect x="29.3" y="17.6" width="4.1" height="3.0" fill-opacity="0.12"/><rect x="75.9" y="63.7" width="4.2" height="3.0" fill-opacity="0.10"/><rect x="20.2" y="40.9" width="3.3" height="3.0" fill-opacity="0.06"/><rect x="2.5" y="22.1" width="3.1" height="3.0" fill-opacity="0.10"/><rect x="85.1" y="35.3" width="4.4" height="3.0" fill-opacity="0.12"/><rect x="85.0" y="28.8" width="3.0" height="3.0" fill-opacity="0.07"/><rect x="17.5" y="16.1" width="3.8" height="3.0" fill-opacity="0.11"/><rect x="74.8" y="37.9" width="3.8" height="3.0" fill-opacity="0.11"/><rect x="7.5" y="52.2" width="4.3" height="3.0" fill-opacity="0.11"/><rect x="66.8" y="37.8" width="2.9" height="3.0" fill-opacity="0.11"/><rect x="29.6" y="63.3" width="4.4" height="3.0" fill-opacity="0.08"/><rect x="35.7" y="74.8" width="4.0" height="3.0" fill-opacity="0.07"/><rect x="11.3" y="11.9" width="4.3" height="3.0" fill-opacity="0.11"/><rect x="13.0" y="65.3" width="4.5" height="3.0" fill-opacity="0.10"/><rect x="31.2" y="43.3" width="2.8" height="3.0" fill-opacity="0.06"/><rect x="86.4" y="51.3" width="3.6" height="3.0" fill-opacity="0.12"/><rect x="38.6" y="68.9" width="4.2" height="3.0" fill-opacity="0.07"/><rect x="22.4" y="23.1" width="3.1" height="3.0" fill-opacity="0.10"/><rect x="23.1" y="33.1" width="2.8" height="3.0" fill-opacity="0.11"/><rect x="31.5" y="36.2" width="3.7" height="3.0" fill-opacity="0.11"/><rect x="37.4" y="72.5" width="3.6" height="3.0" fill-opacity="0.09"/><rect x="46.6" y="1.5" width="3.4" height="3.0" fill-opacity="0.07"/><rect x="0.3" y="63.1" width="2.9" height="3.0" fill-opacity="0.09"/><rect x="64.5" y="44.0" width="3.2" height="3.0" fill-opacity="0.09"/><rect x="49.4" y="62.0" width="2.8" height="3.0" fill-opacity="0.09"/><rect x="22.1" y="21.9" width="4.1" height="3.0" fill-opacity="0.09"/><rect x="50.0" y="60.0" width="4.3" height="3.0" fill-opacity="0.09"/><rect x="54.5" y="39.9" width="3.6" height="3.0" fill-opacity="0.10"/><rect x="40.3" y="42.1" width="3.5" height="3.0" fill-opacity="0.12"/><rect x="62.2" y="69.2" width="4.4" height="3.0" fill-opacity="0.08"/><rect x="49.8" y="74.5" width="4.2" height="3.0" fill-opacity="0.07"/><rect x="10.8" y="34.9" width="2.7" height="3.0" fill-opacity="0.07"/><rect x="6.5" y="52.9" width="4.1" height="3.0" fill-opacity="0.11"/><rect x="13.7" y="56.6" width="3.9" height="3.0" fill-opacity="0.07"/><rect x="78.6" y="76.4" width="3.0" height="3.0" fill-opacity="0.12"/><rect x="35.4" y="38.5" width="4.5" height="3.0" fill-opacity="0.11"/><rect x="14.4" y="34.1" width="3.6" height="3.0" fill-opacity="0.08"/><rect x="17.4" y="25.2" width="4.0" height="3.0" fill-opacity="0.06"/><rect x="49.3" y="34.8" width="2.6" height="3.0" fill-opacity="0.08"/><rect x="55.5" y="40.5" width="2.7" height="3.0" fill-opacity="0.12"/><rect x="70.2" y="76.8" width="2.8" height="3.0" fill-opacity="0.08"/><rect x="3.5" y="61.5" width="3.1" height="3.0" fill-opacity="0.07"/><rect x="37.6" y="72.0" width="4.2" height="3.0" fill-opacity="0.08"/><rect x="13.3" y="72.6" width="3.7" height="3.0" fill-opacity="0.10"/><rect x="8.0" y="4.5" width="3.9" height="3.0" fill-opacity="0.09"/><rect x="6.4" y="74.1" width="3.8" height="3.0" fill-opacity="0.11"/><rect x="7.5" y="67.6" width="2.7" height="3.0" fill-opacity="0.11"/><rect x="40.4" y="26.8" width="3.7" height="3.0" fill-opacity="0.12"/><rect x="23.8" y="10.2" width="3.6" height="3.0" fill-opacity="0.07"/><rect x="9.7" y="12.8" width="2.7" height="3.0" fill-opacity="0.07"/><rect x="27.8" y="24.1" width="4.0" height="3.0" fill-opacity="0.08"/><rect x="44.5" y="14.1" width="3.3" height="3.0" fill-opacity="0.06"/><rect x="22.3" y="1.2" width="4.0" height="3.0" fill-opacity="0.09"/><rect x="16.9" y="37.5" width="4.4" height="3.0" fill-opacity="0.07"/><rect x="72.9" y="34.1" width="3.5" height="3.0" fill-opacity="0.11"/><rect x="35.0" y="40.0" width="3.9" height="3.0" fill-opacity="0.12"/><rect x="30.5" y="65.8" width="3.9" height="3.0" fill-opacity="0.10"/><rect x="36.0" y="27.5" width="2.7" height="3.0" fill-opacity="0.07"/><rect x="6.3" y="58.5" width="3.1" height="3.0" fill-opacity="0.07"/><rect x="7.5" y="66.5" width="4.3" height="3.0" fill-opacity="0.10"/><rect x="25.1" y="19.1" width="3.2" height="3.0" fill-opacity="0.09"/><rect x="14.0" y="35.2" width="3.1" height="3.0" fill-opacity="0.12"/><rect x="86.6" y="43.2" width="3.1" height="3.0" fill-opacity="0.12"/><rect x="27.5" y="28.2" width="2.6" height="3.0" fill-opacity="0.08"/><rect x="42.2" y="39.7" width="3.0" height="3.0" fill-opacity="0.09"/><rect x="0.4" y="20.9" width="2.8" height="3.0" fill-opacity="0.08"/><rect x="3.7" y="1.8" width="3.2" height="3.0" fill-opacity="0.07"/><rect x="52.1" y="41.8" width="4.0" height="3.0" fill-opacity="0.10"/><rect x="63.7" y="69.4" width="3.3" height="3.0" fill-opacity="0.08"/><rect x="87.6" y="11.8" width="4.0" height="3.0" fill-opacity="0.10"/><rect x="3.9" y="66.0" width="4.3" height="3.0" fill-opacity="0.10"/><rect x="65.3" y="64.2" width="2.9" height="3.0" fill-opacity="0.09"/><rect x="44.9" y="66.0" width="4.1" height="3.0" fill-opacity="0.11"/><rect x="52.0" y="70.5" width="3.9" height="3.0" fill-opacity="0.10"/><rect x="20.5" y="2.5" width="2.9" height="3.0" fill-opacity="0.08"/><rect x="9.3" y="66.0" width="3.7" height="3.0" fill-opacity="0.10"/><rect x="55.7" y="53.8" width="3.5" height="3.0" fill-opacity="0.06"/><rect x="71.0" y="59.1" width="3.6" height="3.0" fill-opacity="0.09"/><rect x="58.7" y="5.2" width="4.0" height="3.0" fill-opacity="0.08"/><rect x="6.6" y="21.0" width="4.0" height="3.0" fill-opacity="0.07"/><rect x="65.8" y="77.1" width="3.5" height="3.0" fill-opacity="0.08"/><rect x="42.6" y="54.0" width="4.1" height="3.0" fill-opacity="0.10"/><rect x="57.2" y="6.1" width="2.9" height="3.0" fill-opacity="0.08"/><rect x="66.1" y="24.0" width="3.7" height="3.0" fill-opacity="0.06"/><rect x="5.4" y="21.2" width="3.9" height="3.0" fill-opacity="0.10"/><rect x="60.1" y="23.0" width="3.6" height="3.0" fill-opacity="0.09"/><rect x="41.5" y="9.4" width="4.3" height="3.0" fill-opacity="0.07"/><rect x="87.1" y="74.0" width="2.6" height="3.0" fill-opacity="0.09"/><rect x="73.0" y="76.5" width="3.5" height="3.0" fill-opacity="0.08"/><rect x="18.7" y="74.7" width="3.0" height="3.0" fill-opacity="0.09"/><rect x="12.6" y="41.4" width="4.4" height="3.0" fill-opacity="0.07"/><rect x="73.0" y="40.2" width="4.3" height="3.0" fill-opacity="0.10"/><rect x="20.6" y="70.9" width="3.5" height="3.0" fill-opacity="0.06"/><rect x="0.3" y="38.8" width="3.5" height="3.0" fill-opacity="0.08"/><rect x="12.5" y="27.2" width="3.2" height="3.0" fill-opacity="0.11"/><rect x="0.2" y="59.3" width="4.2" height="3.0" fill-opacity="0.07"/><rect x="82.4" y="56.3" width="4.3" height="3.0" fill-opacity="0.08"/><rect x="33.1" y="31.0" width="4.5" height="3.0" fill-opacity="0.10"/><rect x="32.1" y="33.8" width="3.1" height="3.0" fill-opacity="0.06"/><rect x="9.1" y="65.9" width="3.1" height="3.0" fill-opacity="0.12"/><rect x="22.2" y="21.0" width="3.6" height="3.0" fill-opacity="0.07"/><rect x="33.2" y="75.5" width="4.3" height="3.0" fill-opacity="0.11"/><rect x="56.1" y="72.2" width="4.4" height="3.0" fill-opacity="0.09"/><rect x="64.0" y="3.9" width="4.0" height="3.0" fill-opacity="0.09"/><rect x="67.0" y="50.9" width="3.1" height="3.0" fill-opacity="0.06"/><rect x="82.5" y="10.1" width="3.5" height="3.0" fill-opacity="0.08"/><rect x="26.5" y="58.4" width="4.5" height="3.0" fill-opacity="0.08"/><rect x="58.4" y="23.8" width="3.7" height="3.0" fill-opacity="0.08"/><rect x="14.9" y="12.8" width="3.0" height="3.0" fill-opacity="0.11"/><rect x="44.2" y="17.4" width="4.3" height="3.0" fill-opacity="0.12"/><rect x="40.0" y="11.0" width="3.0" height="3.0" fill-opacity="0.07"/><rect x="30.4" y="7.2" width="3.1" height="3.0" fill-opacity="0.08"/><rect x="50.7" y="70.1" width="4.0" height="3.0" fill-opacity="0.08"/><rect x="36.8" y="41.4" width="3.3" height="3.0" fill-opacity="0.08"/><rect x="5.5" y="21.9" width="4.4" height="3.0" fill-opacity="0.07"/><rect x="44.8" y="49.7" width="4.2" height="3.0" fill-opacity="0.07"/><rect x="24.1" y="19.6" width="3.4" height="3.0" fill-opacity="0.09"/><rect x="84.9" y="67.0" width="4.3" height="3.0" fill-opacity="0.06"/><rect x="2.9" y="56.1" width="4.3" height="3.0" fill-opacity="0.09"/><rect x="52.3" y="0.0" width="3.3" height="3.0" fill-opacity="0.12"/><rect x="73.5" y="67.6" width="4.4" height="3.0" fill-opacity="0.07"/><rect x="9.7" y="12.2" width="3.6" height="3.0" fill-opacity="0.10"/><rect x="83.8" y="57.0" width="3.8" height="3.0" fill-opacity="0.11"/><rect x="40.7" y="43.6" width="2.7" height="3.0" fill-opacity="0.11"/><rect x="20.7" y="72.7" width="3.8" height="3.0" fill-opacity="0.08"/><rect x="11.4" y="19.9" width="3.8" height="3.0" fill-opacity="0.10"/><rect x="10.0" y="5.6" width="3.6" height="3.0" fill-opacity="0.09"/><rect x="34.5" y="17.7" width="3.7" height="3.0" fill-opacity="0.06"/><rect x="26.8" y="36.4" width="4.4" height="3.0" fill-opacity="0.10"/><rect x="78.7" y="37.5" width="3.0" height="3.0" fill-opacity="0.07"/><rect x="85.5" y="55.7" width="3.2" height="3.0" fill-opacity="0.06"/><rect x="44.3" y="53.3" width="3.4" height="3.0" fill-opacity="0.08"/><rect x="59.4" y="73.1" width="3.0" height="3.0" fill-opacity="0.06"/><rect x="30.1" y="33.2" width="3.9" height="3.0" fill-opacity="0.07"/><rect x="70.9" y="58.4" width="3.6" height="3.0" fill-opacity="0.07"/><rect x="86.3" y="24.6" width="4.2" height="3.0" fill-opacity="0.07"/><rect x="19.7" y="60.1" width="3.2" height="3.0" fill-opacity="0.12"/><rect x="44.1" y="14.8" width="3.0" height="3.0" fill-opacity="0.09"/><rect x="59.2" y="75.0" width="2.9" height="3.0" fill-opacity="0.08"/><rect x="19.0" y="77.0" width="2.9" height="3.0" fill-opacity="0.06"/><rect x="5.4" y="31.1" width="4.3" height="3.0" fill-opacity="0.11"/><rect x="65.2" y="78.8" width="4.4" height="3.0" fill-opacity="0.08"/><rect x="16.5" y="73.9" width="4.0" height="3.0" fill-opacity="0.06"/><rect x="59.1" y="29.9" width="3.3" height="3.0" fill-opacity="0.08"/><rect x="15.1" y="0.2" width="3.1" height="3.0" fill-opacity="0.08"/><rect x="85.0" y="9.8" width="4.4" height="3.0" fill-opacity="0.07"/><rect x="31.7" y="64.9" width="4.2" height="3.0" fill-opacity="0.09"/><rect x="4.4" y="37.4" width="3.3" height="3.0" fill-opacity="0.12"/><rect x="17.2" y="28.8" width="4.3" height="3.0" fill-opacity="0.06"/><rect x="36.6" y="64.1" width="4.1" height="3.0" fill-opacity="0.06"/><rect x="3.1" y="4.9" width="4.3" height="3.0" fill-opacity="0.08"/><rect x="66.5" y="71.0" width="3.2" height="3.0" fill-opacity="0.08"/><rect x="85.2" y="48.7" width="3.1" height="3.0" fill-opacity="0.10"/><rect x="28.2" y="21.8" width="2.6" height="3.0" fill-opacity="0.11"/><rect x="81.6" y="50.1" width="4.4" height="3.0" fill-opacity="0.06"/><rect x="20.8" y="37.5" width="4.4" height="3.0" fill-opacity="0.12"/><rect x="34.4" y="19.8" width="3.4" height="3.0" fill-opacity="0.09"/><rect x="82.6" y="14.5" width="4.1" height="3.0" fill-opacity="0.10"/><rect x="73.2" y="61.1" width="3.8" height="3.0" fill-opacity="0.08"/><rect x="28.4" y="28.6" width="4.1" height="3.0" fill-opacity="0.06"/><rect x="17.6" y="59.5" width="3.1" height="3.0" fill-opacity="0.06"/><rect x="3.0" y="43.7" width="3.2" height="3.0" fill-opacity="0.12"/><rect x="78.6" y="78.0" width="3.1" height="3.0" fill-opacity="0.07"/><rect x="8.6" y="39.4" width="3.9" height="3.0" fill-opacity="0.09"/><rect x="20.8" y="32.9" width="3.8" height="3.0" fill-opacity="0.10"/><rect x="66.6" y="66.9" width="3.9" height="3.0" fill-opacity="0.07"/><rect x="74.8" y="23.2" width="3.7" height="3.0" fill-opacity="0.08"/><rect x="65.7" y="15.7" width="3.1" height="3.0" fill-opacity="0.07"/><rect x="13.6" y="69.8" width="3.7" height="3.0" fill-opacity="0.08"/><rect x="35.3" y="78.4" width="3.6" height="3.0" fill-opacity="0.07"/><rect x="72.0" y="51.6" width="4.5" height="3.0" fill-opacity="0.07"/><rect x="42.3" y="64.7" width="4.2" height="3.0" fill-opacity="0.11"/><rect x="3.6" y="23.2" width="2.8" height="3.0" fill-opacity="0.07"/><rect x="86.6" y="46.1" width="4.4" height="3.0" fill-opacity="0.08"/><rect x="77.1" y="35.5" width="3.1" height="3.0" fill-opacity="0.11"/><rect x="84.2" y="8.4" width="3.7" height="3.0" fill-opacity="0.10"/><rect x="19.4" y="29.1" width="2.9" height="3.0" fill-opacity="0.07"/><rect x="22.7" y="47.4" width="3.8" height="3.0" fill-opacity="0.07"/><rect x="1.0" y="25.9" width="3.9" height="3.0" fill-opacity="0.07"/><rect x="27.8" y="16.1" width="4.1" height="3.0" fill-opacity="0.09"/><rect x="5.6" y="8.0" width="3.4" height="3.0" fill-opacity="0.09"/><rect x="56.9" y="7.2" width="2.9" height="3.0" fill-opacity="0.10"/><rect x="36.5" y="22.4" width="3.2" height="3.0" fill-opacity="0.12"/><rect x="27.8" y="44.8" width="3.3" height="3.0" fill-opacity="0.08"/><rect x="76.9" y="78.7" width="3.3" height="3.0" fill-opacity="0.07"/><rect x="64.8" y="16.1" width="2.6" height="3.0" fill-opacity="0.11"/><rect x="37.7" y="64.8" width="3.4" height="3.0" fill-opacity="0.11"/><rect x="41.0" y="12.8" width="2.6" height="3.0" fill-opacity="0.09"/><rect x="57.0" y="71.9" width="2.8" height="3.0" fill-opacity="0.10"/><rect x="33.0" y="39.9" width="2.9" height="3.0" fill-opacity="0.08"/><rect x="46.4" y="73.1" width="2.8" height="3.0" fill-opacity="0.09"/><rect x="71.6" y="76.4" width="3.0" height="3.0" fill-opacity="0.07"/><rect x="83.9" y="77.1" width="3.5" height="3.0" fill-opacity="0.06"/><rect x="82.4" y="30.6" width="4.3" height="3.0" fill-opacity="0.10"/><rect x="73.4" y="12.7" width="4.1" height="3.0" fill-opacity="0.07"/><rect x="36.0" y="66.9" width="4.2" height="3.0" fill-opacity="0.07"/><rect x="19.4" y="31.6" width="3.6" height="3.0" fill-opacity="0.08"/><rect x="11.0" y="19.5" width="4.0" height="3.0" fill-opacity="0.11"/><rect x="3.7" y="44.4" width="4.0" height="3.0" fill-opacity="0.06"/><rect x="74.6" y="9.3" width="3.7" height="3.0" fill-opacity="0.09"/><rect x="55.8" y="24.2" width="3.4" height="3.0" fill-opacity="0.09"/><rect x="37.9" y="52.0" width="3.4" height="3.0" fill-opacity="0.09"/><rect x="2.1" y="48.9" width="3.5" height="3.0" fill-opacity="0.07"/><rect x="68.0" y="61.6" width="3.5" height="3.0" fill-opacity="0.07"/><rect x="42.1" y="8.5" width="2.8" height="3.0" fill-opacity="0.09"/><rect x="8.2" y="34.9" width="3.6" height="3.0" fill-opacity="0.06"/><rect x="56.6" y="6.5" width="4.0" height="3.0" fill-opacity="0.11"/><rect x="45.5" y="4.3" width="3.6" height="3.0" fill-opacity="0.08"/><rect x="84.6" y="10.8" width="4.2" height="3.0" fill-opacity="0.12"/><rect x="65.2" y="64.4" width="3.0" height="3.0" fill-opacity="0.12"/><rect x="43.8" y="75.6" width="4.3" height="3.0" fill-opacity="0.07"/><rect x="70.2" y="73.5" width="2.7" height="3.0" fill-opacity="0.08"/><rect x="67.3" y="12.5" width="4.3" height="3.0" fill-opacity="0.08"/><rect x="72.6" y="11.3" width="3.6" height="3.0" fill-opacity="0.12"/><rect x="18.5" y="20.8" width="3.6" height="3.0" fill-opacity="0.08"/><rect x="3.3" y="14.4" width="2.9" height="3.0" fill-opacity="0.12"/><rect x="60.5" y="70.7" width="2.9" height="3.0" fill-opacity="0.11"/><rect x="10.2" y="41.9" width="3.8" height="3.0" fill-opacity="0.08"/><rect x="77.7" y="43.9" width="3.7" height="3.0" fill-opacity="0.11"/><rect x="9.3" y="78.4" width="3.8" height="3.0" fill-opacity="0.08"/><rect x="71.0" y="20.9" width="4.5" height="3.0" fill-opacity="0.09"/><rect x="32.1" y="60.4" width="3.4" height="3.0" fill-opacity="0.07"/><rect x="66.2" y="3.8" width="4.2" height="3.0" fill-opacity="0.08"/><rect x="56.9" y="77.7" width="3.7" height="3.0" fill-opacity="0.10"/><rect x="27.8" y="0.1" width="2.7" height="3.0" fill-opacity="0.07"/><rect x="54.8" y="34.1" width="3.6" height="3.0" fill-opacity="0.11"/><rect x="11.8" y="18.0" width="3.8" height="3.0" fill-opacity="0.06"/><rect x="0.2" y="28.0" width="2.8" height="3.0" fill-opacity="0.08"/><rect x="20.0" y="46.1" width="3.7" height="3.0" fill-opacity="0.07"/><rect x="55.5" y="37.5" width="2.9" height="3.0" fill-opacity="0.12"/><rect x="21.7" y="11.8" width="2.8" height="3.0" fill-opacity="0.10"/><rect x="77.5" y="61.8" width="3.4" height="3.0" fill-opacity="0.08"/><rect x="1.0" y="51.0" width="3.7" height="3.0" fill-opacity="0.08"/><rect x="57.5" y="35.1" width="4.4" height="3.0" fill-opacity="0.10"/><rect x="22.1" y="71.4" width="2.7" height="3.0" fill-opacity="0.09"/><rect x="36.1" y="18.8" width="2.7" height="3.0" fill-opacity="0.11"/><rect x="1.1" y="43.5" width="4.4" height="3.0" fill-opacity="0.07"/><rect x="17.8" y="48.0" width="3.6" height="3.0" fill-opacity="0.10"/><rect x="72.4" y="13.8" width="3.2" height="3.0" fill-opacity="0.08"/><rect x="4.3" y="70.3" width="4.1" height="3.0" fill-opacity="0.10"/><rect x="0.6" y="66.7" width="4.0" height="3.0" fill-opacity="0.09"/><rect x="66.0" y="35.7" width="3.0" height="3.0" fill-opacity="0.07"/><rect x="20.7" y="3.1" width="3.2" height="3.0" fill-opacity="0.10"/><rect x="61.9" y="66.8" width="4.0" height="3.0" fill-opacity="0.08"/><rect x="49.3" y="34.4" width="4.1" height="3.0" fill-opacity="0.09"/><rect x="23.6" y="50.7" width="4.4" height="3.0" fill-opacity="0.07"/><rect x="78.3" y="1.2" width="3.1" height="3.0" fill-opacity="0.07"/><rect x="66.2" y="74.6" width="4.0" height="3.0" fill-opacity="0.08"/><rect x="78.3" y="26.0" width="3.1" height="3.0" fill-opacity="0.11"/><rect x="56.1" y="54.7" width="3.9" height="3.0" fill-opacity="0.12"/><rect x="41.8" y="66.3" width="3.9" height="3.0" fill-opacity="0.11"/><rect x="38.9" y="57.2" width="3.7" height="3.0" fill-opacity="0.08"/><rect x="18.9" y="49.2" width="2.7" height="3.0" fill-opacity="0.11"/><rect x="12.9" y="2.1" width="2.8" height="3.0" fill-opacity="0.12"/><rect x="30.7" y="11.2" width="2.7" height="3.0" fill-opacity="0.06"/><rect x="61.6" y="50.1" width="3.9" height="3.0" fill-opacity="0.10"/><rect x="5.9" y="46.6" width="3.3" height="3.0" fill-opacity="0.11"/><rect x="72.9" y="70.4" width="2.7" height="3.0" fill-opacity="0.11"/><rect x="81.4" y="74.6" width="2.8" height="3.0" fill-opacity="0.07"/><rect x="10.0" y="2.7" width="4.2" height="3.0" fill-opacity="0.11"/><rect x="56.4" y="65.2" width="3.8" height="3.0" fill-opacity="0.08"/><rect x="8.9" y="7.7" width="4.0" height="3.0" fill-opacity="0.07"/><rect x="28.4" y="33.5" width="2.6" height="3.0" fill-opacity="0.08"/><rect x="25.2" y="56.5" width="3.3" height="3.0" fill-opacity="0.08"/><rect x="85.8" y="39.8" width="4.2" height="3.0" fill-opacity="0.10"/><rect x="2.8" y="32.6" width="3.4" height="3.0" fill-opacity="0.11"/><rect x="30.9" y="55.7" width="3.6" height="3.0" fill-opacity="0.07"/><rect x="76.7" y="7.2" width="4.2" height="3.0" fill-opacity="0.07"/><rect x="0.1" y="16.0" width="4.0" height="3.0" fill-opacity="0.12"/><rect x="0.4" y="38.8" width="3.5" height="3.0" fill-opacity="0.11"/><rect x="16.4" y="39.1" width="3.3" height="3.0" fill-opacity="0.11"/><rect x="23.2" y="74.6" width="3.1" height="3.0" fill-opacity="0.07"/><rect x="62.3" y="39.4" width="2.8" height="3.0" fill-opacity="0.10"/><rect x="7.2" y="62.2" width="3.9" height="3.0" fill-opacity="0.11"/><rect x="55.9" y="28.1" width="3.4" height="3.0" fill-opacity="0.08"/><rect x="79.2" y="6.8" width="4.3" height="3.0" fill-opacity="0.06"/><rect x="18.3" y="20.8" width="4.3" height="3.0" fill-opacity="0.09"/><rect x="33.8" y="69.8" width="3.0" height="3.0" fill-opacity="0.09"/><rect x="47.3" y="59.6" width="4.0" height="3.0" fill-opacity="0.10"/><rect x="31.0" y="25.8" width="2.9" height="3.0" fill-opacity="0.11"/><rect x="58.9" y="58.6" width="2.9" height="3.0" fill-opacity="0.09"/><rect x="68.8" y="45.8" width="2.8" height="3.0" fill-opacity="0.09"/><rect x="78.8" y="18.8" width="3.0" height="3.0" fill-opacity="0.08"/><rect x="62.6" y="66.6" width="2.9" height="3.0" fill-opacity="0.07"/><rect x="22.0" y="25.8" width="3.6" height="3.0" fill-opacity="0.07"/><rect x="29.2" y="15.0" width="4.5" height="3.0" fill-opacity="0.10"/><rect x="9.1" y="76.0" width="2.8" height="3.0" fill-opacity="0.08"/><rect x="87.6" y="62.8" width="4.0" height="3.0" fill-opacity="0.09"/></g></pattern>
<clipPath id="call"><use href="#p0"/><use href="#p1"/><use href="#p2"/><use href="#p3"/><use href="#p4"/><use href="#p5"/><use href="#p6"/><use href="#p7"/><use href="#p8"/><use href="#p9"/><use href="#p10"/><use href="#p11"/><use href="#p12"/><use href="#p13"/><use href="#p14"/><use href="#p15"/><use href="#p16"/><use href="#p17"/><use href="#p18"/><use href="#p19"/><use href="#p20"/><use href="#p21"/><use href="#p22"/><use href="#p23"/><use href="#p24"/><use href="#p25"/><use href="#p26"/><use href="#p27"/><use href="#p28"/><use href="#p29"/><use href="#p30"/><use href="#p31"/><use href="#p32"/><use href="#p33"/><use href="#p34"/><use href="#p35"/><use href="#p36"/><use href="#p37"/><use href="#p38"/><use href="#p39"/><use href="#p40"/><use href="#p41"/><use href="#p42"/><use href="#p43"/><use href="#p44"/><use href="#p45"/><use href="#p46"/><use href="#p47"/><use href="#p48"/></clipPath>
<clipPath id="crid"><use href="#p0"/><use href="#p1"/><use href="#p2"/><use href="#p3"/><use href="#p4"/><use href="#p5"/><use href="#p6"/><use href="#p7"/><use href="#p8"/><use href="#p9"/><use href="#p10"/><use href="#p11"/><use href="#p12"/><use href="#p13"/><use href="#p14"/><use href="#p15"/><use href="#p16"/><use href="#p17"/></clipPath>
<linearGradient id="fade" gradientUnits="userSpaceOnUse" x1="1080" y1="0" x2="1500" y2="0"><stop offset="0" stop-color="#000"/><stop offset="1" stop-color="#fff"/></linearGradient>
<mask id="mfade" maskUnits="userSpaceOnUse" x="0" y="0" width="2068" height="1472"><rect width="2068" height="1472" fill="url(#fade)"/></mask></defs>
<g id="surface" stroke-width="1" stroke-linejoin="round"><use href="#p48" fill="url(#g48)" stroke="url(#g48)"/>
<use href="#p47" fill="url(#g47)" stroke="url(#g47)"/>
<use href="#p46" fill="url(#g46)" stroke="url(#g46)"/>
<use href="#p45" fill="url(#g45)" stroke="url(#g45)"/>
<use href="#p44" fill="url(#g44)" stroke="url(#g44)"/>
<use href="#p43" fill="url(#g43)" stroke="url(#g43)"/>
<use href="#p42" fill="url(#g42)" stroke="url(#g42)"/>
<use href="#p41" fill="url(#g41)" stroke="url(#g41)"/>
<use href="#p40" fill="url(#g40)" stroke="url(#g40)"/>
<use href="#p39" fill="url(#g39)" stroke="url(#g39)"/>
<use href="#p38" fill="url(#g38)" stroke="url(#g38)"/>
<use href="#p37" fill="url(#g37)" stroke="url(#g37)"/>
<use href="#p36" fill="url(#g36)" stroke="url(#g36)"/>
<use href="#p35" fill="url(#g35)" stroke="url(#g35)"/>
<use href="#p34" fill="url(#g34)" stroke="url(#g34)"/>
<use href="#p33" fill="url(#g33)" stroke="url(#g33)"/>
<use href="#p32" fill="url(#g32)" stroke="url(#g32)"/>
<use href="#p31" fill="url(#g31)" stroke="url(#g31)"/>
<use href="#p30" fill="url(#g30)" stroke="url(#g30)"/>
<use href="#p29" fill="url(#g29)" stroke="url(#g29)"/>
<use href="#p28" fill="url(#g28)" stroke="url(#g28)"/>
<use href="#p27" fill="url(#g27)" stroke="url(#g27)"/>
<use href="#p26" fill="url(#g26)" stroke="url(#g26)"/>
<use href="#p25" fill="url(#g25)" stroke="url(#g25)"/>
<use href="#p24" fill="url(#g24)" stroke="url(#g24)"/>
<use href="#p23" fill="url(#g23)" stroke="url(#g23)"/>
<use href="#p22" fill="url(#g22)" stroke="url(#g22)"/>
<use href="#p21" fill="url(#g21)" stroke="url(#g21)"/>
<use href="#p20" fill="url(#g20)" stroke="url(#g20)"/>
<use href="#p19" fill="url(#g19)" stroke="url(#g19)"/>
<use href="#p18" fill="url(#g18)" stroke="url(#g18)"/>
<use href="#p17" fill="url(#g17)" stroke="url(#g17)"/>
<use href="#p16" fill="url(#g16)" stroke="url(#g16)"/>
<use href="#p15" fill="url(#g15)" stroke="url(#g15)"/>
<use href="#p14" fill="url(#g14)" stroke="url(#g14)"/>
<use href="#p13" fill="url(#g13)" stroke="url(#g13)"/>
<use href="#p12" fill="url(#g12)" stroke="url(#g12)"/>
<use href="#p11" fill="url(#g11)" stroke="url(#g11)"/>
<use href="#p10" fill="url(#g10)" stroke="url(#g10)"/>
<use href="#p9" fill="url(#g9)" stroke="url(#g9)"/>
<use href="#p8" fill="url(#g8)" stroke="url(#g8)"/>
<use href="#p7" fill="url(#g7)" stroke="url(#g7)"/>
<use href="#p6" fill="url(#g6)" stroke="url(#g6)"/>
<use href="#p5" fill="url(#g5)" stroke="url(#g5)"/>
<use href="#p4" fill="url(#g4)" stroke="url(#g4)"/>
<use href="#p3" fill="url(#g3)" stroke="url(#g3)"/>
<use href="#p2" fill="url(#g2)" stroke="url(#g2)"/>
<use href="#p1" fill="url(#g1)" stroke="url(#g1)"/>
<use href="#p0" fill="url(#g0)" stroke="url(#g0)"/></g>
<rect x="400" y="500" width="1600" height="800" fill="url(#tb)" clip-path="url(#call)"/>
<g mask="url(#mfade)"><rect x="1000" y="500" width="1000" height="800" fill="url(#tr)" clip-path="url(#crid)"/></g>
<line x1="301.7" y1="1041.5" x2="301.7" y2="322.5" stroke="#858585" stroke-width="4.6"/>
<line x1="300.6" y1="322.5" x2="300.6" y2="1040.5" stroke="#000" stroke-opacity="0.8" stroke-width="2.3" stroke-dasharray="3.4 15.95" stroke-dashoffset="-0.8"/>
<g id="axes" stroke="#000" stroke-width="2.6" fill="none" stroke-linecap="butt" opacity="0.85">
<line x1="301.5" y1="1040.5" x2="1014.6" y2="1367.8"/>
<line x1="1014.6" y1="1367.8" x2="1946.4" y2="1116.2"/>
<line x1="301.5" y1="1040.5" x2="276.5" y2="1032.1"/>
<line x1="301.5" y1="861" x2="276.5" y2="852.6"/>
<line x1="301.5" y1="681.5" x2="276.5" y2="673.1"/>
<line x1="301.5" y1="502" x2="276.5" y2="493.6"/>
<line x1="301.5" y1="322.5" x2="276.5" y2="314.1"/>
<line x1="1014.6" y1="1367.8" x2="991.6" y2="1374.4"/>
<line x1="776.9" y1="1258.7" x2="753.9" y2="1265.3"/>
<line x1="539.2" y1="1149.6" x2="516.2" y2="1156.2"/>
<line x1="301.5" y1="1040.5" x2="278.5" y2="1047.1"/>
<line x1="1014.6" y1="1367.8" x2="1036.6" y2="1378.3"/>
<line x1="1325.2" y1="1283.9" x2="1347.2" y2="1294.4"/>
<line x1="1635.8" y1="1200.1" x2="1657.8" y2="1210.6"/>
<line x1="1946.4" y1="1116.2" x2="1968.4" y2="1126.7"/>
</g>
<g id="ticks" font-family="'Liberation Sans', Arial, Helvetica, sans-serif" font-size="52.5" fill="#000" stroke="#000" stroke-width="0.4">
<text x="262" y="1041.8" text-anchor="end">0</text>
<text x="260.6" y="862.3" text-anchor="end">0.05</text>
<text x="260.6" y="682.8" text-anchor="end">0.1</text>
<text x="260.6" y="503.3" text-anchor="end">0.15</text>
<text x="260.6" y="323.8" text-anchor="end">0.2</text>
<text x="960.6" y="1424.3" text-anchor="middle">0</text>
<text x="722.9" y="1315.2" text-anchor="middle">2</text>
<text x="485.2" y="1206.1" text-anchor="middle">4</text>
<text x="247.5" y="1097" text-anchor="middle">6</text>
<text x="1063.6" y="1431.8" text-anchor="middle">0</text>
<text x="1377.2" y="1345.4" text-anchor="middle">1</text>
<text x="1684.8" y="1264.1" text-anchor="middle">2</text>
<text x="1995.4" y="1180.2" text-anchor="middle">3</text>
<text x="1903" y="1354.5">x 10</text>
<text x="2001" y="1304" font-size="35.5">-3</text>
</g>
<g id="labels" font-family="'Liberation Serif', 'Times New Roman', Times, serif" font-size="71" fill="#000">
<text x="526.5" y="1429" text-anchor="middle">Speed/(m/s)</text>
<text x="1537" y="1429" text-anchor="middle">Clearance ratio</text>
<text transform="translate(110,748) rotate(-90)" text-anchor="middle">Friction coefficient</text>
</g>
<g id="one-feet" fill="#fff">
<rect x="203.5" y="497.8" width="11.2" height="7.4"/>
<rect x="220.3" y="497.8" width="10.9" height="7.4"/>
<rect x="232.5" y="677.8" width="11.2" height="7.4"/>
<rect x="250.3" y="677.8" width="9.9" height="7.4"/>
<rect x="1363.5" y="1339.8" width="11.2" height="7.4"/>
<rect x="1381.3" y="1339.8" width="9.9" height="7.4"/>
<rect x="1944.5" y="1349.8" width="12.2" height="7.4"/>
<rect x="1962.3" y="1349.8" width="10.9" height="7.4"/>
</g>
</svg>
</body>
</html>
